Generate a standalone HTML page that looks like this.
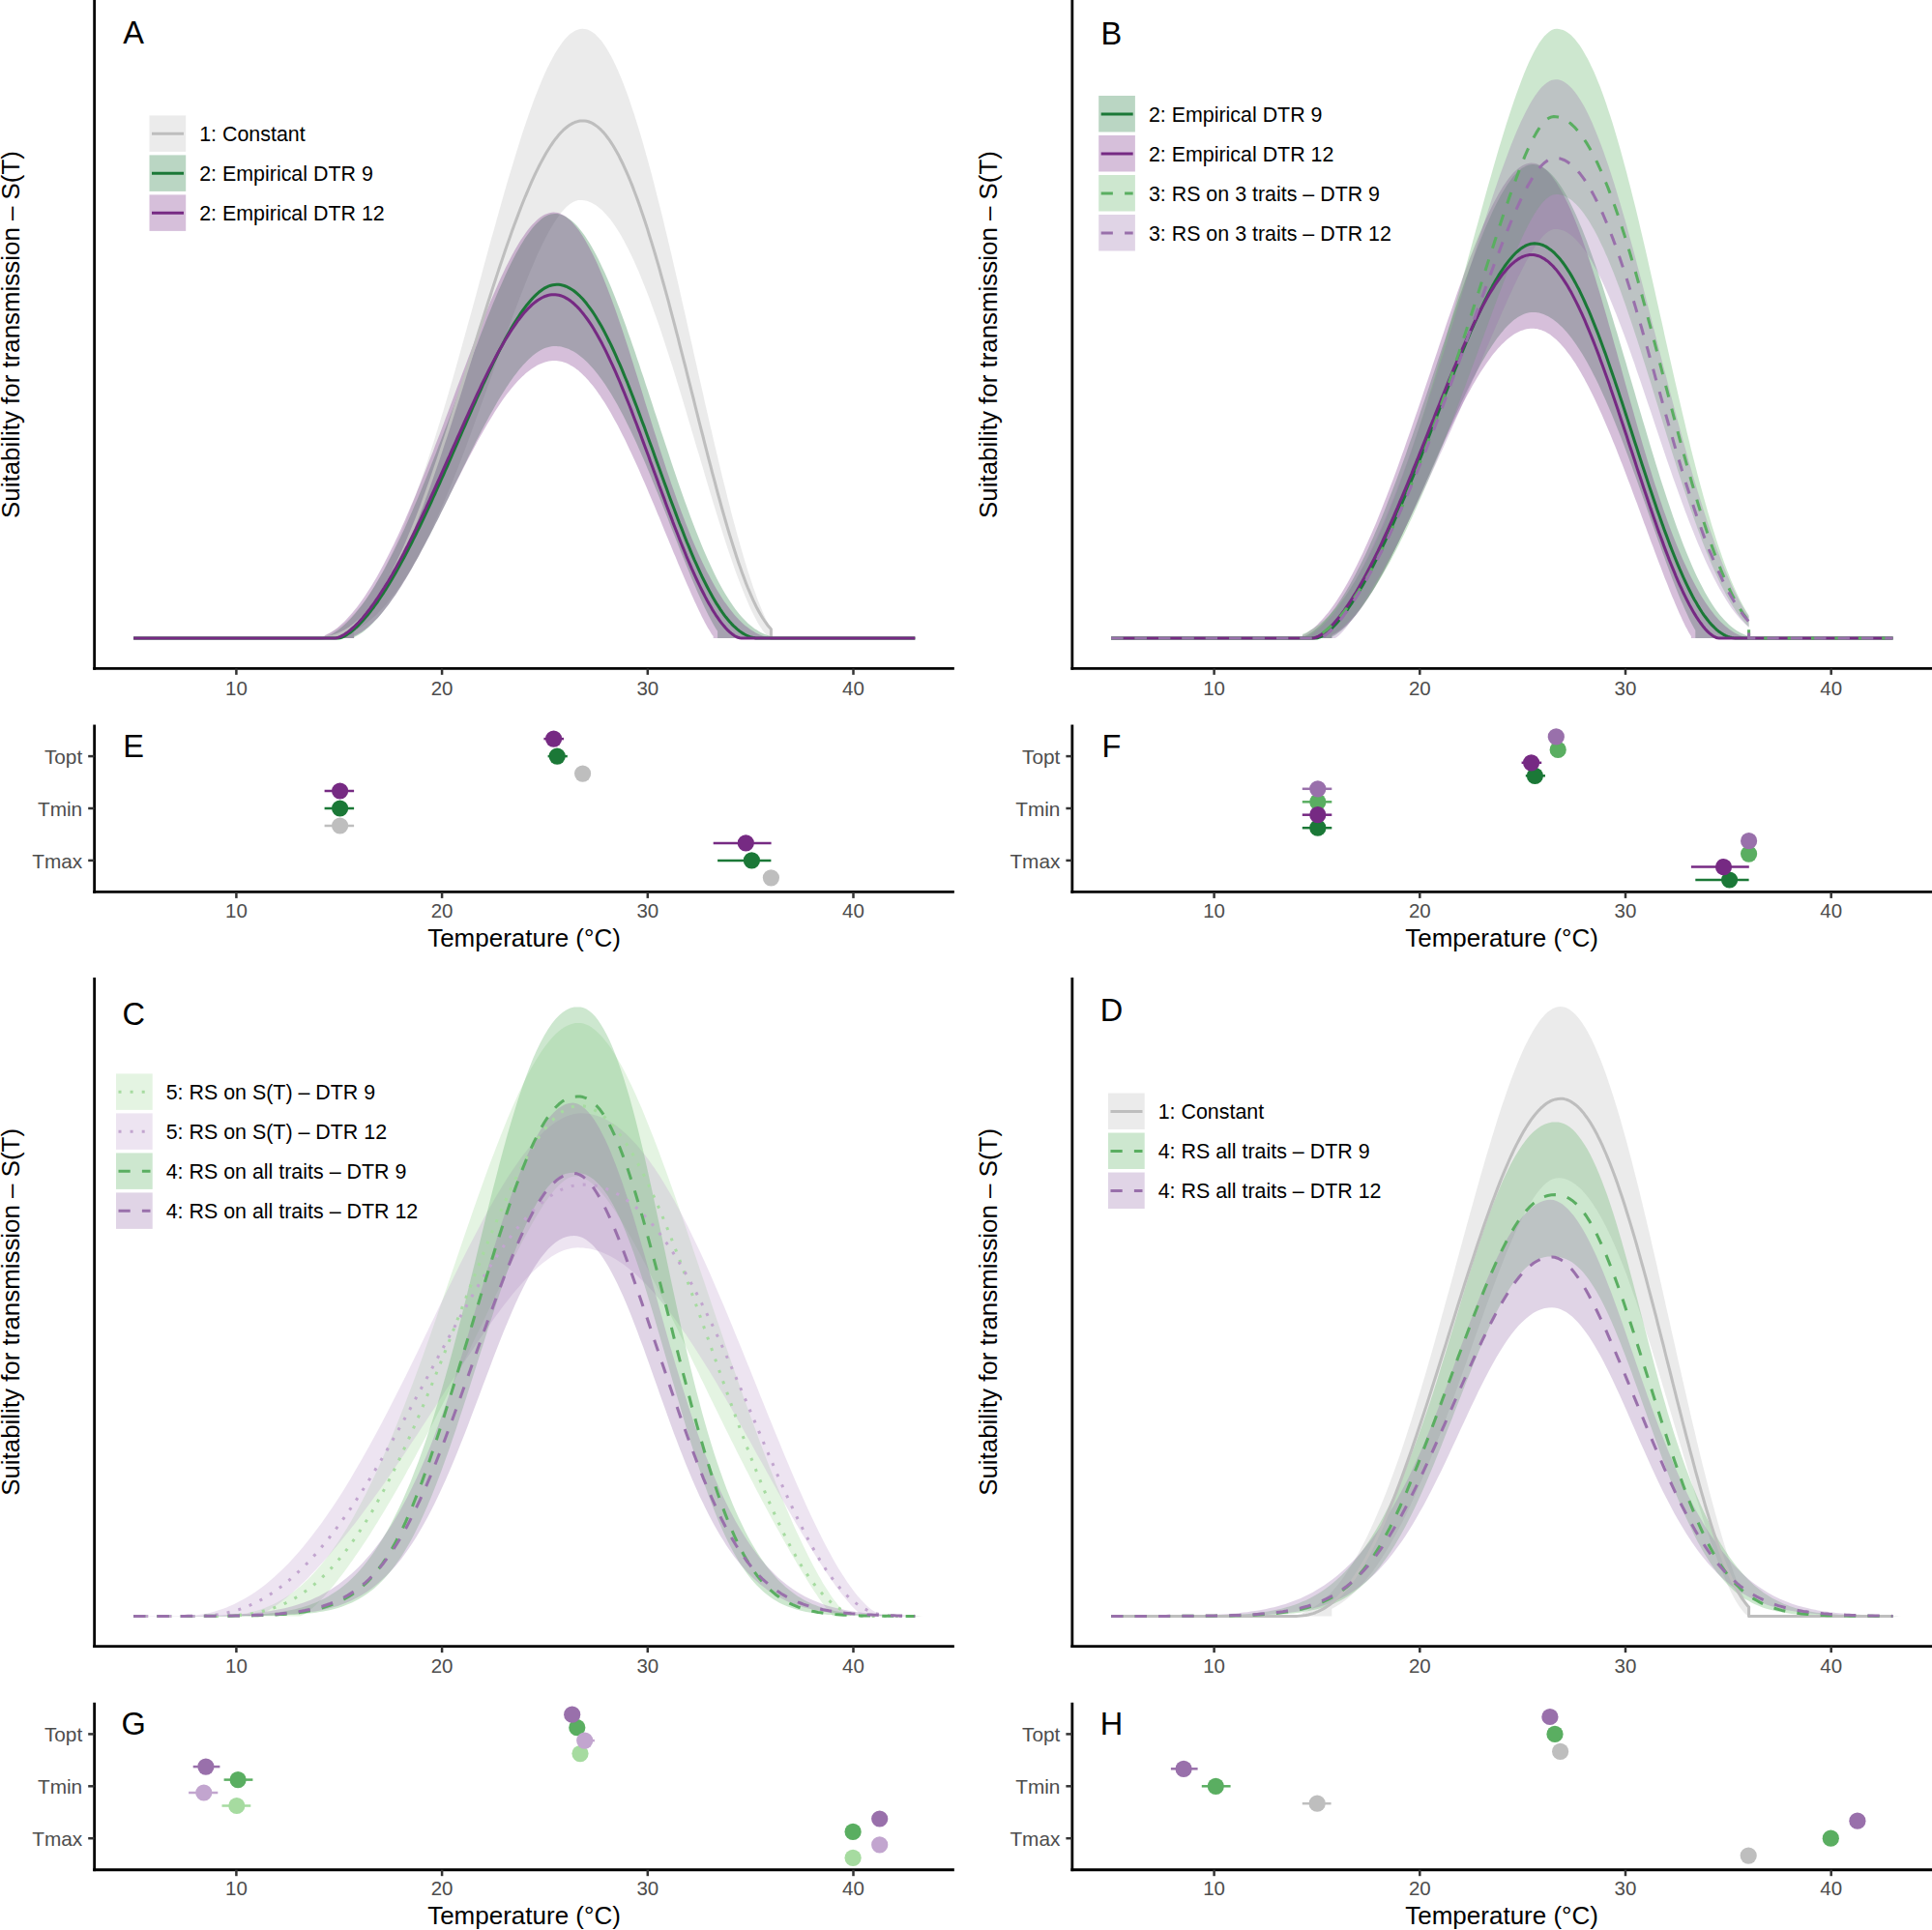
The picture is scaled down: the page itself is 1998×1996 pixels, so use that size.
<!DOCTYPE html>
<html lang="en"><head><meta charset="utf-8"><title>Suitability for transmission S(T)</title>
<style>html,body{margin:0;padding:0;background:#fff}body{width:1998px;height:1996px;overflow:hidden}svg{display:block}</style>
</head><body>
<svg width="1998" height="1996" viewBox="0 0 1998 1996" font-family='"Liberation Sans", sans-serif'>
<rect width="1998" height="1996" fill="#fff"/>
<g id="panelA">
<path d="M335.6,660.1 L335.6,656.7 L335.7,656.7 L338.3,655.6 L340.9,654.5 L343.6,653.1 L346.2,651.6 L348.8,650.0 L351.4,648.2 L354.0,646.2 L356.7,644.1 L359.3,641.8 L361.9,639.3 L364.5,636.6 L367.1,633.8 L369.7,630.8 L372.4,627.6 L375.0,624.2 L377.6,620.7 L380.2,617.0 L382.8,613.0 L385.5,609.0 L388.1,604.7 L390.7,600.2 L393.3,595.6 L395.9,590.8 L398.5,585.8 L401.2,580.6 L403.8,575.2 L406.4,569.7 L409.0,563.9 L411.6,558.0 L414.2,552.0 L416.9,545.7 L419.5,539.3 L422.1,532.7 L424.7,525.9 L427.3,519.0 L429.9,511.9 L432.5,504.6 L435.2,497.2 L437.8,489.6 L440.4,481.9 L443.0,474.0 L445.6,466.0 L448.2,457.9 L450.8,449.6 L453.4,441.2 L456.0,432.7 L458.7,424.0 L461.3,415.3 L463.9,406.4 L466.5,397.4 L469.1,388.4 L471.7,379.2 L474.3,370.0 L476.9,360.7 L479.5,351.3 L482.1,341.9 L484.7,332.5 L487.4,322.9 L490.0,313.4 L492.6,303.9 L495.2,294.3 L497.8,284.7 L500.4,275.1 L503.0,265.6 L505.6,256.1 L508.2,246.6 L510.9,237.2 L513.5,227.8 L516.1,218.5 L518.7,209.2 L521.3,200.1 L523.9,191.1 L526.5,182.2 L529.2,173.4 L531.8,164.7 L534.4,156.2 L537.0,147.9 L539.6,139.8 L542.2,131.8 L544.9,124.1 L547.5,116.5 L550.1,109.2 L552.7,102.1 L555.4,95.3 L558.0,88.8 L560.6,82.5 L563.2,76.5 L565.8,70.8 L568.5,65.5 L571.1,60.4 L573.7,55.7 L576.3,51.4 L579.0,47.4 L581.6,43.8 L584.2,40.6 L586.8,37.8 L589.4,35.3 L592.1,33.4 L594.7,31.8 L597.3,30.7 L599.9,30.0 L602.5,29.7 L604.4,29.9 L606.3,30.2 L608.2,30.8 L610.1,31.7 L611.9,32.8 L613.8,34.1 L615.7,35.6 L617.6,37.4 L619.5,39.4 L621.4,41.6 L623.3,44.1 L625.1,46.8 L627.0,49.6 L628.9,52.7 L630.8,56.0 L632.7,59.6 L634.6,63.3 L636.5,67.2 L638.3,71.3 L640.2,75.6 L642.1,80.1 L644.0,84.8 L645.9,89.7 L647.8,94.7 L649.7,100.0 L651.5,105.3 L653.4,110.9 L655.3,116.6 L657.2,122.5 L659.1,128.5 L661.0,134.7 L662.9,141.0 L664.8,147.4 L666.6,154.0 L668.5,160.7 L670.4,167.5 L672.3,174.5 L674.2,181.6 L676.1,188.7 L677.9,196.0 L679.8,203.4 L681.7,210.9 L683.6,218.4 L685.5,226.1 L687.3,233.8 L689.2,241.6 L691.1,249.5 L693.0,257.5 L694.9,265.5 L696.7,273.5 L698.6,281.6 L700.5,289.8 L702.4,298.0 L704.2,306.2 L706.1,314.5 L708.0,322.7 L709.9,331.1 L711.7,339.4 L713.6,347.7 L715.5,356.0 L717.3,364.4 L719.2,372.7 L721.1,381.0 L722.9,389.3 L724.8,397.6 L726.7,405.8 L728.5,414.0 L730.4,422.2 L732.3,430.4 L734.1,438.5 L736.0,446.5 L737.8,454.5 L739.7,462.5 L741.6,470.3 L743.4,478.1 L745.3,485.9 L747.1,493.5 L749.0,501.1 L750.9,508.6 L752.7,515.9 L754.6,523.2 L756.4,530.4 L758.3,537.5 L760.2,544.4 L762.0,551.3 L763.9,558.0 L765.7,564.5 L767.6,571.0 L769.4,577.3 L771.3,583.4 L773.1,589.4 L775.0,595.3 L776.9,601.0 L778.7,606.5 L780.6,611.8 L782.4,616.9 L784.3,621.9 L786.2,626.6 L788.0,631.1 L789.9,635.4 L791.7,639.5 L793.6,643.3 L795.5,646.8 L797.3,650.0 L797.4,650.2 L797.4,660.1 L797.4,660.1 L797.4,659.9 L796.0,659.4 L794.2,658.1 L792.4,656.4 L790.6,654.3 L788.8,652.0 L786.9,649.3 L785.1,646.5 L783.3,643.4 L781.5,640.1 L779.7,636.6 L777.9,633.0 L776.1,629.2 L774.3,625.2 L772.5,621.0 L770.7,616.7 L768.9,612.3 L767.1,607.8 L765.2,603.1 L763.4,598.3 L761.6,593.4 L759.8,588.4 L758.0,583.3 L756.2,578.0 L754.4,572.8 L752.6,567.4 L750.8,561.9 L749.0,556.4 L747.2,550.8 L745.4,545.1 L743.6,539.4 L741.8,533.6 L740.0,527.7 L738.2,521.9 L736.4,515.9 L734.6,510.0 L732.8,504.0 L731.0,498.0 L729.2,491.9 L727.4,485.8 L725.6,479.7 L723.8,473.6 L722.0,467.5 L720.1,461.4 L718.3,455.3 L716.5,449.2 L714.7,443.1 L712.9,437.0 L711.1,430.9 L709.3,424.8 L707.5,418.8 L705.7,412.8 L703.9,406.8 L702.1,400.9 L700.3,395.0 L698.5,389.1 L696.7,383.2 L694.9,377.5 L693.0,371.7 L691.2,366.1 L689.4,360.4 L687.6,354.9 L685.8,349.4 L684.0,343.9 L682.2,338.6 L680.4,333.3 L678.5,328.1 L676.7,322.9 L674.9,317.9 L673.1,312.9 L671.3,308.0 L669.5,303.2 L667.6,298.5 L665.8,293.9 L664.0,289.4 L662.2,285.0 L660.4,280.6 L658.6,276.4 L656.7,272.3 L654.9,268.3 L653.1,264.4 L651.3,260.7 L649.5,257.0 L647.6,253.5 L645.8,250.0 L644.0,246.7 L642.2,243.6 L640.4,240.5 L638.5,237.6 L636.7,234.8 L634.9,232.1 L633.1,229.5 L631.3,227.1 L629.4,224.8 L627.6,222.7 L625.8,220.7 L624.0,218.8 L622.2,217.0 L620.3,215.4 L618.5,213.9 L616.7,212.6 L614.9,211.4 L613.1,210.4 L611.3,209.4 L609.4,208.7 L607.6,208.0 L605.8,207.5 L604.0,207.2 L602.2,207.0 L600.4,206.9 L597.9,207.1 L595.5,207.7 L593.0,208.8 L590.6,210.2 L588.1,212.0 L585.6,214.2 L583.2,216.7 L580.7,219.6 L578.2,222.8 L575.8,226.2 L573.3,230.0 L570.8,234.0 L568.3,238.3 L565.9,242.8 L563.4,247.6 L560.9,252.6 L558.4,257.8 L555.9,263.1 L553.5,268.7 L551.0,274.4 L548.5,280.3 L546.0,286.3 L543.6,292.4 L541.1,298.7 L538.6,305.0 L536.2,311.5 L533.7,318.0 L531.2,324.6 L528.8,331.3 L526.3,338.0 L523.9,344.8 L521.5,351.6 L519.0,358.4 L516.6,365.3 L514.1,372.2 L511.7,379.0 L509.3,385.9 L506.9,392.8 L504.5,399.6 L502.0,406.4 L499.6,413.2 L497.2,420.0 L494.8,426.7 L492.4,433.3 L490.0,440.0 L487.6,446.5 L485.2,453.0 L482.9,459.4 L480.5,465.8 L478.1,472.1 L475.7,478.3 L473.3,484.5 L470.9,490.5 L468.6,496.5 L466.2,502.4 L463.8,508.1 L461.5,513.8 L459.1,519.4 L456.7,524.9 L454.4,530.3 L452.0,535.6 L449.6,540.8 L447.3,545.9 L444.9,550.9 L442.5,555.8 L440.2,560.6 L437.8,565.2 L435.4,569.8 L433.1,574.2 L430.7,578.5 L428.3,582.8 L426.0,586.9 L423.6,590.8 L421.2,594.7 L418.8,598.5 L416.5,602.1 L414.1,605.7 L411.7,609.1 L409.4,612.4 L407.0,615.6 L404.6,618.6 L402.2,621.6 L399.8,624.4 L397.5,627.2 L395.1,629.8 L392.7,632.3 L390.3,634.7 L387.9,637.0 L385.5,639.1 L383.1,641.2 L380.7,643.1 L378.3,645.0 L375.9,646.7 L373.5,648.3 L371.1,649.8 L368.7,651.2 L366.3,652.5 L366.1,652.6 L366.1,660.1Z" fill="#BEBEBE" fill-opacity="0.3" stroke="none"/>
<path d="M335.6,660.1 L335.6,659.0 L336.2,658.9 L338.4,658.1 L340.6,657.1 L342.8,656.0 L345.0,654.7 L347.2,653.3 L349.4,651.8 L351.6,650.1 L353.9,648.3 L356.1,646.3 L358.3,644.3 L360.5,642.1 L362.7,639.7 L364.9,637.3 L367.1,634.8 L369.3,632.1 L371.5,629.3 L373.7,626.5 L375.9,623.5 L378.1,620.4 L380.3,617.2 L382.5,613.9 L384.7,610.4 L386.9,606.9 L389.1,603.3 L391.3,599.6 L393.5,595.8 L395.7,591.9 L397.9,587.9 L400.1,583.8 L402.3,579.6 L404.5,575.3 L406.7,571.0 L408.9,566.5 L411.1,562.0 L413.3,557.4 L415.5,552.7 L417.8,547.9 L420.0,543.0 L422.2,538.1 L424.4,533.1 L426.6,528.0 L428.8,522.8 L431.1,517.6 L433.3,512.3 L435.5,507.0 L437.7,501.5 L440.0,496.1 L442.2,490.5 L444.4,485.0 L446.6,479.3 L448.9,473.6 L451.1,467.9 L453.3,462.1 L455.6,456.3 L457.8,450.5 L460.0,444.6 L462.3,438.7 L464.5,432.7 L466.8,426.8 L469.0,420.8 L471.2,414.8 L473.5,408.8 L475.7,402.8 L478.0,396.8 L480.2,390.8 L482.5,384.8 L484.7,378.8 L486.9,372.9 L489.2,366.9 L491.4,361.0 L493.7,355.2 L495.9,349.3 L498.1,343.5 L500.4,337.8 L502.6,332.1 L504.8,326.5 L507.1,320.9 L509.3,315.4 L511.6,310.0 L513.8,304.7 L516.0,299.5 L518.3,294.4 L520.5,289.4 L522.7,284.5 L524.9,279.7 L527.2,275.1 L529.4,270.6 L531.6,266.2 L533.8,262.0 L536.1,258.0 L538.3,254.1 L540.5,250.4 L542.7,246.8 L545.0,243.5 L547.2,240.4 L549.4,237.4 L551.6,234.7 L553.8,232.2 L556.1,229.9 L558.3,227.9 L560.5,226.1 L562.7,224.6 L565.0,223.3 L567.2,222.3 L569.4,221.6 L571.6,221.2 L573.9,221.0 L576.1,221.1 L578.3,221.5 L580.6,222.1 L582.8,223.0 L585.0,224.0 L587.3,225.4 L589.5,226.9 L591.7,228.7 L593.9,230.8 L596.2,233.0 L598.4,235.5 L600.6,238.2 L602.9,241.2 L605.1,244.3 L607.3,247.7 L609.6,251.2 L611.8,255.0 L614.0,259.0 L616.2,263.1 L618.5,267.4 L620.7,272.0 L622.9,276.7 L625.2,281.5 L627.4,286.6 L629.7,291.7 L631.9,297.1 L634.1,302.6 L636.4,308.2 L638.6,313.9 L640.9,319.8 L643.1,325.8 L645.4,331.9 L647.6,338.1 L649.8,344.4 L652.1,350.8 L654.3,357.3 L656.6,363.8 L658.8,370.5 L661.1,377.1 L663.3,383.9 L665.6,390.6 L667.8,397.4 L670.1,404.3 L672.3,411.1 L674.6,418.0 L676.8,424.9 L679.1,431.7 L681.3,438.6 L683.5,445.4 L685.8,452.3 L688.0,459.1 L690.3,465.8 L692.5,472.5 L694.7,479.2 L696.9,485.8 L699.2,492.4 L701.4,498.9 L703.6,505.3 L705.8,511.6 L708.0,517.8 L710.3,524.0 L712.5,530.0 L714.7,536.0 L716.9,541.8 L719.1,547.5 L721.3,553.1 L723.5,558.6 L725.7,564.0 L727.9,569.2 L730.1,574.3 L732.3,579.3 L734.5,584.1 L736.7,588.8 L738.8,593.3 L741.0,597.7 L743.2,601.9 L745.4,606.0 L747.6,609.9 L749.8,613.7 L752.0,617.3 L754.2,620.8 L756.4,624.1 L758.6,627.2 L760.7,630.2 L762.9,633.1 L765.1,635.7 L767.3,638.2 L769.5,640.6 L771.7,642.8 L773.9,644.9 L776.1,646.8 L778.3,648.5 L780.5,650.2 L782.8,651.6 L785.0,653.0 L787.2,654.2 L789.4,655.3 L791.6,656.2 L793.8,657.0 L796.1,657.7 L798.3,658.4 L800.5,658.9 L802.7,659.3 L805.0,659.6 L807.2,659.8 L809.4,660.0 L811.7,660.0 L813.9,660.1 L816.1,660.1 L742.1,660.1 L742.1,652.8 L740.5,650.4 L738.9,647.7 L737.3,645.0 L735.7,642.0 L734.1,639.0 L732.5,635.9 L730.9,632.7 L729.3,629.4 L727.6,626.0 L726.0,622.6 L724.4,619.1 L722.8,615.5 L721.2,611.9 L719.6,608.2 L718.0,604.4 L716.4,600.7 L714.8,596.9 L713.2,593.0 L711.6,589.1 L710.0,585.2 L708.4,581.3 L706.8,577.3 L705.2,573.4 L703.6,569.4 L702.0,565.4 L700.4,561.3 L698.8,557.3 L697.2,553.3 L695.6,549.2 L694.0,545.2 L692.4,541.2 L690.9,537.1 L689.3,533.1 L687.7,529.1 L686.1,525.1 L684.5,521.0 L682.9,517.1 L681.3,513.1 L679.7,509.1 L678.1,505.2 L676.5,501.3 L674.9,497.4 L673.4,493.5 L671.8,489.7 L670.2,485.9 L668.6,482.1 L667.0,478.3 L665.4,474.6 L663.8,470.9 L662.2,467.3 L660.6,463.7 L659.0,460.1 L657.4,456.6 L655.8,453.1 L654.2,449.7 L652.6,446.3 L651.0,443.0 L649.4,439.7 L647.8,436.5 L646.2,433.3 L644.6,430.1 L643.0,427.0 L641.4,424.0 L639.8,421.1 L638.2,418.1 L636.6,415.3 L635.0,412.5 L633.4,409.8 L631.8,407.1 L630.2,404.5 L628.6,401.9 L627.0,399.5 L625.4,397.0 L623.8,394.7 L622.2,392.4 L620.5,390.2 L618.9,388.1 L617.3,386.0 L615.7,384.0 L614.1,382.0 L612.5,380.2 L610.9,378.4 L609.3,376.7 L607.7,375.0 L606.1,373.4 L604.5,371.9 L602.8,370.5 L601.2,369.2 L599.6,367.9 L598.0,366.7 L596.4,365.6 L594.8,364.5 L593.2,363.6 L591.6,362.7 L590.0,361.9 L588.4,361.1 L586.8,360.5 L585.2,359.9 L583.6,359.4 L582.0,359.0 L580.4,358.6 L578.7,358.3 L577.1,358.2 L575.5,358.0 L573.9,358.0 L572.0,358.1 L570.1,358.3 L568.1,358.7 L566.2,359.2 L564.3,359.8 L562.3,360.6 L560.4,361.5 L558.5,362.6 L556.5,363.7 L554.6,365.1 L552.6,366.5 L550.7,368.0 L548.8,369.7 L546.8,371.5 L544.9,373.4 L543.0,375.4 L541.0,377.5 L539.1,379.7 L537.1,382.1 L535.2,384.5 L533.3,387.0 L531.3,389.6 L529.4,392.3 L527.4,395.1 L525.5,397.9 L523.6,400.8 L521.6,403.9 L519.7,406.9 L517.8,410.1 L515.8,413.3 L513.9,416.6 L511.9,420.0 L510.0,423.4 L508.1,426.8 L506.1,430.3 L504.2,433.9 L502.3,437.5 L500.3,441.2 L498.4,444.8 L496.5,448.6 L494.6,452.3 L492.6,456.1 L490.7,459.9 L488.8,463.8 L486.8,467.7 L484.9,471.5 L483.0,475.4 L481.1,479.4 L479.1,483.3 L477.2,487.2 L475.3,491.2 L473.3,495.1 L471.4,499.1 L469.5,503.1 L467.6,507.0 L465.6,511.0 L463.7,514.9 L461.8,518.8 L459.9,522.7 L457.9,526.7 L456.0,530.5 L454.1,534.4 L452.2,538.3 L450.2,542.1 L448.3,545.9 L446.4,549.7 L444.5,553.4 L442.5,557.1 L440.6,560.8 L438.7,564.5 L436.7,568.1 L434.8,571.6 L432.9,575.2 L431.0,578.7 L429.0,582.1 L427.1,585.5 L425.2,588.9 L423.2,592.2 L421.3,595.5 L419.4,598.7 L417.4,601.8 L415.5,604.9 L413.6,608.0 L411.6,610.9 L409.7,613.9 L407.8,616.7 L405.8,619.5 L403.9,622.3 L402.0,624.9 L400.0,627.5 L398.1,630.0 L396.2,632.5 L394.2,634.9 L392.3,637.2 L390.4,639.4 L388.4,641.5 L386.5,643.6 L384.5,645.5 L382.6,647.4 L380.7,649.2 L378.7,650.8 L376.8,652.4 L374.9,653.9 L372.9,655.2 L371.0,656.4 L369.1,657.5 L367.1,658.5 L366.1,658.9 L366.1,660.1Z" fill="#1B7837" fill-opacity="0.3" stroke="none"/>
<path d="M335.6,660.1 L335.6,657.4 L337.7,656.5 L340.0,655.3 L342.2,654.0 L344.5,652.5 L346.7,650.9 L349.0,649.2 L351.2,647.3 L353.4,645.3 L355.7,643.2 L357.9,641.0 L360.1,638.6 L362.4,636.1 L364.6,633.5 L366.8,630.8 L369.1,628.0 L371.3,625.0 L373.5,622.0 L375.8,618.8 L378.0,615.5 L380.2,612.1 L382.5,608.6 L384.7,604.9 L386.9,601.2 L389.2,597.4 L391.4,593.5 L393.6,589.4 L395.9,585.3 L398.1,581.1 L400.3,576.7 L402.6,572.3 L404.8,567.8 L407.1,563.2 L409.3,558.5 L411.6,553.7 L413.8,548.9 L416.0,543.9 L418.3,538.9 L420.5,533.8 L422.8,528.6 L425.0,523.3 L427.3,518.0 L429.6,512.6 L431.8,507.1 L434.1,501.6 L436.3,496.0 L438.6,490.3 L440.9,484.6 L443.1,478.8 L445.4,473.0 L447.7,467.2 L449.9,461.3 L452.2,455.3 L454.5,449.4 L456.8,443.4 L459.1,437.3 L461.3,431.3 L463.6,425.2 L465.9,419.1 L468.2,413.0 L470.4,406.9 L472.7,400.8 L475.0,394.7 L477.3,388.6 L479.6,382.5 L481.9,376.5 L484.1,370.4 L486.4,364.4 L488.7,358.5 L491.0,352.5 L493.3,346.6 L495.5,340.8 L497.8,335.0 L500.1,329.3 L502.4,323.7 L504.7,318.1 L506.9,312.6 L509.2,307.2 L511.5,301.9 L513.8,296.7 L516.0,291.6 L518.3,286.6 L520.6,281.8 L522.8,277.0 L525.1,272.4 L527.4,268.0 L529.6,263.7 L531.9,259.5 L534.2,255.6 L536.4,251.7 L538.7,248.1 L541.0,244.7 L543.2,241.4 L545.5,238.3 L547.7,235.5 L550.0,232.8 L552.3,230.4 L554.5,228.2 L556.8,226.3 L559.0,224.5 L561.3,223.1 L563.6,221.8 L565.8,220.9 L568.1,220.2 L570.4,219.8 L572.6,219.6 L574.7,219.8 L576.9,220.1 L579.0,220.8 L581.1,221.7 L583.2,222.8 L585.3,224.2 L587.4,225.9 L589.6,227.7 L591.7,229.8 L593.8,232.2 L595.9,234.8 L598.1,237.6 L600.2,240.6 L602.3,243.8 L604.5,247.2 L606.6,250.9 L608.7,254.7 L610.8,258.7 L613.0,262.9 L615.1,267.3 L617.2,271.8 L619.3,276.6 L621.4,281.4 L623.5,286.5 L625.6,291.7 L627.7,297.0 L629.8,302.4 L631.9,308.0 L634.0,313.7 L636.1,319.5 L638.2,325.4 L640.2,331.4 L642.3,337.6 L644.4,343.7 L646.4,350.0 L648.5,356.3 L650.6,362.7 L652.6,369.2 L654.7,375.7 L656.7,382.3 L658.8,388.8 L660.9,395.4 L662.9,402.1 L665.0,408.7 L667.0,415.4 L669.1,422.0 L671.2,428.7 L673.2,435.3 L675.3,442.0 L677.4,448.6 L679.5,455.1 L681.5,461.7 L683.6,468.2 L685.7,474.6 L687.8,481.0 L689.9,487.4 L692.0,493.6 L694.1,499.9 L696.3,506.0 L698.4,512.0 L700.5,518.0 L702.7,523.9 L704.8,529.7 L707.0,535.4 L709.1,541.0 L711.3,546.5 L713.5,551.9 L715.6,557.2 L717.8,562.4 L720.0,567.4 L722.2,572.4 L724.4,577.2 L726.6,581.9 L728.8,586.4 L731.0,590.9 L733.2,595.1 L735.4,599.3 L737.6,603.3 L739.8,607.2 L742.0,611.0 L744.2,614.6 L746.4,618.1 L748.6,621.4 L750.9,624.6 L753.1,627.6 L755.3,630.5 L757.5,633.3 L759.7,635.9 L761.9,638.4 L764.1,640.7 L766.3,642.9 L768.4,645.0 L770.6,646.9 L772.8,648.6 L775.0,650.3 L777.1,651.8 L779.3,653.1 L781.5,654.4 L783.6,655.5 L785.8,656.4 L787.9,657.3 L790.0,658.0 L792.2,658.6 L794.3,659.1 L796.4,659.5 L798.5,659.8 L800.6,660.0 L802.8,660.1 L804.9,660.1 L737.7,660.1 L737.7,658.1 L736.4,656.4 L734.9,654.1 L733.4,651.6 L731.8,649.0 L730.3,646.2 L728.8,643.4 L727.3,640.4 L725.7,637.4 L724.2,634.3 L722.7,631.2 L721.2,628.0 L719.7,624.7 L718.1,621.4 L716.6,618.1 L715.1,614.7 L713.6,611.3 L712.1,607.8 L710.5,604.3 L709.0,600.8 L707.5,597.3 L706.0,593.7 L704.4,590.1 L702.9,586.5 L701.4,582.9 L699.9,579.3 L698.4,575.6 L696.8,572.0 L695.3,568.3 L693.8,564.6 L692.3,560.9 L690.8,557.3 L689.2,553.6 L687.7,549.9 L686.2,546.2 L684.7,542.5 L683.2,538.8 L681.7,535.1 L680.1,531.5 L678.6,527.8 L677.1,524.1 L675.6,520.5 L674.1,516.9 L672.5,513.3 L671.0,509.7 L669.5,506.1 L668.0,502.6 L666.5,499.0 L664.9,495.5 L663.4,492.0 L661.9,488.6 L660.4,485.1 L658.9,481.7 L657.3,478.3 L655.8,475.0 L654.3,471.7 L652.8,468.4 L651.2,465.2 L649.7,461.9 L648.2,458.8 L646.7,455.6 L645.2,452.6 L643.6,449.5 L642.1,446.5 L640.6,443.5 L639.1,440.6 L637.6,437.8 L636.0,434.9 L634.5,432.2 L633.0,429.4 L631.5,426.8 L629.9,424.1 L628.4,421.6 L626.9,419.1 L625.4,416.6 L623.9,414.2 L622.3,411.9 L620.8,409.6 L619.3,407.4 L617.8,405.2 L616.2,403.1 L614.7,401.1 L613.2,399.1 L611.7,397.2 L610.1,395.4 L608.6,393.6 L607.1,391.9 L605.6,390.3 L604.0,388.7 L602.5,387.2 L601.0,385.8 L599.5,384.4 L598.0,383.1 L596.4,381.9 L594.9,380.8 L593.4,379.7 L591.9,378.8 L590.3,377.9 L588.8,377.0 L587.3,376.3 L585.8,375.6 L584.2,375.0 L582.7,374.5 L581.2,374.0 L579.7,373.7 L578.2,373.4 L576.6,373.2 L575.1,373.1 L573.6,373.0 L571.6,373.1 L569.6,373.3 L567.6,373.6 L565.6,374.0 L563.7,374.5 L561.7,375.2 L559.7,375.9 L557.7,376.8 L555.7,377.8 L553.7,378.9 L551.7,380.2 L549.7,381.5 L547.8,382.9 L545.8,384.5 L543.8,386.1 L541.8,387.9 L539.8,389.8 L537.8,391.7 L535.8,393.8 L533.8,396.0 L531.8,398.2 L529.9,400.6 L527.9,403.0 L525.9,405.5 L523.9,408.1 L521.9,410.8 L519.9,413.6 L517.9,416.5 L515.9,419.4 L513.9,422.4 L511.9,425.5 L510.0,428.7 L508.0,431.9 L506.0,435.2 L504.0,438.5 L502.0,441.9 L500.0,445.4 L498.0,448.9 L496.0,452.5 L494.0,456.1 L492.1,459.8 L490.1,463.5 L488.1,467.2 L486.1,471.0 L484.1,474.8 L482.1,478.6 L480.1,482.5 L478.1,486.4 L476.2,490.3 L474.2,494.2 L472.2,498.2 L470.2,502.1 L468.2,506.1 L466.2,510.1 L464.3,514.1 L462.3,518.0 L460.3,522.0 L458.3,526.0 L456.3,530.0 L454.4,533.9 L452.4,537.9 L450.4,541.8 L448.4,545.7 L446.4,549.6 L444.5,553.4 L442.5,557.2 L440.5,561.0 L438.5,564.8 L436.5,568.5 L434.6,572.2 L432.6,575.9 L430.6,579.5 L428.6,583.0 L426.7,586.5 L424.7,590.0 L422.7,593.4 L420.7,596.7 L418.8,600.0 L416.8,603.2 L414.8,606.4 L412.8,609.5 L410.9,612.5 L408.9,615.4 L406.9,618.3 L404.9,621.1 L403.0,623.8 L401.0,626.5 L399.0,629.0 L397.0,631.5 L395.0,633.9 L393.1,636.2 L391.1,638.4 L389.1,640.6 L387.1,642.6 L385.2,644.5 L383.2,646.3 L381.2,648.1 L379.2,649.7 L377.3,651.2 L375.3,652.6 L373.3,653.9 L371.3,655.1 L369.3,656.2 L367.4,657.2 L366.1,657.7 L366.1,660.1Z" fill="#762A83" fill-opacity="0.3" stroke="none"/>
<path d="M138.1,660.1 L326.7,660.1 L329.2,660.1 L331.7,660.0 L334.2,659.8 L336.8,659.5 L339.3,659.1 L341.8,658.6 L344.3,658.0 L346.8,657.3 L349.3,656.4 L351.8,655.3 L354.3,654.1 L356.8,652.8 L359.3,651.3 L361.8,649.7 L364.3,647.9 L366.8,646.0 L369.3,643.8 L371.8,641.5 L374.3,639.1 L376.7,636.5 L379.2,633.7 L381.7,630.7 L384.2,627.6 L386.6,624.3 L389.1,620.8 L391.6,617.1 L394.1,613.3 L396.5,609.3 L399.0,605.1 L401.5,600.8 L404.0,596.2 L406.4,591.5 L408.9,586.7 L411.4,581.6 L413.8,576.5 L416.3,571.1 L418.8,565.6 L421.3,559.9 L423.7,554.1 L426.2,548.1 L428.7,542.0 L431.2,535.7 L433.7,529.3 L436.2,522.7 L438.6,516.1 L441.1,509.3 L443.6,502.3 L446.1,495.3 L448.6,488.1 L451.1,480.8 L453.6,473.5 L456.1,466.0 L458.6,458.4 L461.2,450.8 L463.7,443.1 L466.2,435.3 L468.7,427.4 L471.2,419.5 L473.8,411.5 L476.3,403.5 L478.8,395.5 L481.3,387.4 L483.9,379.3 L486.4,371.2 L488.9,363.1 L491.5,354.9 L494.0,346.8 L496.5,338.7 L499.1,330.7 L501.6,322.7 L504.1,314.7 L506.7,306.7 L509.2,298.9 L511.8,291.1 L514.3,283.4 L516.8,275.7 L519.4,268.2 L521.9,260.7 L524.4,253.4 L527.0,246.2 L529.5,239.1 L532.0,232.2 L534.6,225.4 L537.1,218.8 L539.6,212.3 L542.1,206.0 L544.7,199.9 L547.2,194.0 L549.7,188.2 L552.2,182.7 L554.7,177.4 L557.2,172.3 L559.8,167.4 L562.3,162.7 L564.8,158.3 L567.3,154.2 L569.8,150.3 L572.3,146.6 L574.9,143.2 L577.4,140.1 L579.9,137.3 L582.4,134.7 L584.9,132.5 L587.4,130.5 L589.9,128.8 L592.5,127.4 L595.0,126.3 L597.5,125.6 L600.0,125.1 L602.5,124.9 L604.5,125.0 L606.5,125.3 L608.5,125.8 L610.4,126.5 L612.4,127.4 L614.4,128.6 L616.3,129.9 L618.3,131.4 L620.3,133.1 L622.2,135.0 L624.2,137.1 L626.2,139.4 L628.1,142.0 L630.1,144.7 L632.1,147.6 L634.1,150.7 L636.0,154.0 L638.0,157.5 L640.0,161.1 L641.9,165.0 L643.9,169.0 L645.9,173.3 L647.8,177.7 L649.8,182.2 L651.8,187.0 L653.8,191.9 L655.7,197.0 L657.7,202.2 L659.7,207.6 L661.7,213.2 L663.6,218.9 L665.6,224.8 L667.6,230.8 L669.6,236.9 L671.5,243.2 L673.5,249.6 L675.5,256.1 L677.5,262.8 L679.5,269.6 L681.5,276.4 L683.4,283.4 L685.4,290.5 L687.4,297.7 L689.4,304.9 L691.4,312.2 L693.3,319.7 L695.3,327.1 L697.3,334.7 L699.3,342.3 L701.3,349.9 L703.2,357.6 L705.2,365.4 L707.2,373.1 L709.2,380.9 L711.1,388.7 L713.1,396.5 L715.1,404.4 L717.1,412.2 L719.0,420.0 L721.0,427.8 L722.9,435.6 L724.9,443.3 L726.9,451.0 L728.8,458.7 L730.8,466.3 L732.7,473.9 L734.7,481.3 L736.6,488.8 L738.6,496.1 L740.5,503.4 L742.4,510.5 L744.4,517.6 L746.3,524.6 L748.2,531.4 L750.2,538.2 L752.1,544.8 L754.0,551.2 L756.0,557.6 L757.9,563.8 L759.8,569.8 L761.7,575.7 L763.6,581.4 L765.6,587.0 L767.5,592.4 L769.4,597.6 L771.3,602.7 L773.2,607.5 L775.2,612.2 L777.1,616.6 L779.0,620.9 L780.9,624.9 L782.8,628.8 L784.8,632.4 L786.7,635.8 L788.6,639.0 L790.6,642.0 L792.5,644.7 L794.4,647.3 L796.4,649.6 L797.4,650.7 L797.4,660.1 L946.3,660.1" fill="none" stroke="#BEBEBE" stroke-width="3.04" stroke-linejoin="round"/>
<path d="M138.1,660.1 L349.6,660.1 L351.7,659.7 L353.8,659.0 L355.8,658.1 L357.9,656.9 L359.9,655.6 L362.0,654.2 L364.0,652.6 L366.1,650.9 L368.1,649.0 L370.2,647.1 L372.2,645.0 L374.3,642.8 L376.3,640.5 L378.4,638.1 L380.4,635.7 L382.5,633.1 L384.5,630.4 L386.6,627.7 L388.6,624.9 L390.7,622.0 L392.7,619.0 L394.7,615.9 L396.8,612.8 L398.8,609.6 L400.9,606.3 L402.9,602.9 L405.0,599.5 L407.0,596.0 L409.1,592.4 L411.1,588.8 L413.2,585.1 L415.2,581.4 L417.3,577.6 L419.3,573.7 L421.4,569.8 L423.4,565.8 L425.5,561.8 L427.5,557.7 L429.6,553.6 L431.6,549.4 L433.7,545.2 L435.7,541.0 L437.8,536.6 L439.8,532.3 L441.9,527.9 L443.9,523.5 L446.0,519.0 L448.0,514.5 L450.1,510.0 L452.1,505.4 L454.2,500.9 L456.2,496.2 L458.3,491.6 L460.3,486.9 L462.4,482.3 L464.4,477.6 L466.5,472.9 L468.5,468.2 L470.6,463.4 L472.7,458.7 L474.7,454.0 L476.8,449.2 L478.8,444.5 L480.9,439.8 L482.9,435.1 L485.0,430.4 L487.1,425.7 L489.1,421.0 L491.2,416.3 L493.2,411.7 L495.3,407.1 L497.4,402.5 L499.4,398.0 L501.5,393.5 L503.6,389.1 L505.6,384.7 L507.7,380.3 L509.7,376.0 L511.8,371.8 L513.9,367.6 L515.9,363.5 L518.0,359.4 L520.1,355.5 L522.1,351.6 L524.2,347.8 L526.3,344.1 L528.3,340.4 L530.4,336.9 L532.4,333.5 L534.5,330.2 L536.6,327.0 L538.6,323.9 L540.7,321.0 L542.8,318.1 L544.8,315.4 L546.9,312.9 L549.0,310.5 L551.0,308.2 L553.1,306.1 L555.2,304.1 L557.2,302.3 L559.3,300.7 L561.3,299.2 L563.4,297.9 L565.5,296.8 L567.5,295.9 L569.6,295.2 L571.6,294.7 L573.7,294.4 L575.8,294.3 L577.7,294.3 L579.6,294.6 L581.5,295.0 L583.5,295.5 L585.4,296.2 L587.3,297.1 L589.2,298.1 L591.1,299.2 L593.1,300.5 L595.0,302.0 L596.9,303.6 L598.8,305.3 L600.7,307.2 L602.7,309.3 L604.6,311.5 L606.5,313.8 L608.4,316.3 L610.3,318.9 L612.3,321.6 L614.2,324.5 L616.1,327.5 L618.0,330.7 L619.9,333.9 L621.9,337.3 L623.8,340.8 L625.7,344.4 L627.6,348.1 L629.5,352.0 L631.5,355.9 L633.4,360.0 L635.3,364.2 L637.2,368.4 L639.1,372.8 L641.1,377.2 L643.0,381.7 L644.9,386.3 L646.8,391.0 L648.8,395.7 L650.7,400.6 L652.6,405.5 L654.5,410.4 L656.4,415.4 L658.4,420.5 L660.3,425.6 L662.2,430.7 L664.1,435.9 L666.1,441.1 L668.0,446.4 L669.9,451.7 L671.8,457.0 L673.8,462.3 L675.7,467.6 L677.6,473.0 L679.5,478.3 L681.5,483.7 L683.4,489.0 L685.3,494.3 L687.2,499.6 L689.2,504.9 L691.1,510.2 L693.0,515.4 L694.9,520.6 L696.9,525.8 L698.8,530.9 L700.7,536.0 L702.6,541.0 L704.6,545.9 L706.5,550.8 L708.4,555.7 L710.3,560.5 L712.3,565.2 L714.2,569.8 L716.1,574.3 L718.0,578.8 L720.0,583.1 L721.9,587.4 L723.8,591.6 L725.7,595.7 L727.7,599.7 L729.6,603.5 L731.5,607.3 L733.4,610.9 L735.4,614.5 L737.3,617.9 L739.2,621.2 L741.1,624.4 L743.1,627.4 L745.0,630.4 L746.9,633.2 L748.8,635.8 L750.7,638.3 L752.7,640.7 L754.6,643.0 L756.5,645.1 L758.4,647.1 L760.4,648.9 L762.3,650.6 L764.2,652.2 L766.1,653.6 L768.1,654.9 L770.0,656.0 L771.9,657.0 L773.8,657.9 L775.7,658.6 L777.7,659.1 L779.6,659.6 L781.5,659.9 L783.4,660.0 L785.4,660.1 L946.3,660.1" fill="none" stroke="#1B7837" stroke-width="3.04" stroke-linejoin="round"/>
<path d="M138.1,660.1 L346.0,660.1 L348.1,659.8 L350.1,659.1 L352.2,658.3 L354.3,657.2 L356.3,656.0 L358.4,654.6 L360.4,653.1 L362.5,651.5 L364.5,649.7 L366.6,647.8 L368.6,645.8 L370.7,643.7 L372.7,641.5 L374.8,639.2 L376.8,636.8 L378.9,634.3 L380.9,631.7 L383.0,629.0 L385.0,626.2 L387.1,623.4 L389.1,620.4 L391.2,617.4 L393.2,614.3 L395.2,611.1 L397.3,607.9 L399.3,604.6 L401.4,601.2 L403.4,597.7 L405.5,594.2 L407.5,590.6 L409.6,586.9 L411.6,583.2 L413.7,579.4 L415.7,575.6 L417.8,571.7 L419.8,567.7 L421.9,563.7 L423.9,559.6 L426.0,555.5 L428.0,551.4 L430.1,547.2 L432.1,542.9 L434.2,538.6 L436.2,534.3 L438.3,530.0 L440.4,525.6 L442.4,521.1 L444.5,516.7 L446.5,512.2 L448.6,507.6 L450.6,503.1 L452.7,498.5 L454.8,493.9 L456.8,489.3 L458.9,484.7 L460.9,480.1 L463.0,475.4 L465.1,470.8 L467.1,466.1 L469.2,461.5 L471.3,456.8 L473.3,452.2 L475.4,447.6 L477.5,442.9 L479.5,438.3 L481.6,433.7 L483.7,429.1 L485.7,424.6 L487.8,420.1 L489.9,415.6 L491.9,411.1 L494.0,406.7 L496.1,402.3 L498.1,398.0 L500.2,393.7 L502.3,389.5 L504.4,385.3 L506.4,381.2 L508.5,377.1 L510.6,373.1 L512.6,369.2 L514.7,365.3 L516.8,361.6 L518.9,357.9 L520.9,354.3 L523.0,350.8 L525.1,347.4 L527.1,344.1 L529.2,340.9 L531.3,337.8 L533.4,334.8 L535.4,331.9 L537.5,329.2 L539.6,326.5 L541.6,324.0 L543.7,321.7 L545.8,319.4 L547.9,317.4 L549.9,315.4 L552.0,313.6 L554.1,312.0 L556.1,310.5 L558.2,309.2 L560.3,308.0 L562.3,307.0 L564.4,306.2 L566.5,305.5 L568.5,305.1 L570.6,304.8 L572.7,304.7 L574.4,304.8 L576.2,305.0 L578.0,305.3 L579.8,305.8 L581.6,306.4 L583.4,307.2 L585.2,308.1 L586.9,309.1 L588.7,310.3 L590.5,311.6 L592.3,313.0 L594.1,314.6 L595.9,316.3 L597.7,318.1 L599.5,320.0 L601.2,322.1 L603.0,324.3 L604.8,326.6 L606.6,329.0 L608.4,331.5 L610.2,334.1 L612.0,336.9 L613.8,339.8 L615.5,342.7 L617.3,345.8 L619.1,349.0 L620.9,352.3 L622.7,355.6 L624.5,359.1 L626.3,362.6 L628.1,366.3 L629.8,370.0 L631.6,373.8 L633.4,377.7 L635.2,381.7 L637.0,385.7 L638.8,389.8 L640.6,394.0 L642.4,398.3 L644.1,402.6 L645.9,406.9 L647.7,411.3 L649.5,415.8 L651.3,420.3 L653.1,424.9 L654.8,429.5 L656.6,434.2 L658.4,438.8 L660.2,443.6 L662.0,448.3 L663.7,453.1 L665.5,457.9 L667.3,462.7 L669.1,467.5 L670.9,472.3 L672.6,477.2 L674.4,482.0 L676.2,486.9 L678.0,491.8 L679.8,496.6 L681.5,501.5 L683.3,506.3 L685.1,511.1 L686.9,515.9 L688.6,520.7 L690.4,525.5 L692.2,530.2 L694.0,534.9 L695.7,539.6 L697.5,544.2 L699.3,548.8 L701.1,553.3 L702.8,557.8 L704.6,562.3 L706.4,566.6 L708.2,571.0 L709.9,575.3 L711.7,579.5 L713.5,583.6 L715.2,587.7 L717.0,591.7 L718.8,595.6 L720.6,599.5 L722.3,603.2 L724.1,606.9 L725.9,610.5 L727.7,614.0 L729.4,617.4 L731.2,620.8 L733.0,624.0 L734.8,627.1 L736.5,630.1 L738.3,633.0 L740.1,635.8 L741.9,638.4 L743.6,640.9 L745.4,643.4 L747.2,645.6 L749.0,647.8 L750.7,649.8 L752.5,651.6 L754.3,653.3 L756.1,654.9 L757.9,656.3 L759.6,657.5 L761.4,658.5 L763.2,659.3 L765.0,659.8 L766.8,660.1 L946.3,660.1" fill="none" stroke="#762A83" stroke-width="3.04" stroke-linejoin="round"/>
<line x1="97.65" y1="0.0" x2="97.65" y2="692.8" stroke="#000" stroke-width="2.8"/>
<line x1="96.25" y1="691.4" x2="986.85" y2="691.4" stroke="#000" stroke-width="2.8"/>
<line x1="244.4" y1="691.4" x2="244.4" y2="697.85" stroke="#333" stroke-width="2.5"/>
<text x="244.4" y="718.8" font-size="20.5" fill="#4D4D4D" text-anchor="middle">10</text>
<line x1="457.1" y1="691.4" x2="457.1" y2="697.85" stroke="#333" stroke-width="2.5"/>
<text x="457.1" y="718.8" font-size="20.5" fill="#4D4D4D" text-anchor="middle">20</text>
<line x1="669.8" y1="691.4" x2="669.8" y2="697.85" stroke="#333" stroke-width="2.5"/>
<text x="669.8" y="718.8" font-size="20.5" fill="#4D4D4D" text-anchor="middle">30</text>
<line x1="882.5" y1="691.4" x2="882.5" y2="697.85" stroke="#333" stroke-width="2.5"/>
<text x="882.5" y="718.8" font-size="20.5" fill="#4D4D4D" text-anchor="middle">40</text>
<text transform="translate(19.9,346.0) rotate(-90)" font-size="25.9" fill="#000" text-anchor="middle">Suitability for transmission – S(T)</text>
<text x="138.2" y="45.3" font-size="32.5" fill="#000" text-anchor="middle">A</text>
<rect x="154.5" y="119.4" width="37.7" height="37.5" fill="#BEBEBE" fill-opacity="0.3"/>
<line x1="157.0" y1="138.3" x2="190.0" y2="138.3" stroke="#BEBEBE" stroke-width="3.04"/>
<text x="206.2" y="146.0" font-size="21.42" fill="#000">1: Constant</text>
<rect x="154.5" y="160.4" width="37.7" height="37.5" fill="#1B7837" fill-opacity="0.3"/>
<line x1="157.0" y1="179.3" x2="190.0" y2="179.3" stroke="#1B7837" stroke-width="3.04"/>
<text x="206.2" y="187.0" font-size="21.42" fill="#000">2: Empirical DTR 9</text>
<rect x="154.5" y="201.4" width="37.7" height="37.5" fill="#762A83" fill-opacity="0.3"/>
<line x1="157.0" y1="220.3" x2="190.0" y2="220.3" stroke="#762A83" stroke-width="3.04"/>
<text x="206.2" y="228.0" font-size="21.42" fill="#000">2: Empirical DTR 12</text>
</g>
<g id="panelB">
<path d="M1346.8,660.1 L1346.8,658.9 L1347.4,658.7 L1349.6,657.8 L1351.8,656.8 L1354.0,655.5 L1356.2,654.1 L1358.4,652.5 L1360.6,650.8 L1362.8,648.9 L1365.1,646.9 L1367.3,644.7 L1369.5,642.4 L1371.7,640.0 L1373.9,637.4 L1376.1,634.7 L1378.3,631.8 L1380.5,628.9 L1382.7,625.8 L1384.9,622.6 L1387.1,619.2 L1389.3,615.8 L1391.5,612.2 L1393.7,608.5 L1395.9,604.7 L1398.1,600.8 L1400.3,596.7 L1402.5,592.6 L1404.7,588.3 L1406.9,584.0 L1409.1,579.5 L1411.3,574.9 L1413.5,570.3 L1415.7,565.5 L1417.9,560.6 L1420.1,555.7 L1422.3,550.6 L1424.5,545.4 L1426.7,540.2 L1429.0,534.9 L1431.2,529.4 L1433.4,523.9 L1435.6,518.3 L1437.8,512.7 L1440.0,506.9 L1442.3,501.1 L1444.5,495.2 L1446.7,489.2 L1448.9,483.2 L1451.2,477.0 L1453.4,470.9 L1455.6,464.6 L1457.8,458.3 L1460.1,452.0 L1462.3,445.6 L1464.5,439.2 L1466.8,432.7 L1469.0,426.1 L1471.2,419.6 L1473.5,413.0 L1475.7,406.4 L1478.0,399.7 L1480.2,393.0 L1482.4,386.4 L1484.7,379.7 L1486.9,373.0 L1489.2,366.3 L1491.4,359.6 L1493.7,352.9 L1495.9,346.2 L1498.1,339.6 L1500.4,332.9 L1502.6,326.3 L1504.9,319.8 L1507.1,313.3 L1509.3,306.8 L1511.6,300.4 L1513.8,294.1 L1516.0,287.8 L1518.3,281.6 L1520.5,275.5 L1522.8,269.4 L1525.0,263.5 L1527.2,257.7 L1529.5,252.0 L1531.7,246.4 L1533.9,240.9 L1536.1,235.6 L1538.4,230.4 L1540.6,225.4 L1542.8,220.5 L1545.0,215.8 L1547.3,211.3 L1549.5,207.0 L1551.7,202.8 L1553.9,198.9 L1556.2,195.2 L1558.4,191.7 L1560.6,188.4 L1562.8,185.4 L1565.0,182.6 L1567.3,180.0 L1569.5,177.8 L1571.7,175.8 L1573.9,174.1 L1576.2,172.7 L1578.4,171.5 L1580.6,170.7 L1582.8,170.2 L1585.1,170.1 L1587.3,170.2 L1589.5,170.6 L1591.8,171.3 L1594.0,172.2 L1596.2,173.5 L1598.5,174.9 L1600.7,176.7 L1602.9,178.7 L1605.1,181.0 L1607.4,183.5 L1609.6,186.3 L1611.8,189.3 L1614.1,192.6 L1616.3,196.1 L1618.5,199.8 L1620.8,203.8 L1623.0,208.0 L1625.2,212.4 L1627.4,217.1 L1629.7,221.9 L1631.9,226.9 L1634.1,232.2 L1636.4,237.6 L1638.6,243.2 L1640.9,249.0 L1643.1,255.0 L1645.3,261.1 L1647.6,267.4 L1649.8,273.8 L1652.1,280.3 L1654.3,287.0 L1656.6,293.8 L1658.8,300.8 L1661.0,307.8 L1663.3,314.9 L1665.5,322.2 L1667.8,329.5 L1670.0,336.9 L1672.3,344.3 L1674.5,351.8 L1676.8,359.4 L1679.0,367.0 L1681.3,374.6 L1683.5,382.2 L1685.8,389.9 L1688.0,397.6 L1690.3,405.2 L1692.5,412.9 L1694.7,420.5 L1697.0,428.2 L1699.2,435.7 L1701.5,443.3 L1703.7,450.8 L1705.9,458.2 L1708.1,465.6 L1710.4,472.9 L1712.6,480.2 L1714.8,487.3 L1717.0,494.4 L1719.2,501.3 L1721.5,508.2 L1723.7,514.9 L1725.9,521.6 L1728.1,528.1 L1730.3,534.5 L1732.5,540.7 L1734.7,546.9 L1736.9,552.8 L1739.1,558.7 L1741.3,564.4 L1743.5,569.9 L1745.7,575.3 L1747.9,580.5 L1750.0,585.6 L1752.2,590.5 L1754.4,595.2 L1756.6,599.7 L1758.8,604.1 L1761.0,608.3 L1763.2,612.4 L1765.4,616.2 L1767.6,619.9 L1769.8,623.4 L1771.9,626.8 L1774.1,629.9 L1776.3,632.9 L1778.5,635.7 L1780.7,638.3 L1782.9,640.8 L1785.1,643.1 L1787.3,645.2 L1789.5,647.2 L1791.7,649.0 L1794.0,650.7 L1796.2,652.2 L1798.4,653.5 L1800.6,654.7 L1802.8,655.8 L1805.0,656.7 L1807.3,657.5 L1809.5,658.1 L1811.7,658.7 L1813.9,659.2 L1816.2,659.5 L1818.4,659.8 L1820.6,659.9 L1822.9,660.0 L1825.1,660.1 L1827.3,660.1 L1753.3,660.1 L1753.3,651.9 L1751.7,649.2 L1750.1,646.3 L1748.5,643.2 L1746.9,640.0 L1745.3,636.6 L1743.7,633.1 L1742.1,629.5 L1740.5,625.8 L1738.8,622.1 L1737.2,618.2 L1735.6,614.3 L1734.0,610.3 L1732.4,606.3 L1730.8,602.1 L1729.2,598.0 L1727.6,593.8 L1726.0,589.5 L1724.4,585.2 L1722.8,580.9 L1721.2,576.5 L1719.6,572.2 L1718.0,567.7 L1716.4,563.3 L1714.8,558.9 L1713.2,554.4 L1711.6,549.9 L1710.0,545.4 L1708.4,540.9 L1706.8,536.4 L1705.2,531.9 L1703.6,527.4 L1702.1,522.9 L1700.5,518.4 L1698.9,513.9 L1697.3,509.4 L1695.7,504.9 L1694.1,500.5 L1692.5,496.0 L1690.9,491.6 L1689.3,487.2 L1687.7,482.8 L1686.1,478.5 L1684.6,474.2 L1683.0,469.9 L1681.4,465.7 L1679.8,461.4 L1678.2,457.3 L1676.6,453.1 L1675.0,449.0 L1673.4,444.9 L1671.8,440.9 L1670.2,436.9 L1668.6,433.0 L1667.0,429.1 L1665.4,425.3 L1663.8,421.5 L1662.2,417.8 L1660.6,414.1 L1659.0,410.5 L1657.4,407.0 L1655.8,403.5 L1654.2,400.0 L1652.6,396.6 L1651.0,393.3 L1649.4,390.1 L1647.8,386.9 L1646.2,383.8 L1644.6,380.7 L1643.0,377.7 L1641.4,374.8 L1639.8,372.0 L1638.2,369.2 L1636.6,366.5 L1635.0,363.9 L1633.4,361.4 L1631.7,358.9 L1630.1,356.5 L1628.5,354.2 L1626.9,351.9 L1625.3,349.8 L1623.7,347.7 L1622.1,345.7 L1620.5,343.8 L1618.9,341.9 L1617.3,340.2 L1615.7,338.5 L1614.0,336.9 L1612.4,335.4 L1610.8,334.0 L1609.2,332.7 L1607.6,331.4 L1606.0,330.3 L1604.4,329.2 L1602.8,328.2 L1601.2,327.3 L1599.6,326.5 L1598.0,325.7 L1596.4,325.1 L1594.8,324.5 L1593.2,324.0 L1591.6,323.6 L1589.9,323.3 L1588.3,323.1 L1586.7,323.0 L1585.1,323.0 L1583.2,323.0 L1581.3,323.3 L1579.3,323.7 L1577.4,324.3 L1575.5,325.0 L1573.5,325.9 L1571.6,326.9 L1569.7,328.1 L1567.7,329.4 L1565.8,330.8 L1563.8,332.4 L1561.9,334.2 L1560.0,336.0 L1558.0,338.0 L1556.1,340.1 L1554.2,342.4 L1552.2,344.7 L1550.3,347.2 L1548.3,349.8 L1546.4,352.5 L1544.5,355.3 L1542.5,358.2 L1540.6,361.2 L1538.6,364.3 L1536.7,367.5 L1534.8,370.8 L1532.8,374.1 L1530.9,377.6 L1529.0,381.1 L1527.0,384.7 L1525.1,388.4 L1523.1,392.1 L1521.2,395.9 L1519.3,399.8 L1517.3,403.7 L1515.4,407.7 L1513.5,411.7 L1511.5,415.8 L1509.6,419.9 L1507.7,424.0 L1505.8,428.2 L1503.8,432.5 L1501.9,436.7 L1500.0,441.0 L1498.0,445.3 L1496.1,449.7 L1494.2,454.0 L1492.3,458.4 L1490.3,462.8 L1488.4,467.2 L1486.5,471.6 L1484.5,476.0 L1482.6,480.4 L1480.7,484.8 L1478.8,489.3 L1476.8,493.7 L1474.9,498.1 L1473.0,502.4 L1471.1,506.8 L1469.1,511.2 L1467.2,515.5 L1465.3,519.8 L1463.4,524.1 L1461.4,528.4 L1459.5,532.6 L1457.6,536.9 L1455.7,541.0 L1453.7,545.2 L1451.8,549.3 L1449.9,553.4 L1447.9,557.4 L1446.0,561.4 L1444.1,565.3 L1442.2,569.2 L1440.2,573.1 L1438.3,576.9 L1436.4,580.6 L1434.4,584.3 L1432.5,588.0 L1430.6,591.5 L1428.6,595.1 L1426.7,598.5 L1424.8,601.9 L1422.8,605.2 L1420.9,608.5 L1419.0,611.7 L1417.0,614.8 L1415.1,617.9 L1413.2,620.8 L1411.2,623.7 L1409.3,626.5 L1407.4,629.3 L1405.4,631.9 L1403.5,634.5 L1401.6,637.0 L1399.6,639.3 L1397.7,641.6 L1395.7,643.8 L1393.8,645.9 L1391.9,647.9 L1389.9,649.8 L1388.0,651.5 L1386.1,653.1 L1384.1,654.6 L1382.2,656.0 L1380.3,657.2 L1378.3,658.3 L1377.3,658.7 L1377.3,660.1Z" fill="#1B7837" fill-opacity="0.3" stroke="none"/>
<path d="M1346.8,660.1 L1346.8,657.1 L1348.9,656.0 L1351.2,654.7 L1353.4,653.3 L1355.7,651.6 L1357.9,649.9 L1360.2,647.9 L1362.4,645.9 L1364.6,643.6 L1366.9,641.3 L1369.1,638.8 L1371.3,636.1 L1373.6,633.4 L1375.8,630.5 L1378.0,627.4 L1380.3,624.3 L1382.5,621.0 L1384.7,617.5 L1387.0,614.0 L1389.2,610.3 L1391.4,606.5 L1393.7,602.6 L1395.9,598.5 L1398.1,594.4 L1400.4,590.1 L1402.6,585.7 L1404.8,581.2 L1407.1,576.6 L1409.3,571.9 L1411.5,567.1 L1413.8,562.1 L1416.0,557.1 L1418.3,552.0 L1420.5,546.7 L1422.8,541.4 L1425.0,535.9 L1427.2,530.4 L1429.5,524.8 L1431.7,519.1 L1434.0,513.3 L1436.2,507.4 L1438.5,501.5 L1440.8,495.5 L1443.0,489.4 L1445.3,483.2 L1447.5,476.9 L1449.8,470.6 L1452.1,464.2 L1454.3,457.8 L1456.6,451.3 L1458.9,444.8 L1461.1,438.2 L1463.4,431.6 L1465.7,424.9 L1468.0,418.2 L1470.3,411.5 L1472.5,404.7 L1474.8,398.0 L1477.1,391.2 L1479.4,384.4 L1481.6,377.6 L1483.9,370.7 L1486.2,363.9 L1488.5,357.1 L1490.8,350.3 L1493.1,343.6 L1495.3,336.8 L1497.6,330.1 L1499.9,323.5 L1502.2,316.9 L1504.5,310.3 L1506.7,303.8 L1509.0,297.3 L1511.3,290.9 L1513.6,284.6 L1515.9,278.4 L1518.1,272.3 L1520.4,266.3 L1522.7,260.4 L1525.0,254.6 L1527.2,248.9 L1529.5,243.3 L1531.8,237.9 L1534.0,232.6 L1536.3,227.5 L1538.6,222.5 L1540.8,217.7 L1543.1,213.1 L1545.4,208.6 L1547.6,204.4 L1549.9,200.3 L1552.2,196.5 L1554.4,192.8 L1556.7,189.4 L1558.9,186.2 L1561.2,183.3 L1563.5,180.6 L1565.7,178.1 L1568.0,175.9 L1570.2,174.0 L1572.5,172.4 L1574.8,171.0 L1577.0,169.9 L1579.3,169.2 L1581.6,168.7 L1583.8,168.5 L1585.9,168.7 L1588.1,169.1 L1590.2,169.8 L1592.3,170.8 L1594.4,172.1 L1596.5,173.7 L1598.6,175.5 L1600.8,177.6 L1602.9,179.9 L1605.0,182.6 L1607.1,185.4 L1609.3,188.5 L1611.4,191.9 L1613.5,195.5 L1615.7,199.3 L1617.8,203.4 L1619.9,207.7 L1622.0,212.1 L1624.2,216.8 L1626.3,221.7 L1628.4,226.8 L1630.5,232.1 L1632.6,237.5 L1634.7,243.1 L1636.8,248.9 L1638.9,254.9 L1641.0,260.9 L1643.1,267.2 L1645.2,273.5 L1647.3,280.0 L1649.4,286.6 L1651.4,293.3 L1653.5,300.1 L1655.6,307.0 L1657.6,314.0 L1659.7,321.1 L1661.8,328.3 L1663.8,335.5 L1665.9,342.7 L1667.9,350.0 L1670.0,357.4 L1672.1,364.7 L1674.1,372.2 L1676.2,379.6 L1678.2,387.0 L1680.3,394.4 L1682.4,401.9 L1684.4,409.3 L1686.5,416.7 L1688.6,424.0 L1690.7,431.4 L1692.7,438.7 L1694.8,445.9 L1696.9,453.1 L1699.0,460.3 L1701.1,467.3 L1703.2,474.3 L1705.3,481.3 L1707.5,488.1 L1709.6,494.9 L1711.7,501.5 L1713.9,508.1 L1716.0,514.6 L1718.2,521.0 L1720.3,527.2 L1722.5,533.3 L1724.7,539.4 L1726.8,545.3 L1729.0,551.0 L1731.2,556.7 L1733.4,562.2 L1735.6,567.6 L1737.8,572.8 L1740.0,577.9 L1742.2,582.8 L1744.4,587.6 L1746.6,592.3 L1748.8,596.8 L1751.0,601.1 L1753.2,605.3 L1755.4,609.3 L1757.6,613.2 L1759.8,616.9 L1762.1,620.5 L1764.3,623.9 L1766.5,627.1 L1768.7,630.2 L1770.9,633.1 L1773.1,635.9 L1775.3,638.5 L1777.5,640.9 L1779.6,643.2 L1781.8,645.3 L1784.0,647.3 L1786.2,649.1 L1788.3,650.8 L1790.5,652.3 L1792.7,653.7 L1794.8,654.9 L1797.0,656.0 L1799.1,657.0 L1801.2,657.8 L1803.4,658.4 L1805.5,659.0 L1807.6,659.4 L1809.7,659.8 L1811.8,660.0 L1814.0,660.1 L1816.1,660.1 L1748.9,660.1 L1748.9,657.9 L1747.6,656.0 L1746.1,653.4 L1744.6,650.6 L1743.0,647.7 L1741.5,644.6 L1740.0,641.4 L1738.5,638.1 L1736.9,634.8 L1735.4,631.3 L1733.9,627.8 L1732.4,624.3 L1730.9,620.6 L1729.3,616.9 L1727.8,613.2 L1726.3,609.4 L1724.8,605.6 L1723.3,601.8 L1721.7,597.9 L1720.2,594.0 L1718.7,590.0 L1717.2,586.0 L1715.6,582.0 L1714.1,578.0 L1712.6,574.0 L1711.1,569.9 L1709.6,565.8 L1708.0,561.7 L1706.5,557.7 L1705.0,553.5 L1703.5,549.4 L1702.0,545.3 L1700.4,541.2 L1698.9,537.1 L1697.4,533.0 L1695.9,528.8 L1694.4,524.7 L1692.9,520.6 L1691.3,516.5 L1689.8,512.5 L1688.3,508.4 L1686.8,504.3 L1685.3,500.3 L1683.7,496.2 L1682.2,492.2 L1680.7,488.2 L1679.2,484.3 L1677.7,480.3 L1676.1,476.4 L1674.6,472.5 L1673.1,468.7 L1671.6,464.8 L1670.1,461.0 L1668.5,457.3 L1667.0,453.5 L1665.5,449.8 L1664.0,446.2 L1662.4,442.5 L1660.9,439.0 L1659.4,435.4 L1657.9,431.9 L1656.4,428.5 L1654.8,425.1 L1653.3,421.7 L1651.8,418.4 L1650.3,415.2 L1648.8,412.0 L1647.2,408.8 L1645.7,405.7 L1644.2,402.7 L1642.7,399.7 L1641.1,396.8 L1639.6,393.9 L1638.1,391.1 L1636.6,388.4 L1635.1,385.7 L1633.5,383.1 L1632.0,380.5 L1630.5,378.1 L1629.0,375.6 L1627.4,373.3 L1625.9,371.0 L1624.4,368.8 L1622.9,366.7 L1621.3,364.7 L1619.8,362.7 L1618.3,360.8 L1616.8,359.0 L1615.2,357.2 L1613.7,355.5 L1612.2,354.0 L1610.7,352.4 L1609.2,351.0 L1607.6,349.7 L1606.1,348.4 L1604.6,347.2 L1603.1,346.1 L1601.5,345.1 L1600.0,344.2 L1598.5,343.3 L1597.0,342.6 L1595.4,341.9 L1593.9,341.3 L1592.4,340.9 L1590.9,340.4 L1589.4,340.1 L1587.8,339.9 L1586.3,339.8 L1584.8,339.7 L1582.8,339.8 L1580.8,340.0 L1578.8,340.3 L1576.8,340.8 L1574.9,341.4 L1572.9,342.1 L1570.9,343.0 L1568.9,344.0 L1566.9,345.1 L1564.9,346.3 L1562.9,347.7 L1560.9,349.2 L1559.0,350.8 L1557.0,352.5 L1555.0,354.4 L1553.0,356.3 L1551.0,358.4 L1549.0,360.6 L1547.0,362.9 L1545.0,365.3 L1543.0,367.8 L1541.1,370.5 L1539.1,373.2 L1537.1,376.0 L1535.1,378.9 L1533.1,381.9 L1531.1,385.0 L1529.1,388.2 L1527.1,391.5 L1525.1,394.9 L1523.1,398.3 L1521.2,401.8 L1519.2,405.4 L1517.2,409.1 L1515.2,412.8 L1513.2,416.6 L1511.2,420.5 L1509.2,424.4 L1507.2,428.4 L1505.2,432.4 L1503.3,436.5 L1501.3,440.6 L1499.3,444.8 L1497.3,449.0 L1495.3,453.3 L1493.3,457.6 L1491.3,461.9 L1489.3,466.2 L1487.4,470.6 L1485.4,475.0 L1483.4,479.4 L1481.4,483.8 L1479.4,488.2 L1477.4,492.7 L1475.5,497.1 L1473.5,501.6 L1471.5,506.0 L1469.5,510.4 L1467.5,514.9 L1465.6,519.3 L1463.6,523.7 L1461.6,528.1 L1459.6,532.4 L1457.6,536.7 L1455.7,541.0 L1453.7,545.3 L1451.7,549.5 L1449.7,553.7 L1447.7,557.9 L1445.8,562.0 L1443.8,566.1 L1441.8,570.1 L1439.8,574.1 L1437.9,578.0 L1435.9,581.8 L1433.9,585.6 L1431.9,589.4 L1430.0,593.0 L1428.0,596.6 L1426.0,600.1 L1424.0,603.6 L1422.1,607.0 L1420.1,610.3 L1418.1,613.5 L1416.1,616.6 L1414.2,619.6 L1412.2,622.6 L1410.2,625.4 L1408.2,628.2 L1406.2,630.9 L1404.3,633.5 L1402.3,635.9 L1400.3,638.3 L1398.3,640.5 L1396.4,642.7 L1394.4,644.7 L1392.4,646.7 L1390.4,648.5 L1388.5,650.2 L1386.5,651.8 L1384.5,653.2 L1382.5,654.5 L1380.5,655.7 L1378.6,656.8 L1377.3,657.4 L1377.3,660.1Z" fill="#762A83" fill-opacity="0.3" stroke="none"/>
<path d="M1346.8,660.1 L1346.8,655.9 L1348.7,655.1 L1351.3,653.9 L1353.8,652.5 L1356.4,651.0 L1359.0,649.4 L1361.6,647.6 L1364.2,645.7 L1366.8,643.6 L1369.3,641.4 L1371.9,639.0 L1374.5,636.5 L1377.0,633.8 L1379.6,631.0 L1382.2,628.0 L1384.7,624.9 L1387.3,621.7 L1389.9,618.3 L1392.4,614.7 L1395.0,611.0 L1397.5,607.1 L1400.1,603.1 L1402.6,598.9 L1405.2,594.6 L1407.7,590.1 L1410.3,585.5 L1412.8,580.7 L1415.4,575.8 L1417.9,570.7 L1420.5,565.4 L1423.0,560.0 L1425.6,554.5 L1428.1,548.8 L1430.7,543.0 L1433.2,537.0 L1435.8,530.8 L1438.3,524.5 L1440.9,518.1 L1443.4,511.5 L1446.0,504.7 L1448.5,497.8 L1451.1,490.8 L1453.6,483.6 L1456.2,476.3 L1458.8,468.9 L1461.3,461.3 L1463.9,453.6 L1466.5,445.7 L1469.0,437.8 L1471.6,429.6 L1474.2,421.4 L1476.7,413.1 L1479.3,404.6 L1481.9,396.0 L1484.5,387.3 L1487.1,378.6 L1489.7,369.7 L1492.3,360.7 L1494.8,351.6 L1497.4,342.5 L1500.0,333.2 L1502.6,323.9 L1505.2,314.6 L1507.8,305.2 L1510.5,295.7 L1513.1,286.2 L1515.7,276.7 L1518.3,267.1 L1520.9,257.6 L1523.5,248.0 L1526.1,238.4 L1528.8,228.9 L1531.4,219.4 L1534.0,209.9 L1536.6,200.5 L1539.2,191.2 L1541.9,181.9 L1544.5,172.8 L1547.1,163.7 L1549.7,154.8 L1552.4,146.0 L1555.0,137.4 L1557.6,129.0 L1560.3,120.7 L1562.9,112.7 L1565.5,104.9 L1568.1,97.4 L1570.8,90.2 L1573.4,83.2 L1576.0,76.6 L1578.6,70.2 L1581.2,64.3 L1583.9,58.7 L1586.5,53.6 L1589.1,48.9 L1591.7,44.6 L1594.3,40.9 L1597.0,37.6 L1599.6,34.9 L1602.2,32.7 L1604.8,31.1 L1607.4,30.1 L1610.0,29.8 L1612.1,29.9 L1614.3,30.4 L1616.4,31.1 L1618.5,32.0 L1620.6,33.3 L1622.7,34.8 L1624.9,36.6 L1627.0,38.7 L1629.1,41.1 L1631.2,43.7 L1633.4,46.6 L1635.5,49.8 L1637.6,53.2 L1639.7,56.9 L1641.9,60.8 L1644.0,65.0 L1646.1,69.4 L1648.3,74.1 L1650.4,79.1 L1652.5,84.2 L1654.7,89.6 L1656.8,95.2 L1658.9,101.1 L1661.0,107.1 L1663.1,113.4 L1665.3,119.9 L1667.4,126.6 L1669.5,133.4 L1671.6,140.5 L1673.7,147.7 L1675.8,155.1 L1677.9,162.7 L1680.0,170.4 L1682.1,178.3 L1684.2,186.4 L1686.3,194.6 L1688.4,202.9 L1690.5,211.3 L1692.6,219.8 L1694.7,228.5 L1696.7,237.2 L1698.8,246.1 L1700.9,255.0 L1703.0,264.0 L1705.0,273.1 L1707.1,282.2 L1709.2,291.4 L1711.3,300.7 L1713.3,309.9 L1715.4,319.2 L1717.5,328.5 L1719.6,337.8 L1721.6,347.2 L1723.7,356.5 L1725.8,365.8 L1727.9,375.0 L1730.0,384.3 L1732.1,393.5 L1734.2,402.6 L1736.3,411.7 L1738.4,420.8 L1740.5,429.7 L1742.6,438.6 L1744.7,447.4 L1746.8,456.1 L1748.9,464.7 L1751.0,473.1 L1753.2,481.5 L1755.3,489.7 L1757.4,497.8 L1759.6,505.8 L1761.7,513.6 L1763.9,521.3 L1766.0,528.8 L1768.2,536.1 L1770.3,543.3 L1772.5,550.3 L1774.6,557.1 L1776.8,563.7 L1779.0,570.1 L1781.1,576.3 L1783.3,582.3 L1785.5,588.2 L1787.7,593.8 L1789.8,599.2 L1792.0,604.3 L1794.2,609.3 L1796.4,614.0 L1798.5,618.5 L1800.7,622.8 L1802.9,626.8 L1805.0,630.6 L1807.2,634.2 L1808.6,636.3 L1808.6,660.1 L1808.6,660.1 L1808.6,648.5 L1807.7,647.6 L1805.6,645.5 L1803.6,643.1 L1801.5,640.6 L1799.4,638.0 L1797.4,635.2 L1795.3,632.2 L1793.3,629.1 L1791.2,625.8 L1789.1,622.3 L1787.1,618.7 L1785.0,615.0 L1783.0,611.1 L1780.9,607.1 L1778.8,602.9 L1776.8,598.6 L1774.7,594.1 L1772.7,589.5 L1770.6,584.8 L1768.5,579.9 L1766.5,575.0 L1764.4,569.9 L1762.4,564.7 L1760.3,559.4 L1758.3,553.9 L1756.2,548.4 L1754.2,542.8 L1752.1,537.1 L1750.1,531.3 L1748.0,525.4 L1746.0,519.4 L1743.9,513.3 L1741.9,507.2 L1739.8,501.0 L1737.8,494.7 L1735.7,488.4 L1733.7,482.0 L1731.7,475.6 L1729.6,469.1 L1727.6,462.6 L1725.5,456.1 L1723.5,449.5 L1721.5,442.9 L1719.4,436.3 L1717.4,429.7 L1715.4,423.1 L1713.4,416.4 L1711.3,409.8 L1709.3,403.2 L1707.3,396.6 L1705.2,390.1 L1703.2,383.5 L1701.2,377.0 L1699.1,370.6 L1697.1,364.1 L1695.1,357.8 L1693.1,351.4 L1691.0,345.2 L1689.0,339.0 L1687.0,332.9 L1684.9,326.9 L1682.9,320.9 L1680.9,315.0 L1678.8,309.3 L1676.8,303.6 L1674.8,298.0 L1672.7,292.6 L1670.7,287.2 L1668.7,282.0 L1666.6,276.9 L1664.6,271.9 L1662.6,267.1 L1660.5,262.4 L1658.5,257.8 L1656.4,253.4 L1654.4,249.2 L1652.4,245.1 L1650.3,241.1 L1648.3,237.3 L1646.2,233.7 L1644.2,230.3 L1642.2,227.0 L1640.1,224.0 L1638.1,221.0 L1636.0,218.3 L1634.0,215.8 L1632.0,213.5 L1629.9,211.3 L1627.9,209.4 L1625.8,207.6 L1623.8,206.1 L1621.7,204.7 L1619.7,203.6 L1617.7,202.6 L1615.6,201.9 L1613.6,201.4 L1611.6,201.1 L1609.5,200.9 L1607.3,201.2 L1605.1,201.8 L1602.8,202.9 L1600.6,204.4 L1598.4,206.3 L1596.2,208.5 L1594.0,211.0 L1591.8,213.9 L1589.6,217.0 L1587.4,220.4 L1585.2,224.1 L1583.0,228.0 L1580.8,232.1 L1578.6,236.5 L1576.3,241.0 L1574.1,245.7 L1571.9,250.6 L1569.7,255.6 L1567.5,260.8 L1565.3,266.1 L1563.0,271.6 L1560.8,277.1 L1558.6,282.7 L1556.3,288.5 L1554.1,294.3 L1551.9,300.1 L1549.6,306.1 L1547.4,312.0 L1545.1,318.1 L1542.9,324.1 L1540.6,330.3 L1538.4,336.4 L1536.1,342.5 L1533.9,348.7 L1531.6,354.9 L1529.3,361.0 L1527.1,367.2 L1524.8,373.4 L1522.5,379.5 L1520.3,385.7 L1518.0,391.8 L1515.8,397.9 L1513.5,404.0 L1511.2,410.0 L1509.0,416.1 L1506.7,422.0 L1504.5,428.0 L1502.2,433.9 L1500.0,439.7 L1497.7,445.6 L1495.5,451.3 L1493.2,457.0 L1491.0,462.7 L1488.7,468.3 L1486.5,473.9 L1484.3,479.4 L1482.0,484.8 L1479.8,490.2 L1477.6,495.6 L1475.4,500.8 L1473.1,506.0 L1470.9,511.2 L1468.7,516.2 L1466.5,521.3 L1464.3,526.2 L1462.1,531.1 L1459.9,535.9 L1457.7,540.6 L1455.5,545.3 L1453.3,549.9 L1451.1,554.4 L1448.9,558.8 L1446.8,563.2 L1444.6,567.5 L1442.4,571.7 L1440.2,575.8 L1438.1,579.9 L1435.9,583.9 L1433.7,587.8 L1431.5,591.6 L1429.4,595.3 L1427.2,599.0 L1425.0,602.6 L1422.9,606.0 L1420.7,609.4 L1418.6,612.8 L1416.4,616.0 L1414.2,619.1 L1412.1,622.1 L1409.9,625.1 L1407.8,627.9 L1405.6,630.7 L1403.4,633.3 L1401.3,635.9 L1399.1,638.4 L1396.9,640.7 L1394.8,642.9 L1392.6,645.1 L1390.4,647.1 L1388.3,649.0 L1386.1,650.8 L1383.9,652.4 L1381.7,653.9 L1379.5,655.3 L1377.3,656.6 L1377.3,656.6 L1377.3,660.1Z" fill="#5AAE61" fill-opacity="0.3" stroke="none"/>
<path d="M1346.8,660.1 L1346.8,659.8 L1347.2,659.8 L1349.6,659.2 L1352.0,658.2 L1354.4,657.1 L1356.8,655.7 L1359.2,654.1 L1361.6,652.3 L1364.0,650.4 L1366.4,648.3 L1368.8,646.0 L1371.2,643.5 L1373.6,640.9 L1376.0,638.2 L1378.4,635.3 L1380.8,632.2 L1383.2,629.0 L1385.6,625.7 L1388.0,622.2 L1390.4,618.6 L1392.8,614.9 L1395.2,611.0 L1397.6,607.0 L1400.0,602.9 L1402.4,598.7 L1404.8,594.3 L1407.2,589.9 L1409.6,585.3 L1412.0,580.6 L1414.4,575.7 L1416.8,570.8 L1419.2,565.8 L1421.6,560.6 L1424.0,555.3 L1426.4,550.0 L1428.8,544.5 L1431.2,538.9 L1433.6,533.2 L1436.0,527.4 L1438.4,521.5 L1440.8,515.6 L1443.2,509.5 L1445.6,503.3 L1448.0,497.0 L1450.4,490.7 L1452.8,484.2 L1455.2,477.7 L1457.5,471.1 L1459.9,464.4 L1462.3,457.6 L1464.7,450.7 L1467.1,443.8 L1469.5,436.8 L1471.9,429.7 L1474.3,422.5 L1476.7,415.3 L1479.1,408.0 L1481.5,400.7 L1483.9,393.3 L1486.3,385.8 L1488.7,378.3 L1491.1,370.8 L1493.5,363.2 L1495.9,355.5 L1498.3,347.8 L1500.7,340.1 L1503.1,332.4 L1505.5,324.6 L1507.9,316.9 L1510.3,309.1 L1512.7,301.3 L1515.1,293.5 L1517.5,285.7 L1519.9,278.0 L1522.3,270.2 L1524.7,262.5 L1527.1,254.8 L1529.5,247.1 L1531.9,239.5 L1534.3,232.0 L1536.7,224.5 L1539.1,217.1 L1541.5,209.7 L1543.9,202.5 L1546.3,195.3 L1548.7,188.3 L1551.1,181.3 L1553.6,174.5 L1556.0,167.9 L1558.4,161.4 L1560.8,155.0 L1563.2,148.8 L1565.6,142.8 L1568.0,137.0 L1570.4,131.4 L1572.8,126.1 L1575.3,120.9 L1577.7,116.1 L1580.1,111.4 L1582.5,107.1 L1584.9,103.1 L1587.3,99.3 L1589.7,95.9 L1592.1,92.8 L1594.5,90.1 L1597.0,87.8 L1599.4,85.8 L1601.8,84.2 L1604.2,83.1 L1606.6,82.4 L1609.0,82.2 L1611.1,82.3 L1613.2,82.8 L1615.3,83.5 L1617.3,84.6 L1619.4,85.9 L1621.5,87.5 L1623.6,89.4 L1625.7,91.6 L1627.8,94.0 L1629.9,96.7 L1632.0,99.7 L1634.1,102.9 L1636.2,106.4 L1638.3,110.1 L1640.4,114.1 L1642.5,118.3 L1644.6,122.7 L1646.7,127.3 L1648.7,132.2 L1650.8,137.2 L1652.9,142.5 L1655.0,148.0 L1657.1,153.6 L1659.2,159.4 L1661.3,165.4 L1663.4,171.6 L1665.5,177.9 L1667.6,184.4 L1669.7,191.0 L1671.7,197.8 L1673.8,204.7 L1675.9,211.7 L1678.0,218.9 L1680.1,226.1 L1682.2,233.5 L1684.2,240.9 L1686.3,248.5 L1688.4,256.1 L1690.5,263.8 L1692.5,271.6 L1694.6,279.4 L1696.7,287.3 L1698.8,295.3 L1700.8,303.3 L1702.9,311.3 L1705.0,319.3 L1707.1,327.4 L1709.1,335.5 L1711.2,343.6 L1713.3,351.7 L1715.4,359.8 L1717.4,367.9 L1719.5,376.0 L1721.6,384.0 L1723.7,392.0 L1725.7,400.0 L1727.8,408.0 L1729.9,415.9 L1732.0,423.8 L1734.0,431.6 L1736.1,439.3 L1738.2,447.0 L1740.3,454.6 L1742.4,462.1 L1744.5,469.6 L1746.5,477.0 L1748.6,484.2 L1750.7,491.4 L1752.8,498.5 L1754.9,505.5 L1757.0,512.4 L1759.1,519.1 L1761.2,525.8 L1763.3,532.3 L1765.4,538.7 L1767.5,545.0 L1769.6,551.1 L1771.7,557.1 L1773.8,563.0 L1775.9,568.7 L1778.0,574.3 L1780.1,579.8 L1782.2,585.1 L1784.3,590.2 L1786.4,595.2 L1788.5,600.0 L1790.6,604.7 L1792.7,609.2 L1794.8,613.5 L1796.9,617.7 L1799.0,621.7 L1801.1,625.5 L1803.2,629.1 L1805.3,632.6 L1807.4,635.8 L1808.6,637.6 L1808.6,660.1 L1808.6,660.1 L1808.6,648.8 L1808.4,648.6 L1806.3,646.8 L1804.2,644.8 L1802.1,642.7 L1800.0,640.4 L1797.9,638.0 L1795.8,635.4 L1793.6,632.7 L1791.5,629.9 L1789.4,626.9 L1787.3,623.7 L1785.2,620.5 L1783.1,617.1 L1781.0,613.5 L1778.8,609.8 L1776.7,606.0 L1774.6,602.1 L1772.5,598.0 L1770.4,593.8 L1768.3,589.4 L1766.1,585.0 L1764.0,580.4 L1761.9,575.7 L1759.8,570.9 L1757.7,566.0 L1755.5,561.0 L1753.4,555.8 L1751.3,550.6 L1749.2,545.3 L1747.1,539.9 L1745.0,534.4 L1742.8,528.8 L1740.7,523.1 L1738.6,517.3 L1736.5,511.5 L1734.4,505.6 L1732.3,499.7 L1730.1,493.7 L1728.0,487.6 L1725.9,481.5 L1723.8,475.4 L1721.7,469.2 L1719.6,463.0 L1717.5,456.7 L1715.4,450.5 L1713.3,444.2 L1711.2,437.9 L1709.1,431.6 L1707.0,425.3 L1704.8,419.1 L1702.7,412.8 L1700.6,406.5 L1698.5,400.3 L1696.4,394.1 L1694.3,388.0 L1692.2,381.9 L1690.2,375.8 L1688.1,369.9 L1686.0,363.9 L1683.9,358.1 L1681.8,352.3 L1679.7,346.5 L1677.6,340.9 L1675.5,335.4 L1673.4,329.9 L1671.3,324.6 L1669.2,319.4 L1667.1,314.3 L1665.0,309.3 L1663.0,304.4 L1660.9,299.7 L1658.8,295.1 L1656.7,290.6 L1654.6,286.3 L1652.5,282.1 L1650.4,278.1 L1648.3,274.3 L1646.3,270.6 L1644.2,267.1 L1642.1,263.8 L1640.0,260.6 L1637.9,257.6 L1635.8,254.8 L1633.7,252.2 L1631.6,249.8 L1629.5,247.6 L1627.4,245.6 L1625.4,243.8 L1623.3,242.2 L1621.2,240.8 L1619.1,239.6 L1617.0,238.6 L1614.9,237.9 L1612.8,237.3 L1610.7,237.0 L1608.6,236.9 L1606.5,237.1 L1604.4,237.7 L1602.4,238.8 L1600.3,240.1 L1598.3,241.8 L1596.2,243.8 L1594.1,246.1 L1592.1,248.7 L1590.0,251.4 L1587.9,254.4 L1585.9,257.5 L1583.8,260.9 L1581.7,264.4 L1579.7,268.0 L1577.6,271.8 L1575.6,275.7 L1573.5,279.8 L1571.4,283.9 L1569.4,288.1 L1567.3,292.4 L1565.2,296.8 L1563.2,301.2 L1561.1,305.7 L1559.0,310.3 L1557.0,314.9 L1554.9,319.5 L1552.8,324.2 L1550.8,328.9 L1548.7,333.7 L1546.6,338.4 L1544.6,343.2 L1542.5,348.0 L1540.4,352.9 L1538.4,357.7 L1536.3,362.5 L1534.2,367.3 L1532.2,372.2 L1530.1,377.0 L1528.0,381.9 L1525.9,386.7 L1523.9,391.5 L1521.8,396.3 L1519.7,401.2 L1517.7,406.0 L1515.6,410.8 L1513.5,415.5 L1511.4,420.3 L1509.4,425.1 L1507.3,429.8 L1505.2,434.5 L1503.1,439.2 L1501.1,443.9 L1499.0,448.6 L1496.9,453.2 L1494.8,457.9 L1492.8,462.5 L1490.7,467.1 L1488.6,471.6 L1486.5,476.2 L1484.5,480.7 L1482.4,485.2 L1480.3,489.7 L1478.2,494.2 L1476.2,498.6 L1474.1,503.0 L1472.0,507.4 L1469.9,511.8 L1467.9,516.1 L1465.8,520.4 L1463.7,524.7 L1461.6,528.9 L1459.6,533.2 L1457.5,537.4 L1455.4,541.5 L1453.3,545.7 L1451.3,549.8 L1449.2,553.8 L1447.1,557.9 L1445.0,561.9 L1443.0,565.9 L1440.9,569.8 L1438.8,573.7 L1436.7,577.6 L1434.6,581.4 L1432.6,585.2 L1430.5,589.0 L1428.4,592.7 L1426.3,596.4 L1424.3,600.0 L1422.2,603.6 L1420.1,607.1 L1418.0,610.6 L1416.0,614.0 L1413.9,617.4 L1411.8,620.8 L1409.8,624.0 L1407.7,627.3 L1405.6,630.4 L1403.5,633.5 L1401.5,636.5 L1399.4,639.4 L1397.3,642.3 L1395.2,645.0 L1393.2,647.7 L1391.1,650.2 L1389.0,652.7 L1386.9,654.9 L1384.9,657.0 L1382.8,658.8 L1380.7,660.1 L1377.3,660.1 L1377.3,660.1Z" fill="#9970AB" fill-opacity="0.3" stroke="none"/>
<path d="M1149.2,660.1 L1360.8,660.1 L1362.9,659.7 L1365.0,658.9 L1367.0,657.8 L1369.1,656.6 L1371.1,655.1 L1373.2,653.5 L1375.2,651.7 L1377.3,649.8 L1379.3,647.7 L1381.4,645.5 L1383.4,643.2 L1385.5,640.8 L1387.5,638.2 L1389.6,635.6 L1391.6,632.8 L1393.7,630.0 L1395.7,627.0 L1397.8,623.9 L1399.8,620.8 L1401.9,617.5 L1403.9,614.2 L1405.9,610.8 L1408.0,607.3 L1410.0,603.7 L1412.1,600.0 L1414.1,596.3 L1416.2,592.5 L1418.2,588.6 L1420.3,584.6 L1422.3,580.6 L1424.4,576.5 L1426.4,572.3 L1428.5,568.0 L1430.5,563.7 L1432.6,559.3 L1434.6,554.9 L1436.7,550.4 L1438.7,545.9 L1440.8,541.3 L1442.8,536.6 L1444.9,531.9 L1446.9,527.1 L1449.0,522.3 L1451.0,517.5 L1453.1,512.6 L1455.1,507.6 L1457.2,502.7 L1459.2,497.6 L1461.3,492.6 L1463.3,487.5 L1465.4,482.4 L1467.4,477.2 L1469.5,472.1 L1471.5,466.9 L1473.6,461.6 L1475.6,456.4 L1477.7,451.2 L1479.7,445.9 L1481.8,440.6 L1483.9,435.3 L1485.9,430.1 L1488.0,424.8 L1490.0,419.5 L1492.1,414.2 L1494.1,409.0 L1496.2,403.7 L1498.3,398.5 L1500.3,393.3 L1502.4,388.1 L1504.4,382.9 L1506.5,377.8 L1508.6,372.7 L1510.6,367.6 L1512.7,362.6 L1514.8,357.6 L1516.8,352.7 L1518.9,347.8 L1520.9,343.0 L1523.0,338.3 L1525.1,333.7 L1527.1,329.1 L1529.2,324.6 L1531.3,320.1 L1533.3,315.8 L1535.4,311.5 L1537.5,307.4 L1539.5,303.4 L1541.6,299.4 L1543.6,295.6 L1545.7,291.9 L1547.8,288.4 L1549.8,284.9 L1551.9,281.6 L1554.0,278.5 L1556.0,275.5 L1558.1,272.6 L1560.2,269.9 L1562.2,267.4 L1564.3,265.0 L1566.4,262.8 L1568.4,260.8 L1570.5,259.0 L1572.5,257.3 L1574.6,255.9 L1576.7,254.7 L1578.7,253.7 L1580.8,252.9 L1582.8,252.3 L1584.9,252.0 L1587.0,251.8 L1588.9,251.9 L1590.8,252.2 L1592.7,252.6 L1594.7,253.2 L1596.6,254.0 L1598.5,254.9 L1600.4,256.1 L1602.3,257.4 L1604.3,258.8 L1606.2,260.4 L1608.1,262.2 L1610.0,264.2 L1611.9,266.3 L1613.9,268.6 L1615.8,271.0 L1617.7,273.6 L1619.6,276.4 L1621.5,279.3 L1623.5,282.4 L1625.4,285.6 L1627.3,288.9 L1629.2,292.4 L1631.1,296.1 L1633.1,299.8 L1635.0,303.8 L1636.9,307.8 L1638.8,312.0 L1640.7,316.3 L1642.7,320.7 L1644.6,325.2 L1646.5,329.8 L1648.4,334.6 L1650.3,339.4 L1652.3,344.4 L1654.2,349.4 L1656.1,354.5 L1658.0,359.8 L1660.0,365.1 L1661.9,370.5 L1663.8,375.9 L1665.7,381.4 L1667.6,387.0 L1669.6,392.7 L1671.5,398.4 L1673.4,404.1 L1675.3,409.9 L1677.3,415.7 L1679.2,421.6 L1681.1,427.5 L1683.0,433.4 L1685.0,439.4 L1686.9,445.3 L1688.8,451.3 L1690.7,457.2 L1692.7,463.2 L1694.6,469.2 L1696.5,475.1 L1698.4,481.0 L1700.4,486.9 L1702.3,492.8 L1704.2,498.6 L1706.1,504.4 L1708.1,510.2 L1710.0,515.9 L1711.9,521.6 L1713.8,527.2 L1715.8,532.7 L1717.7,538.2 L1719.6,543.6 L1721.5,548.9 L1723.5,554.1 L1725.4,559.3 L1727.3,564.4 L1729.2,569.3 L1731.2,574.2 L1733.1,579.0 L1735.0,583.6 L1736.9,588.2 L1738.9,592.6 L1740.8,597.0 L1742.7,601.2 L1744.6,605.2 L1746.6,609.2 L1748.5,613.0 L1750.4,616.7 L1752.3,620.2 L1754.3,623.6 L1756.2,626.9 L1758.1,630.0 L1760.0,633.0 L1761.9,635.8 L1763.9,638.5 L1765.8,641.0 L1767.7,643.4 L1769.6,645.6 L1771.6,647.6 L1773.5,649.5 L1775.4,651.3 L1777.3,652.9 L1779.3,654.3 L1781.2,655.5 L1783.1,656.7 L1785.0,657.6 L1786.9,658.4 L1788.9,659.0 L1790.8,659.5 L1792.7,659.8 L1794.6,660.0 L1796.6,660.1 L1957.5,660.1" fill="none" stroke="#1B7837" stroke-width="3.04" stroke-linejoin="round"/>
<path d="M1149.2,660.1 L1357.2,660.1 L1359.3,659.7 L1361.3,659.0 L1363.4,658.1 L1365.5,656.9 L1367.5,655.5 L1369.6,654.0 L1371.6,652.3 L1373.7,650.5 L1375.7,648.5 L1377.8,646.4 L1379.8,644.2 L1381.9,641.8 L1383.9,639.4 L1386.0,636.8 L1388.0,634.1 L1390.1,631.3 L1392.1,628.4 L1394.2,625.4 L1396.2,622.3 L1398.3,619.1 L1400.3,615.8 L1402.4,612.5 L1404.4,609.0 L1406.4,605.5 L1408.5,601.8 L1410.5,598.1 L1412.6,594.3 L1414.6,590.5 L1416.7,586.5 L1418.7,582.5 L1420.8,578.4 L1422.8,574.3 L1424.9,570.1 L1426.9,565.8 L1429.0,561.4 L1431.0,557.0 L1433.1,552.5 L1435.1,548.0 L1437.2,543.4 L1439.2,538.8 L1441.3,534.1 L1443.3,529.3 L1445.4,524.6 L1447.4,519.7 L1449.5,514.9 L1451.6,509.9 L1453.6,505.0 L1455.7,500.0 L1457.7,495.0 L1459.8,490.0 L1461.8,484.9 L1463.9,479.8 L1466.0,474.7 L1468.0,469.5 L1470.1,464.4 L1472.1,459.2 L1474.2,454.0 L1476.3,448.8 L1478.3,443.6 L1480.4,438.4 L1482.5,433.3 L1484.5,428.1 L1486.6,422.9 L1488.7,417.7 L1490.7,412.6 L1492.8,407.5 L1494.9,402.4 L1496.9,397.3 L1499.0,392.2 L1501.1,387.2 L1503.1,382.2 L1505.2,377.3 L1507.3,372.4 L1509.3,367.6 L1511.4,362.8 L1513.5,358.1 L1515.6,353.4 L1517.6,348.8 L1519.7,344.3 L1521.8,339.8 L1523.8,335.4 L1525.9,331.2 L1528.0,327.0 L1530.1,322.8 L1532.1,318.8 L1534.2,314.9 L1536.3,311.1 L1538.3,307.4 L1540.4,303.8 L1542.5,300.4 L1544.6,297.1 L1546.6,293.8 L1548.7,290.8 L1550.8,287.8 L1552.8,285.1 L1554.9,282.4 L1557.0,279.9 L1559.1,277.6 L1561.1,275.4 L1563.2,273.4 L1565.3,271.6 L1567.3,269.9 L1569.4,268.4 L1571.5,267.1 L1573.5,266.0 L1575.6,265.1 L1577.7,264.4 L1579.7,263.9 L1581.8,263.6 L1583.9,263.5 L1585.6,263.5 L1587.4,263.8 L1589.2,264.2 L1591.0,264.7 L1592.8,265.4 L1594.6,266.3 L1596.4,267.3 L1598.1,268.4 L1599.9,269.7 L1601.7,271.2 L1603.5,272.8 L1605.3,274.5 L1607.1,276.4 L1608.9,278.4 L1610.7,280.6 L1612.4,282.9 L1614.2,285.3 L1616.0,287.9 L1617.8,290.6 L1619.6,293.4 L1621.4,296.3 L1623.2,299.4 L1625.0,302.6 L1626.7,305.9 L1628.5,309.4 L1630.3,312.9 L1632.1,316.5 L1633.9,320.3 L1635.7,324.2 L1637.5,328.1 L1639.3,332.2 L1641.0,336.4 L1642.8,340.6 L1644.6,345.0 L1646.4,349.4 L1648.2,353.9 L1650.0,358.5 L1651.8,363.1 L1653.6,367.9 L1655.3,372.7 L1657.1,377.6 L1658.9,382.5 L1660.7,387.5 L1662.5,392.5 L1664.3,397.6 L1666.0,402.8 L1667.8,407.9 L1669.6,413.2 L1671.4,418.4 L1673.2,423.7 L1674.9,429.1 L1676.7,434.4 L1678.5,439.8 L1680.3,445.2 L1682.1,450.6 L1683.8,456.0 L1685.6,461.4 L1687.4,466.8 L1689.2,472.2 L1691.0,477.7 L1692.7,483.1 L1694.5,488.5 L1696.3,493.8 L1698.1,499.2 L1699.8,504.5 L1701.6,509.8 L1703.4,515.1 L1705.2,520.4 L1706.9,525.6 L1708.7,530.7 L1710.5,535.9 L1712.3,540.9 L1714.0,545.9 L1715.8,550.9 L1717.6,555.8 L1719.4,560.6 L1721.1,565.4 L1722.9,570.1 L1724.7,574.7 L1726.4,579.3 L1728.2,583.8 L1730.0,588.1 L1731.8,592.4 L1733.5,596.7 L1735.3,600.8 L1737.1,604.8 L1738.9,608.7 L1740.6,612.5 L1742.4,616.2 L1744.2,619.8 L1746.0,623.3 L1747.7,626.6 L1749.5,629.8 L1751.3,632.9 L1753.1,635.9 L1754.8,638.7 L1756.6,641.4 L1758.4,644.0 L1760.2,646.3 L1761.9,648.6 L1763.7,650.7 L1765.5,652.6 L1767.3,654.3 L1769.1,655.8 L1770.8,657.2 L1772.6,658.3 L1774.4,659.2 L1776.2,659.8 L1778.0,660.1 L1957.5,660.1" fill="none" stroke="#762A83" stroke-width="3.04" stroke-linejoin="round"/>
<path d="M1149.2,660.1 L1354.6,660.1 L1356.9,659.8 L1359.2,659.1 L1361.5,658.1 L1363.8,657.0 L1366.1,655.6 L1368.4,654.1 L1370.7,652.4 L1373.0,650.5 L1375.3,648.5 L1377.6,646.4 L1379.9,644.1 L1382.2,641.7 L1384.5,639.1 L1386.8,636.5 L1389.1,633.7 L1391.4,630.8 L1393.7,627.8 L1396.0,624.6 L1398.3,621.4 L1400.6,618.1 L1402.9,614.6 L1405.2,611.1 L1407.5,607.4 L1409.8,603.7 L1412.1,599.8 L1414.4,595.9 L1416.7,591.9 L1419.0,587.8 L1421.3,583.5 L1423.6,579.2 L1425.9,574.8 L1428.2,570.4 L1430.5,565.8 L1432.8,561.1 L1435.1,556.4 L1437.4,551.6 L1439.7,546.7 L1442.0,541.7 L1444.3,536.6 L1446.6,531.5 L1448.9,526.3 L1451.2,521.0 L1453.5,515.6 L1455.8,510.1 L1458.1,504.6 L1460.4,499.0 L1462.7,493.3 L1465.0,487.6 L1467.3,481.7 L1469.5,475.8 L1471.8,469.9 L1474.1,463.8 L1476.4,457.7 L1478.7,451.6 L1481.0,445.3 L1483.3,439.0 L1485.6,432.7 L1487.9,426.2 L1490.1,419.8 L1492.4,413.2 L1494.7,406.6 L1497.0,399.9 L1499.3,393.2 L1501.6,386.5 L1503.9,379.6 L1506.1,372.8 L1508.4,365.9 L1510.7,358.9 L1513.0,351.9 L1515.3,344.9 L1517.6,337.8 L1519.8,330.7 L1522.1,323.6 L1524.4,316.5 L1526.7,309.3 L1529.0,302.1 L1531.3,294.9 L1533.5,287.8 L1535.8,280.6 L1538.1,273.4 L1540.4,266.2 L1542.7,259.1 L1545.0,252.0 L1547.3,244.9 L1549.6,237.9 L1551.8,230.9 L1554.1,224.0 L1556.4,217.2 L1558.7,210.5 L1561.0,203.8 L1563.3,197.3 L1565.6,190.9 L1567.9,184.7 L1570.2,178.6 L1572.5,172.7 L1574.8,166.9 L1577.0,161.4 L1579.3,156.2 L1581.6,151.1 L1583.9,146.4 L1586.2,142.0 L1588.5,137.9 L1590.8,134.1 L1593.1,130.7 L1595.4,127.8 L1597.7,125.3 L1600.0,123.3 L1602.3,121.8 L1604.6,120.9 L1606.9,120.6 L1609.1,120.7 L1611.2,121.0 L1613.3,121.5 L1615.5,122.3 L1617.6,123.3 L1619.8,124.5 L1621.9,126.0 L1624.1,127.6 L1626.2,129.5 L1628.4,131.6 L1630.5,133.9 L1632.7,136.4 L1634.8,139.2 L1637.0,142.2 L1639.1,145.3 L1641.3,148.7 L1643.4,152.3 L1645.6,156.2 L1647.8,160.2 L1649.9,164.4 L1652.1,168.8 L1654.2,173.5 L1656.4,178.3 L1658.5,183.3 L1660.6,188.5 L1662.8,193.9 L1664.9,199.4 L1667.1,205.2 L1669.2,211.1 L1671.3,217.1 L1673.5,223.3 L1675.6,229.7 L1677.7,236.3 L1679.9,242.9 L1682.0,249.8 L1684.1,256.7 L1686.2,263.8 L1688.3,271.0 L1690.5,278.3 L1692.6,285.7 L1694.7,293.2 L1696.8,300.9 L1698.9,308.6 L1701.0,316.3 L1703.1,324.2 L1705.2,332.1 L1707.4,340.1 L1709.5,348.1 L1711.6,356.2 L1713.7,364.3 L1715.8,372.5 L1717.9,380.6 L1720.0,388.8 L1722.1,397.0 L1724.3,405.2 L1726.4,413.4 L1728.5,421.5 L1730.6,429.6 L1732.8,437.7 L1734.9,445.8 L1737.0,453.8 L1739.2,461.7 L1741.3,469.6 L1743.5,477.4 L1745.6,485.1 L1747.8,492.7 L1749.9,500.2 L1752.1,507.6 L1754.3,515.0 L1756.4,522.1 L1758.6,529.2 L1760.8,536.1 L1763.0,542.9 L1765.2,549.6 L1767.3,556.0 L1769.5,562.4 L1771.7,568.5 L1773.9,574.5 L1776.1,580.3 L1778.3,585.9 L1780.5,591.4 L1782.7,596.6 L1785.0,601.7 L1787.2,606.5 L1789.4,611.2 L1791.6,615.6 L1793.8,619.8 L1796.0,623.8 L1798.2,627.6 L1800.4,631.2 L1802.6,634.6 L1804.8,637.7 L1807.0,640.6 L1808.6,642.7 L1808.6,660.1 L1957.5,660.1" fill="none" stroke="#5AAE61" stroke-width="3.04" stroke-linejoin="round" stroke-dasharray="12.2,12.2"/>
<path d="M1149.2,660.1 L1364.3,660.1 L1366.5,659.4 L1368.8,658.2 L1371.0,656.6 L1373.2,654.9 L1375.4,652.9 L1377.7,650.7 L1379.9,648.4 L1382.1,645.9 L1384.3,643.3 L1386.6,640.5 L1388.8,637.7 L1391.0,634.7 L1393.2,631.6 L1395.5,628.4 L1397.7,625.1 L1399.9,621.7 L1402.1,618.2 L1404.4,614.6 L1406.6,610.9 L1408.8,607.1 L1411.1,603.3 L1413.3,599.3 L1415.5,595.3 L1417.7,591.2 L1420.0,587.1 L1422.2,582.9 L1424.4,578.5 L1426.6,574.2 L1428.9,569.7 L1431.1,565.2 L1433.3,560.6 L1435.6,556.0 L1437.8,551.3 L1440.0,546.5 L1442.2,541.7 L1444.5,536.8 L1446.7,531.9 L1448.9,526.8 L1451.1,521.8 L1453.4,516.7 L1455.6,511.5 L1457.8,506.3 L1460.0,501.0 L1462.3,495.7 L1464.5,490.3 L1466.7,484.8 L1468.9,479.4 L1471.2,473.8 L1473.4,468.3 L1475.6,462.7 L1477.8,457.0 L1480.0,451.3 L1482.3,445.6 L1484.5,439.8 L1486.7,433.9 L1488.9,428.1 L1491.1,422.2 L1493.4,416.3 L1495.6,410.3 L1497.8,404.3 L1500.0,398.3 L1502.2,392.3 L1504.4,386.2 L1506.7,380.1 L1508.9,374.0 L1511.1,367.9 L1513.3,361.7 L1515.5,355.6 L1517.7,349.4 L1519.9,343.3 L1522.2,337.1 L1524.4,330.9 L1526.6,324.8 L1528.8,318.6 L1531.0,312.5 L1533.2,306.4 L1535.4,300.3 L1537.6,294.2 L1539.8,288.2 L1542.0,282.2 L1544.2,276.2 L1546.4,270.3 L1548.7,264.5 L1550.9,258.7 L1553.1,253.0 L1555.3,247.3 L1557.5,241.8 L1559.7,236.4 L1561.9,231.0 L1564.1,225.8 L1566.3,220.6 L1568.5,215.7 L1570.7,210.8 L1572.9,206.1 L1575.1,201.6 L1577.3,197.3 L1579.5,193.1 L1581.7,189.2 L1583.9,185.4 L1586.1,181.9 L1588.3,178.7 L1590.5,175.7 L1592.7,172.9 L1594.9,170.5 L1597.2,168.4 L1599.4,166.7 L1601.6,165.2 L1603.8,164.2 L1606.0,163.6 L1608.2,163.3 L1610.3,163.5 L1612.5,163.8 L1614.6,164.4 L1616.8,165.2 L1618.9,166.2 L1621.0,167.4 L1623.2,168.9 L1625.3,170.6 L1627.5,172.6 L1629.7,174.7 L1631.8,177.1 L1634.0,179.6 L1636.1,182.4 L1638.3,185.4 L1640.4,188.7 L1642.6,192.1 L1644.8,195.7 L1646.9,199.5 L1649.1,203.6 L1651.2,207.8 L1653.4,212.2 L1655.5,216.8 L1657.7,221.5 L1659.8,226.5 L1662.0,231.6 L1664.1,236.9 L1666.2,242.3 L1668.4,247.9 L1670.5,253.7 L1672.6,259.5 L1674.7,265.6 L1676.8,271.7 L1678.9,278.0 L1681.0,284.4 L1683.1,291.0 L1685.2,297.6 L1687.3,304.3 L1689.4,311.2 L1691.5,318.1 L1693.5,325.1 L1695.6,332.2 L1697.7,339.3 L1699.7,346.6 L1701.8,353.8 L1703.9,361.2 L1705.9,368.5 L1708.0,375.9 L1710.1,383.3 L1712.1,390.8 L1714.2,398.2 L1716.3,405.7 L1718.4,413.2 L1720.4,420.6 L1722.5,428.1 L1724.6,435.5 L1726.7,442.9 L1728.8,450.2 L1730.9,457.6 L1733.0,464.8 L1735.2,472.0 L1737.3,479.2 L1739.4,486.3 L1741.6,493.3 L1743.7,500.2 L1745.9,507.0 L1748.0,513.8 L1750.2,520.4 L1752.4,526.9 L1754.6,533.4 L1756.8,539.7 L1759.0,545.8 L1761.2,551.9 L1763.4,557.8 L1765.6,563.6 L1767.8,569.3 L1770.1,574.7 L1772.3,580.1 L1774.6,585.3 L1776.8,590.3 L1779.1,595.2 L1781.3,599.9 L1783.6,604.4 L1785.8,608.8 L1788.1,613.0 L1790.3,617.0 L1792.6,620.8 L1794.8,624.5 L1797.1,627.9 L1799.3,631.2 L1801.6,634.3 L1803.8,637.3 L1806.1,640.0 L1808.3,642.5 L1808.6,642.9 L1808.6,660.1 L1957.5,660.1" fill="none" stroke="#9970AB" stroke-width="3.04" stroke-linejoin="round" stroke-dasharray="12.2,12.2"/>
<line x1="1108.85" y1="0.0" x2="1108.85" y2="692.8" stroke="#000" stroke-width="2.8"/>
<line x1="1107.4499999999998" y1="691.4" x2="1998" y2="691.4" stroke="#000" stroke-width="2.8"/>
<line x1="1255.6" y1="691.4" x2="1255.6" y2="697.85" stroke="#333" stroke-width="2.5"/>
<text x="1255.6" y="718.8" font-size="20.5" fill="#4D4D4D" text-anchor="middle">10</text>
<line x1="1468.3" y1="691.4" x2="1468.3" y2="697.85" stroke="#333" stroke-width="2.5"/>
<text x="1468.3" y="718.8" font-size="20.5" fill="#4D4D4D" text-anchor="middle">20</text>
<line x1="1681.0" y1="691.4" x2="1681.0" y2="697.85" stroke="#333" stroke-width="2.5"/>
<text x="1681.0" y="718.8" font-size="20.5" fill="#4D4D4D" text-anchor="middle">30</text>
<line x1="1893.7" y1="691.4" x2="1893.7" y2="697.85" stroke="#333" stroke-width="2.5"/>
<text x="1893.7" y="718.8" font-size="20.5" fill="#4D4D4D" text-anchor="middle">40</text>
<text transform="translate(1031.1,346.0) rotate(-90)" font-size="25.9" fill="#000" text-anchor="middle">Suitability for transmission – S(T)</text>
<text x="1149.4" y="45.5" font-size="32.5" fill="#000" text-anchor="middle">B</text>
<rect x="1136.2" y="99.0" width="37.7" height="37.5" fill="#1B7837" fill-opacity="0.3"/>
<line x1="1138.7" y1="117.9" x2="1171.7" y2="117.9" stroke="#1B7837" stroke-width="3.04"/>
<text x="1187.9" y="125.6" font-size="21.42" fill="#000">2: Empirical DTR 9</text>
<rect x="1136.2" y="140.0" width="37.7" height="37.5" fill="#762A83" fill-opacity="0.3"/>
<line x1="1138.7" y1="158.9" x2="1171.7" y2="158.9" stroke="#762A83" stroke-width="3.04"/>
<text x="1187.9" y="166.6" font-size="21.42" fill="#000">2: Empirical DTR 12</text>
<rect x="1136.2" y="181.0" width="37.7" height="37.5" fill="#5AAE61" fill-opacity="0.3"/>
<line x1="1138.7" y1="199.9" x2="1171.7" y2="199.9" stroke="#5AAE61" stroke-width="3.04" stroke-dasharray="12.2,12.2"/>
<text x="1187.9" y="207.6" font-size="21.42" fill="#000">3: RS on 3 traits – DTR 9</text>
<rect x="1136.2" y="222.0" width="37.7" height="37.5" fill="#9970AB" fill-opacity="0.3"/>
<line x1="1138.7" y1="240.9" x2="1171.7" y2="240.9" stroke="#9970AB" stroke-width="3.04" stroke-dasharray="12.2,12.2"/>
<text x="1187.9" y="248.6" font-size="21.42" fill="#000">3: RS on 3 traits – DTR 12</text>
</g>
<g id="panelC">
<path d="M212.8,1671.4 L216.3,1671.4 L219.8,1671.4 L223.3,1671.3 L226.8,1671.3 L230.3,1671.1 L233.8,1671.0 L237.3,1670.7 L240.8,1670.4 L244.3,1670.0 L247.8,1669.6 L251.3,1669.0 L254.8,1668.4 L258.3,1667.6 L261.9,1666.8 L265.4,1665.8 L268.9,1664.7 L272.4,1663.5 L275.9,1662.1 L279.4,1660.6 L282.9,1659.0 L286.4,1657.2 L289.9,1655.3 L293.4,1653.2 L296.9,1650.9 L300.4,1648.5 L303.9,1645.9 L307.4,1643.1 L310.9,1640.2 L314.4,1637.1 L317.9,1633.7 L321.4,1630.2 L324.9,1626.5 L328.4,1622.6 L331.9,1618.5 L335.4,1614.2 L338.9,1609.7 L342.5,1605.0 L346.0,1600.1 L349.5,1595.0 L353.0,1589.6 L356.5,1584.1 L360.0,1578.4 L363.5,1572.4 L367.0,1566.2 L370.5,1559.8 L374.0,1553.3 L377.5,1546.5 L381.0,1539.5 L384.5,1532.3 L388.0,1524.9 L391.5,1517.3 L395.0,1509.5 L398.5,1501.5 L402.0,1493.4 L405.5,1485.0 L409.0,1476.5 L412.5,1467.8 L416.0,1459.0 L419.5,1450.0 L423.0,1440.8 L426.6,1431.5 L430.1,1422.1 L433.6,1412.6 L437.1,1402.9 L440.6,1393.1 L444.1,1383.2 L447.6,1373.3 L451.1,1363.2 L454.6,1353.1 L458.1,1343.0 L461.6,1332.7 L465.1,1322.5 L468.6,1312.3 L472.1,1302.0 L475.6,1291.7 L479.1,1281.5 L482.6,1271.3 L486.1,1261.2 L489.6,1251.1 L493.1,1241.1 L496.6,1231.2 L500.1,1221.4 L503.6,1211.7 L507.1,1202.2 L510.7,1192.9 L514.2,1183.7 L517.7,1174.7 L521.2,1165.9 L524.7,1157.3 L528.2,1149.0 L531.7,1141.0 L535.2,1133.2 L538.7,1125.7 L542.2,1118.5 L545.7,1111.6 L549.2,1105.1 L552.7,1099.0 L556.2,1093.2 L559.7,1087.8 L563.2,1082.8 L566.7,1078.2 L570.2,1074.0 L573.7,1070.3 L577.2,1067.1 L580.7,1064.3 L584.2,1062.0 L587.7,1060.2 L591.2,1058.9 L594.8,1058.1 L598.3,1057.9 L600.8,1058.0 L603.4,1058.6 L606.0,1059.4 L608.6,1060.6 L611.2,1062.1 L613.8,1063.9 L616.3,1066.0 L618.9,1068.4 L621.5,1071.0 L624.1,1074.0 L626.7,1077.2 L629.3,1080.6 L631.9,1084.3 L634.4,1088.2 L637.0,1092.4 L639.6,1096.8 L642.2,1101.3 L644.8,1106.1 L647.4,1111.1 L649.9,1116.3 L652.5,1121.6 L655.1,1127.1 L657.7,1132.8 L660.3,1138.7 L662.9,1144.6 L665.5,1150.8 L668.0,1157.0 L670.6,1163.4 L673.2,1169.9 L675.8,1176.5 L678.4,1183.3 L681.0,1190.1 L683.5,1197.0 L686.1,1204.0 L688.7,1211.1 L691.3,1218.3 L693.9,1225.5 L696.5,1232.8 L699.1,1240.2 L701.6,1247.6 L704.2,1255.0 L706.8,1262.6 L709.4,1270.1 L712.0,1277.7 L714.6,1285.3 L717.1,1292.9 L719.7,1300.6 L722.3,1308.2 L724.9,1315.9 L727.5,1323.6 L730.1,1331.3 L732.7,1338.9 L735.2,1346.6 L737.8,1354.3 L740.4,1361.9 L743.0,1369.6 L745.6,1377.2 L748.2,1384.8 L750.7,1392.4 L753.3,1399.9 L755.9,1407.4 L758.5,1414.9 L761.1,1422.3 L763.7,1429.7 L766.3,1437.1 L768.8,1444.4 L771.4,1451.6 L774.0,1458.8 L776.6,1466.0 L779.2,1473.0 L781.8,1480.1 L784.3,1487.0 L786.9,1493.9 L789.5,1500.8 L792.1,1507.5 L794.7,1514.2 L797.3,1520.9 L799.9,1527.4 L802.4,1533.9 L805.0,1540.2 L807.6,1546.5 L810.2,1552.8 L812.8,1558.9 L815.4,1564.9 L817.9,1570.8 L820.5,1576.7 L823.1,1582.4 L825.7,1588.1 L828.3,1593.6 L830.9,1599.0 L833.5,1604.3 L836.0,1609.5 L838.6,1614.6 L841.2,1619.5 L843.8,1624.3 L846.4,1629.0 L849.0,1633.5 L851.5,1637.9 L854.1,1642.1 L856.7,1646.1 L859.3,1650.0 L861.9,1653.7 L864.5,1657.1 L867.1,1660.4 L869.6,1663.3 L872.2,1666.0 L874.8,1668.4 L877.4,1670.3 L880.0,1671.4 L861.8,1671.4 L859.4,1669.2 L856.9,1666.4 L854.5,1663.3 L852.0,1660.1 L849.6,1656.7 L847.1,1653.2 L844.7,1649.6 L842.2,1646.0 L839.8,1642.2 L837.4,1638.4 L834.9,1634.5 L832.5,1630.6 L830.0,1626.6 L827.6,1622.5 L825.1,1618.4 L822.7,1614.3 L820.2,1610.1 L817.8,1605.9 L815.3,1601.6 L812.9,1597.3 L810.5,1592.9 L808.0,1588.5 L805.6,1584.1 L803.1,1579.7 L800.7,1575.2 L798.2,1570.7 L795.8,1566.2 L793.3,1561.6 L790.9,1557.0 L788.4,1552.4 L786.0,1547.7 L783.5,1543.1 L781.1,1538.4 L778.7,1533.6 L776.2,1528.9 L773.8,1524.1 L771.3,1519.4 L768.9,1514.6 L766.4,1509.7 L764.0,1504.9 L761.5,1500.0 L759.1,1495.1 L756.6,1490.2 L754.2,1485.3 L751.8,1480.4 L749.3,1475.4 L746.9,1470.5 L744.4,1465.5 L742.0,1460.5 L739.5,1455.5 L737.1,1450.5 L734.6,1445.4 L732.2,1440.4 L729.7,1435.3 L727.3,1430.3 L724.8,1425.2 L722.4,1420.1 L720.0,1415.0 L717.5,1410.0 L715.1,1404.9 L712.6,1399.8 L710.2,1394.7 L707.7,1389.6 L705.3,1384.5 L702.8,1379.4 L700.4,1374.3 L697.9,1369.3 L695.5,1364.2 L693.1,1359.2 L690.6,1354.1 L688.2,1349.1 L685.7,1344.1 L683.3,1339.1 L680.8,1334.2 L678.4,1329.2 L675.9,1324.3 L673.5,1319.5 L671.0,1314.6 L668.6,1309.9 L666.1,1305.1 L663.7,1300.4 L661.3,1295.8 L658.8,1291.2 L656.4,1286.7 L653.9,1282.3 L651.5,1277.9 L649.0,1273.6 L646.6,1269.4 L644.1,1265.3 L641.7,1261.3 L639.2,1257.4 L636.8,1253.6 L634.4,1249.9 L631.9,1246.4 L629.5,1243.0 L627.0,1239.8 L624.6,1236.7 L622.1,1233.8 L619.7,1231.1 L617.2,1228.5 L614.8,1226.2 L612.3,1224.1 L609.9,1222.2 L607.5,1220.5 L605.0,1219.2 L602.6,1218.1 L600.1,1217.2 L597.7,1216.7 L595.2,1216.6 L592.6,1216.8 L590.0,1217.5 L587.4,1218.6 L584.9,1220.1 L582.3,1222.0 L579.7,1224.2 L577.1,1226.7 L574.5,1229.5 L571.9,1232.6 L569.3,1235.9 L566.7,1239.4 L564.1,1243.1 L561.5,1247.0 L559.0,1251.0 L556.4,1255.2 L553.8,1259.6 L551.2,1264.1 L548.6,1268.7 L546.0,1273.4 L543.4,1278.2 L540.8,1283.1 L538.2,1288.0 L535.6,1293.1 L533.0,1298.2 L530.5,1303.3 L527.9,1308.5 L525.3,1313.7 L522.7,1319.0 L520.1,1324.3 L517.5,1329.6 L514.9,1335.0 L512.3,1340.3 L509.7,1345.7 L507.1,1351.1 L504.5,1356.5 L502.0,1361.9 L499.4,1367.3 L496.8,1372.7 L494.2,1378.0 L491.6,1383.4 L489.0,1388.8 L486.4,1394.1 L483.8,1399.5 L481.2,1404.8 L478.6,1410.1 L476.1,1415.4 L473.5,1420.7 L470.9,1425.9 L468.3,1431.2 L465.7,1436.4 L463.1,1441.6 L460.5,1446.7 L457.9,1451.9 L455.3,1457.0 L452.7,1462.0 L450.1,1467.1 L447.6,1472.1 L445.0,1477.1 L442.4,1482.1 L439.8,1487.0 L437.2,1491.9 L434.6,1496.8 L432.0,1501.6 L429.4,1506.4 L426.8,1511.2 L424.2,1515.9 L421.6,1520.6 L419.1,1525.3 L416.5,1529.9 L413.9,1534.5 L411.3,1539.0 L408.7,1543.5 L406.1,1548.0 L403.5,1552.4 L400.9,1556.8 L398.3,1561.2 L395.7,1565.5 L393.1,1569.8 L390.6,1574.0 L388.0,1578.1 L385.4,1582.3 L382.8,1586.4 L380.2,1590.4 L377.6,1594.4 L375.0,1598.3 L372.4,1602.2 L369.8,1606.0 L367.2,1609.8 L364.7,1613.5 L362.1,1617.1 L359.5,1620.7 L356.9,1624.2 L354.3,1627.7 L351.7,1631.1 L349.1,1634.4 L346.5,1637.7 L343.9,1640.9 L341.3,1644.0 L338.7,1647.0 L336.2,1649.9 L333.6,1652.7 L331.0,1655.4 L328.4,1658.0 L325.8,1660.5 L323.2,1662.9 L320.6,1665.1 L318.0,1667.1 L315.4,1668.9 L312.8,1670.4 L310.2,1671.4Z" fill="#A6DBA0" fill-opacity="0.3" stroke="none"/>
<path d="M184.3,1671.4 L188.1,1671.4 L191.9,1671.3 L195.7,1671.1 L199.5,1670.7 L203.3,1670.3 L207.1,1669.8 L210.9,1669.2 L214.7,1668.4 L218.5,1667.5 L222.3,1666.5 L226.1,1665.3 L229.9,1664.1 L233.7,1662.7 L237.4,1661.1 L241.2,1659.4 L245.0,1657.6 L248.8,1655.6 L252.6,1653.5 L256.4,1651.3 L260.2,1648.9 L264.0,1646.4 L267.8,1643.7 L271.6,1640.9 L275.4,1637.9 L279.2,1634.7 L283.0,1631.5 L286.8,1628.0 L290.6,1624.5 L294.4,1620.8 L298.2,1616.9 L301.9,1612.9 L305.7,1608.7 L309.5,1604.4 L313.3,1599.9 L317.1,1595.3 L320.9,1590.5 L324.7,1585.6 L328.5,1580.6 L332.3,1575.4 L336.1,1570.1 L339.9,1564.6 L343.7,1559.0 L347.5,1553.3 L351.3,1547.4 L355.1,1541.4 L358.9,1535.3 L362.7,1529.0 L366.4,1522.6 L370.2,1516.1 L374.0,1509.5 L377.8,1502.8 L381.6,1496.0 L385.4,1489.1 L389.2,1482.0 L393.0,1474.9 L396.8,1467.7 L400.6,1460.4 L404.4,1453.0 L408.2,1445.6 L412.0,1438.1 L415.8,1430.5 L419.6,1422.9 L423.4,1415.2 L427.2,1407.4 L431.0,1399.7 L434.7,1391.9 L438.5,1384.0 L442.3,1376.2 L446.1,1368.3 L449.9,1360.5 L453.7,1352.6 L457.5,1344.8 L461.3,1337.0 L465.1,1329.2 L468.9,1321.5 L472.7,1313.8 L476.5,1306.1 L480.3,1298.6 L484.1,1291.1 L487.9,1283.7 L491.7,1276.4 L495.5,1269.2 L499.2,1262.1 L503.0,1255.1 L506.8,1248.3 L510.6,1241.6 L514.4,1235.1 L518.2,1228.7 L522.0,1222.5 L525.8,1216.6 L529.6,1210.8 L533.4,1205.2 L537.2,1199.8 L541.0,1194.6 L544.8,1189.7 L548.6,1185.1 L552.4,1180.7 L556.2,1176.5 L560.0,1172.7 L563.7,1169.1 L567.5,1165.9 L571.3,1162.9 L575.1,1160.3 L578.9,1157.9 L582.7,1156.0 L586.5,1154.3 L590.3,1153.0 L594.1,1152.1 L597.9,1151.5 L601.7,1151.3 L604.6,1151.4 L607.5,1151.7 L610.4,1152.1 L613.2,1152.7 L616.1,1153.5 L619.0,1154.4 L621.9,1155.5 L624.8,1156.8 L627.7,1158.3 L630.6,1159.9 L633.5,1161.7 L636.4,1163.6 L639.2,1165.8 L642.1,1168.1 L645.0,1170.5 L647.9,1173.1 L650.8,1175.9 L653.7,1178.9 L656.6,1182.0 L659.5,1185.2 L662.3,1188.7 L665.2,1192.2 L668.1,1196.0 L671.0,1199.8 L673.9,1203.9 L676.8,1208.0 L679.7,1212.4 L682.6,1216.8 L685.5,1221.4 L688.3,1226.2 L691.2,1231.0 L694.1,1236.0 L697.0,1241.1 L699.9,1246.4 L702.8,1251.8 L705.7,1257.3 L708.6,1262.9 L711.4,1268.6 L714.3,1274.4 L717.2,1280.4 L720.1,1286.4 L723.0,1292.6 L725.9,1298.8 L728.8,1305.1 L731.7,1311.5 L734.6,1318.0 L737.4,1324.6 L740.3,1331.2 L743.2,1337.9 L746.1,1344.7 L749.0,1351.6 L751.9,1358.4 L754.8,1365.4 L757.7,1372.4 L760.5,1379.4 L763.4,1386.5 L766.3,1393.6 L769.2,1400.7 L772.1,1407.9 L775.0,1415.1 L777.9,1422.3 L780.8,1429.5 L783.7,1436.7 L786.5,1443.9 L789.4,1451.1 L792.3,1458.3 L795.2,1465.4 L798.1,1472.6 L801.0,1479.7 L803.9,1486.8 L806.8,1493.8 L809.6,1500.8 L812.5,1507.7 L815.4,1514.6 L818.3,1521.4 L821.2,1528.2 L824.1,1534.9 L827.0,1541.5 L829.9,1548.0 L832.8,1554.4 L835.6,1560.8 L838.5,1567.0 L841.4,1573.1 L844.3,1579.1 L847.2,1585.0 L850.1,1590.8 L853.0,1596.4 L855.9,1601.9 L858.8,1607.3 L861.6,1612.5 L864.5,1617.5 L867.4,1622.4 L870.3,1627.1 L873.2,1631.6 L876.1,1635.9 L879.0,1640.1 L881.9,1644.0 L884.7,1647.7 L887.6,1651.3 L890.5,1654.5 L893.4,1657.6 L896.3,1660.4 L899.2,1662.9 L902.1,1665.2 L905.0,1667.1 L907.9,1668.8 L910.7,1670.1 L913.6,1671.0 L916.5,1671.4 L893.6,1671.4 L890.8,1670.0 L888.1,1667.9 L885.4,1665.5 L882.7,1662.8 L880.0,1659.9 L877.3,1656.8 L874.6,1653.6 L871.9,1650.2 L869.1,1646.7 L866.4,1643.1 L863.7,1639.4 L861.0,1635.6 L858.3,1631.7 L855.6,1627.7 L852.9,1623.7 L850.1,1619.6 L847.4,1615.4 L844.7,1611.1 L842.0,1606.8 L839.3,1602.4 L836.6,1598.0 L833.9,1593.5 L831.2,1589.0 L828.4,1584.4 L825.7,1579.8 L823.0,1575.2 L820.3,1570.5 L817.6,1565.8 L814.9,1561.0 L812.2,1556.3 L809.4,1551.5 L806.7,1546.7 L804.0,1541.9 L801.3,1537.0 L798.6,1532.2 L795.9,1527.3 L793.2,1522.4 L790.5,1517.5 L787.7,1512.6 L785.0,1507.8 L782.3,1502.9 L779.6,1498.0 L776.9,1493.1 L774.2,1488.3 L771.5,1483.4 L768.7,1478.6 L766.0,1473.7 L763.3,1468.9 L760.6,1464.1 L757.9,1459.4 L755.2,1454.6 L752.5,1449.9 L749.8,1445.2 L747.0,1440.6 L744.3,1435.9 L741.6,1431.3 L738.9,1426.8 L736.2,1422.3 L733.5,1417.8 L730.8,1413.4 L728.0,1409.0 L725.3,1404.7 L722.6,1400.4 L719.9,1396.2 L717.2,1392.0 L714.5,1387.9 L711.8,1383.8 L709.1,1379.8 L706.3,1375.9 L703.6,1372.0 L700.9,1368.2 L698.2,1364.5 L695.5,1360.8 L692.8,1357.3 L690.1,1353.7 L687.3,1350.3 L684.6,1346.9 L681.9,1343.7 L679.2,1340.5 L676.5,1337.3 L673.8,1334.3 L671.1,1331.4 L668.4,1328.5 L665.6,1325.8 L662.9,1323.1 L660.2,1320.5 L657.5,1318.0 L654.8,1315.7 L652.1,1313.4 L649.4,1311.2 L646.6,1309.1 L643.9,1307.1 L641.2,1305.2 L638.5,1303.5 L635.8,1301.8 L633.1,1300.2 L630.4,1298.8 L627.7,1297.5 L624.9,1296.2 L622.2,1295.1 L619.5,1294.1 L616.8,1293.2 L614.1,1292.5 L611.4,1291.8 L608.7,1291.3 L605.9,1290.9 L603.2,1290.6 L600.5,1290.4 L597.8,1290.3 L594.8,1290.4 L591.7,1290.8 L588.7,1291.4 L585.6,1292.3 L582.6,1293.3 L579.6,1294.6 L576.5,1296.1 L573.5,1297.8 L570.4,1299.6 L567.4,1301.7 L564.4,1303.9 L561.3,1306.3 L558.3,1308.8 L555.2,1311.5 L552.2,1314.3 L549.1,1317.3 L546.1,1320.4 L543.1,1323.6 L540.0,1326.9 L537.0,1330.4 L533.9,1333.9 L530.9,1337.6 L527.9,1341.3 L524.8,1345.2 L521.8,1349.1 L518.7,1353.1 L515.7,1357.2 L512.6,1361.3 L509.6,1365.5 L506.6,1369.8 L503.5,1374.1 L500.5,1378.5 L497.4,1382.9 L494.4,1387.3 L491.4,1391.8 L488.3,1396.4 L485.3,1400.9 L482.2,1405.5 L479.2,1410.1 L476.1,1414.8 L473.1,1419.4 L470.1,1424.1 L467.0,1428.8 L464.0,1433.4 L460.9,1438.1 L457.9,1442.8 L454.9,1447.5 L451.8,1452.2 L448.8,1456.9 L445.7,1461.6 L442.7,1466.3 L439.6,1471.0 L436.6,1475.6 L433.6,1480.3 L430.5,1484.9 L427.5,1489.5 L424.4,1494.1 L421.4,1498.7 L418.4,1503.2 L415.3,1507.8 L412.3,1512.3 L409.2,1516.8 L406.2,1521.2 L403.2,1525.6 L400.1,1530.0 L397.1,1534.4 L394.0,1538.7 L391.0,1543.0 L387.9,1547.2 L384.9,1551.4 L381.9,1555.6 L378.8,1559.7 L375.8,1563.8 L372.7,1567.9 L369.7,1571.9 L366.7,1575.9 L363.6,1579.8 L360.6,1583.7 L357.5,1587.5 L354.5,1591.3 L351.4,1595.0 L348.4,1598.7 L345.4,1602.3 L342.3,1605.9 L339.3,1609.4 L336.2,1612.9 L333.2,1616.3 L330.2,1619.6 L327.1,1622.9 L324.1,1626.1 L321.0,1629.3 L318.0,1632.4 L314.9,1635.4 L311.9,1638.3 L308.9,1641.2 L305.8,1644.0 L302.8,1646.7 L299.7,1649.3 L296.7,1651.9 L293.7,1654.3 L290.6,1656.7 L287.6,1658.9 L284.5,1661.1 L281.5,1663.1 L278.4,1665.0 L275.4,1666.7 L272.4,1668.3 L269.3,1669.6 L266.3,1670.7 L263.2,1671.4Z" fill="#C2A5CF" fill-opacity="0.3" stroke="none"/>
<path d="M131.3,1671.4 L135.1,1671.4 L139.0,1671.4 L142.8,1671.4 L146.6,1671.4 L150.4,1671.4 L154.3,1671.4 L158.1,1671.4 L161.9,1671.4 L165.8,1671.4 L169.6,1671.4 L173.4,1671.4 L177.3,1671.4 L181.1,1671.4 L184.9,1671.4 L188.7,1671.3 L192.6,1671.3 L196.4,1671.3 L200.2,1671.3 L204.1,1671.3 L207.9,1671.3 L211.7,1671.2 L215.6,1671.2 L219.4,1671.1 L223.2,1671.1 L227.1,1671.0 L230.9,1671.0 L234.7,1670.9 L238.6,1670.8 L242.4,1670.7 L246.2,1670.6 L250.1,1670.5 L253.9,1670.3 L257.8,1670.1 L261.6,1669.9 L265.4,1669.7 L269.3,1669.4 L273.1,1669.1 L277.0,1668.7 L280.8,1668.3 L284.7,1667.9 L288.6,1667.3 L292.4,1666.7 L296.3,1666.1 L300.2,1665.3 L304.1,1664.5 L308.0,1663.5 L311.9,1662.5 L315.8,1661.3 L319.7,1660.0 L323.6,1658.5 L327.5,1656.9 L331.5,1655.1 L335.4,1653.2 L339.4,1651.0 L343.3,1648.6 L347.3,1646.0 L351.3,1643.2 L355.3,1640.1 L359.3,1636.7 L363.3,1633.0 L367.4,1629.0 L371.4,1624.7 L375.5,1620.0 L379.5,1615.0 L383.6,1609.6 L387.7,1603.8 L391.8,1597.6 L395.9,1591.0 L400.0,1584.0 L404.1,1576.5 L408.2,1568.6 L412.3,1560.3 L416.4,1551.4 L420.5,1542.1 L424.6,1532.4 L428.6,1522.1 L432.7,1511.5 L436.7,1500.3 L440.7,1488.7 L444.7,1476.7 L448.7,1464.3 L452.6,1451.4 L456.5,1438.2 L460.4,1424.6 L464.3,1410.7 L468.2,1396.5 L472.0,1382.0 L475.8,1367.3 L479.5,1352.4 L483.3,1337.3 L487.0,1322.1 L490.8,1306.9 L494.5,1291.6 L498.2,1276.4 L501.9,1261.3 L505.6,1246.3 L509.3,1231.5 L513.1,1216.9 L516.8,1202.6 L520.6,1188.6 L524.3,1175.1 L528.1,1162.0 L531.9,1149.4 L535.7,1137.3 L539.6,1125.8 L543.4,1114.9 L547.3,1104.7 L551.1,1095.1 L555.0,1086.3 L558.9,1078.3 L562.8,1071.0 L566.7,1064.5 L570.6,1058.8 L574.4,1054.0 L578.3,1049.9 L582.2,1046.7 L586.1,1044.3 L589.9,1042.6 L593.8,1041.6 L597.6,1041.4 L600.5,1041.6 L603.5,1042.3 L606.4,1043.6 L609.4,1045.5 L612.4,1048.0 L615.4,1051.1 L618.3,1054.8 L621.3,1059.2 L624.3,1064.2 L627.3,1069.8 L630.4,1076.0 L633.4,1082.9 L636.3,1090.3 L639.3,1098.3 L642.3,1106.9 L645.3,1115.9 L648.2,1125.5 L651.2,1135.6 L654.1,1146.1 L657.0,1157.1 L659.9,1168.4 L662.7,1180.1 L665.6,1192.1 L668.4,1204.4 L671.2,1217.0 L674.0,1229.8 L676.8,1242.7 L679.6,1255.9 L682.4,1269.1 L685.2,1282.4 L688.0,1295.8 L690.8,1309.2 L693.6,1322.6 L696.5,1335.9 L699.3,1349.1 L702.2,1362.2 L705.0,1375.2 L707.9,1388.0 L710.9,1400.7 L713.8,1413.1 L716.8,1425.3 L719.8,1437.2 L722.9,1448.8 L725.9,1460.2 L729.0,1471.2 L732.1,1482.0 L735.3,1492.4 L738.4,1502.4 L741.6,1512.2 L744.8,1521.5 L748.0,1530.5 L751.2,1539.2 L754.5,1547.5 L757.7,1555.4 L760.9,1563.0 L764.2,1570.3 L767.5,1577.1 L770.7,1583.7 L774.0,1589.9 L777.2,1595.7 L780.5,1601.3 L783.7,1606.5 L787.0,1611.5 L790.2,1616.1 L793.4,1620.4 L796.6,1624.5 L799.8,1628.3 L803.0,1631.9 L806.1,1635.2 L809.3,1638.3 L812.4,1641.2 L815.6,1643.8 L818.7,1646.3 L821.8,1648.6 L824.9,1650.7 L828.0,1652.6 L831.1,1654.4 L834.1,1656.0 L837.2,1657.5 L840.2,1658.9 L843.3,1660.1 L846.3,1661.3 L849.3,1662.3 L852.3,1663.3 L855.3,1664.1 L858.3,1664.9 L861.3,1665.6 L864.3,1666.2 L867.3,1666.8 L870.3,1667.3 L873.2,1667.8 L876.2,1668.2 L879.2,1668.6 L882.1,1668.9 L885.1,1669.2 L888.0,1669.5 L891.0,1669.7 L893.9,1669.9 L896.9,1670.1 L899.8,1670.3 L902.8,1670.4 L905.7,1670.5 L908.7,1670.6 L911.6,1670.7 L914.5,1670.8 L917.5,1670.9 L920.4,1671.0 L923.3,1671.0 L926.3,1671.1 L929.2,1671.1 L932.1,1671.2 L935.1,1671.2 L938.0,1671.2 L940.9,1671.3 L943.9,1671.3 L946.8,1671.3 L949.7,1671.3 L952.7,1671.3 L955.6,1671.3 L945.1,1671.4 L942.1,1671.4 L939.1,1671.4 L936.2,1671.4 L933.2,1671.4 L930.2,1671.4 L927.3,1671.4 L924.3,1671.4 L921.3,1671.4 L918.4,1671.4 L915.4,1671.4 L912.4,1671.3 L909.5,1671.3 L906.5,1671.3 L903.5,1671.3 L900.6,1671.3 L897.6,1671.2 L894.6,1671.2 L891.7,1671.2 L888.7,1671.1 L885.7,1671.1 L882.8,1671.0 L879.8,1671.0 L876.8,1670.9 L873.9,1670.8 L870.9,1670.7 L867.9,1670.6 L865.0,1670.4 L862.0,1670.3 L859.0,1670.1 L856.1,1669.9 L853.1,1669.6 L850.2,1669.4 L847.2,1669.0 L844.2,1668.7 L841.3,1668.3 L838.3,1667.8 L835.3,1667.3 L832.4,1666.7 L829.4,1666.1 L826.5,1665.3 L823.5,1664.5 L820.6,1663.6 L817.6,1662.6 L814.7,1661.5 L811.7,1660.3 L808.8,1658.9 L805.8,1657.4 L802.9,1655.7 L799.9,1653.9 L797.0,1652.0 L794.0,1649.8 L791.1,1647.5 L788.2,1644.9 L785.2,1642.1 L782.3,1639.2 L779.4,1635.9 L776.4,1632.5 L773.5,1628.7 L770.6,1624.8 L767.7,1620.5 L764.7,1616.0 L761.8,1611.1 L758.9,1606.0 L756.0,1600.6 L753.0,1594.8 L750.1,1588.8 L747.2,1582.5 L744.2,1575.8 L741.3,1568.8 L738.4,1561.5 L735.5,1554.0 L732.5,1546.1 L729.6,1537.9 L726.6,1529.5 L723.7,1520.8 L720.7,1511.8 L717.8,1502.6 L714.8,1493.2 L711.9,1483.5 L708.9,1473.7 L705.9,1463.7 L703.0,1453.6 L700.0,1443.4 L697.0,1433.1 L694.0,1422.7 L691.1,1412.3 L688.1,1401.9 L685.1,1391.6 L682.1,1381.3 L679.1,1371.0 L676.2,1360.9 L673.2,1351.0 L670.2,1341.2 L667.2,1331.6 L664.3,1322.3 L661.3,1313.2 L658.3,1304.4 L655.4,1295.9 L652.4,1287.8 L649.4,1280.0 L646.5,1272.6 L643.5,1265.6 L640.6,1259.1 L637.6,1252.9 L634.7,1247.2 L631.7,1241.9 L628.8,1237.1 L625.8,1232.7 L622.9,1228.8 L619.9,1225.4 L617.0,1222.4 L614.0,1219.8 L611.1,1217.7 L608.1,1216.0 L605.1,1214.6 L602.2,1213.7 L599.2,1213.1 L596.3,1212.7 L593.3,1212.7 L589.5,1212.9 L585.7,1213.7 L581.9,1215.1 L578.1,1217.1 L574.3,1219.8 L570.6,1223.2 L566.8,1227.3 L563.0,1232.1 L559.2,1237.6 L555.4,1243.8 L551.6,1250.6 L547.9,1258.0 L544.1,1266.0 L540.3,1274.6 L536.4,1283.8 L532.6,1293.4 L528.8,1303.5 L525.0,1314.0 L521.2,1324.8 L517.3,1336.0 L513.5,1347.5 L509.7,1359.2 L505.8,1371.0 L502.0,1383.0 L498.2,1395.1 L494.3,1407.2 L490.5,1419.3 L486.7,1431.3 L482.9,1443.2 L479.1,1455.0 L475.3,1466.6 L471.6,1477.9 L467.8,1489.1 L464.1,1499.9 L460.3,1510.5 L456.6,1520.7 L452.9,1530.6 L449.2,1540.1 L445.5,1549.2 L441.8,1558.0 L438.1,1566.3 L434.5,1574.3 L430.8,1581.8 L427.2,1589.0 L423.5,1595.7 L419.8,1602.0 L416.2,1608.0 L412.5,1613.6 L408.8,1618.8 L405.2,1623.6 L401.5,1628.1 L397.8,1632.3 L394.1,1636.1 L390.5,1639.6 L386.8,1642.9 L383.1,1645.8 L379.4,1648.6 L375.6,1651.0 L371.9,1653.3 L368.2,1655.3 L364.5,1657.2 L360.7,1658.8 L357.0,1660.3 L353.2,1661.7 L349.5,1662.9 L345.7,1663.9 L342.0,1664.9 L338.2,1665.7 L334.4,1666.5 L330.7,1667.1 L326.9,1667.7 L323.1,1668.2 L319.4,1668.6 L315.6,1669.0 L311.8,1669.4 L308.0,1669.7 L304.2,1669.9 L300.4,1670.1 L296.7,1670.3 L292.9,1670.5 L289.1,1670.6 L285.3,1670.8 L281.5,1670.9 L277.7,1670.9 L273.9,1671.0 L270.1,1671.1 L266.3,1671.1 L262.5,1671.2 L258.8,1671.2 L255.0,1671.3 L251.2,1671.3 L247.4,1671.3 L243.6,1671.3 L239.8,1671.3 L236.0,1671.3 L232.2,1671.4 L228.4,1671.4 L224.6,1671.4 L220.8,1671.4 L217.0,1671.4 L213.2,1671.4 L209.4,1671.4 L205.7,1671.4 L201.9,1671.4 L198.1,1671.4 L194.3,1671.4 L190.5,1671.4 L186.7,1671.4 L182.9,1671.4 L179.1,1671.4 L175.3,1671.4 L171.5,1671.4 L167.7,1671.4 L163.9,1671.4 L160.1,1671.4 L156.3,1671.4 L152.5,1671.4 L148.7,1671.4 L145.0,1671.4 L141.2,1671.4Z" fill="#5AAE61" fill-opacity="0.3" stroke="none"/>
<path d="M126.7,1671.4 L130.5,1671.4 L134.3,1671.4 L138.1,1671.4 L141.8,1671.4 L145.6,1671.4 L149.4,1671.4 L153.2,1671.3 L157.0,1671.3 L160.8,1671.3 L164.6,1671.3 L168.4,1671.3 L172.1,1671.3 L175.9,1671.3 L179.7,1671.2 L183.5,1671.2 L187.3,1671.2 L191.1,1671.1 L194.9,1671.1 L198.7,1671.1 L202.5,1671.0 L206.3,1670.9 L210.1,1670.9 L213.9,1670.8 L217.6,1670.7 L221.4,1670.6 L225.2,1670.5 L229.1,1670.4 L232.9,1670.2 L236.7,1670.1 L240.5,1669.9 L244.3,1669.7 L248.1,1669.4 L251.9,1669.1 L255.8,1668.9 L259.6,1668.5 L263.4,1668.1 L267.3,1667.7 L271.1,1667.3 L275.0,1666.7 L278.8,1666.2 L282.7,1665.5 L286.5,1664.8 L290.4,1664.1 L294.3,1663.2 L298.2,1662.3 L302.1,1661.2 L306.1,1660.1 L310.0,1658.8 L313.9,1657.5 L317.9,1656.0 L321.9,1654.4 L325.9,1652.6 L329.9,1650.7 L333.9,1648.6 L337.9,1646.3 L342.0,1643.9 L346.0,1641.2 L350.1,1638.4 L354.2,1635.3 L358.3,1632.0 L362.5,1628.5 L366.6,1624.7 L370.8,1620.7 L374.9,1616.4 L379.1,1611.8 L383.3,1606.9 L387.5,1601.7 L391.7,1596.2 L395.9,1590.4 L400.1,1584.3 L404.3,1577.9 L408.5,1571.1 L412.7,1564.0 L416.8,1556.5 L421.0,1548.7 L425.1,1540.5 L429.2,1532.1 L433.3,1523.2 L437.3,1514.1 L441.4,1504.6 L445.4,1494.8 L449.3,1484.7 L453.2,1474.3 L457.1,1463.6 L461.0,1452.7 L464.8,1441.5 L468.6,1430.1 L472.3,1418.5 L476.0,1406.7 L479.7,1394.7 L483.4,1382.7 L487.0,1370.5 L490.6,1358.3 L494.2,1346.1 L497.8,1333.9 L501.4,1321.7 L505.1,1309.6 L508.7,1297.6 L512.3,1285.8 L516.0,1274.2 L519.6,1262.8 L523.3,1251.7 L527.0,1240.9 L530.8,1230.5 L534.6,1220.5 L538.4,1210.9 L542.2,1201.8 L546.0,1193.2 L549.9,1185.2 L553.8,1177.7 L557.6,1170.8 L561.5,1164.6 L565.4,1159.1 L569.3,1154.2 L573.2,1150.1 L577.1,1146.6 L581.0,1144.0 L584.8,1142.0 L588.6,1140.9 L592.4,1140.5 L595.4,1140.9 L598.4,1142.0 L601.4,1143.7 L604.4,1146.0 L607.4,1149.0 L610.4,1152.5 L613.5,1156.6 L616.5,1161.2 L619.5,1166.3 L622.5,1172.0 L625.6,1178.1 L628.6,1184.6 L631.6,1191.6 L634.6,1199.0 L637.6,1206.8 L640.6,1214.9 L643.6,1223.3 L646.5,1232.1 L649.5,1241.1 L652.4,1250.3 L655.4,1259.8 L658.3,1269.5 L661.2,1279.4 L664.1,1289.4 L667.0,1299.5 L669.9,1309.8 L672.8,1320.1 L675.7,1330.4 L678.6,1340.8 L681.5,1351.2 L684.4,1361.6 L687.3,1371.9 L690.2,1382.2 L693.1,1392.4 L696.1,1402.5 L699.0,1412.5 L702.0,1422.3 L704.9,1432.1 L707.9,1441.6 L710.9,1451.0 L713.9,1460.3 L716.9,1469.3 L719.9,1478.1 L723.0,1486.8 L726.0,1495.2 L729.1,1503.4 L732.2,1511.3 L735.3,1519.1 L738.4,1526.6 L741.5,1533.8 L744.6,1540.9 L747.8,1547.7 L750.9,1554.2 L754.0,1560.5 L757.2,1566.6 L760.3,1572.4 L763.5,1578.0 L766.7,1583.4 L769.8,1588.5 L773.0,1593.4 L776.1,1598.1 L779.3,1602.6 L782.5,1606.8 L785.6,1610.9 L788.8,1614.7 L791.9,1618.4 L795.0,1621.8 L798.2,1625.1 L801.3,1628.2 L804.4,1631.2 L807.6,1633.9 L810.7,1636.5 L813.8,1639.0 L816.9,1641.3 L820.0,1643.5 L823.1,1645.5 L826.2,1647.5 L829.3,1649.2 L832.3,1650.9 L835.4,1652.5 L838.5,1654.0 L841.5,1655.3 L844.6,1656.6 L847.6,1657.8 L850.7,1658.9 L853.7,1659.9 L856.8,1660.9 L859.8,1661.7 L862.8,1662.5 L865.8,1663.3 L868.9,1664.0 L871.9,1664.6 L874.9,1665.2 L877.9,1665.8 L880.9,1666.3 L883.9,1666.7 L886.9,1667.2 L889.9,1667.6 L892.9,1667.9 L895.9,1668.2 L898.9,1668.5 L901.9,1668.8 L904.9,1669.1 L907.9,1669.3 L910.9,1669.5 L913.9,1669.7 L916.8,1669.8 L919.8,1670.0 L922.8,1670.1 L925.8,1670.3 L928.8,1670.4 L931.8,1670.5 L934.7,1670.6 L937.7,1670.7 L940.7,1670.7 L943.7,1670.8 L946.7,1670.9 L949.6,1670.9 L952.6,1671.0 L948.9,1671.3 L946.0,1671.3 L943.0,1671.3 L940.0,1671.3 L937.1,1671.2 L934.1,1671.2 L931.1,1671.2 L928.2,1671.2 L925.2,1671.1 L922.3,1671.1 L919.3,1671.1 L916.3,1671.0 L913.4,1671.0 L910.4,1670.9 L907.4,1670.8 L904.5,1670.8 L901.5,1670.7 L898.5,1670.6 L895.6,1670.5 L892.6,1670.4 L889.6,1670.3 L886.7,1670.1 L883.7,1670.0 L880.7,1669.8 L877.7,1669.6 L874.8,1669.4 L871.8,1669.1 L868.8,1668.9 L865.8,1668.6 L862.9,1668.2 L859.9,1667.9 L856.9,1667.5 L853.9,1667.1 L850.9,1666.6 L848.0,1666.1 L845.0,1665.5 L842.0,1664.9 L839.0,1664.2 L836.0,1663.5 L833.0,1662.7 L830.0,1661.9 L827.0,1660.9 L824.0,1659.9 L821.0,1658.8 L818.0,1657.7 L815.0,1656.4 L811.9,1655.0 L808.9,1653.5 L805.9,1651.9 L802.9,1650.2 L799.8,1648.4 L796.8,1646.5 L793.8,1644.4 L790.7,1642.1 L787.7,1639.8 L784.6,1637.2 L781.6,1634.6 L778.5,1631.7 L775.5,1628.7 L772.4,1625.5 L769.4,1622.1 L766.3,1618.6 L763.3,1614.8 L760.2,1610.9 L757.1,1606.8 L754.1,1602.4 L751.0,1597.9 L748.0,1593.1 L744.9,1588.2 L741.9,1583.0 L738.9,1577.7 L735.8,1572.1 L732.8,1566.3 L729.8,1560.3 L726.8,1554.1 L723.7,1547.7 L720.7,1541.1 L717.8,1534.4 L714.8,1527.4 L711.8,1520.3 L708.8,1513.0 L705.9,1505.5 L702.9,1497.9 L700.0,1490.2 L697.0,1482.4 L694.1,1474.4 L691.2,1466.4 L688.3,1458.3 L685.3,1450.1 L682.4,1441.9 L679.5,1433.6 L676.6,1425.4 L673.7,1417.2 L670.8,1409.0 L667.9,1400.9 L665.0,1392.8 L662.0,1384.9 L659.1,1377.1 L656.2,1369.4 L653.3,1361.9 L650.3,1354.6 L647.4,1347.5 L644.4,1340.6 L641.4,1334.0 L638.5,1327.7 L635.5,1321.7 L632.5,1316.0 L629.5,1310.6 L626.5,1305.6 L623.6,1300.9 L620.6,1296.7 L617.6,1292.9 L614.6,1289.4 L611.6,1286.4 L608.6,1283.9 L605.6,1281.8 L602.6,1280.1 L599.6,1278.9 L596.7,1278.2 L593.7,1278.0 L589.9,1278.2 L586.1,1279.0 L582.3,1280.3 L578.5,1282.3 L574.7,1284.8 L570.9,1287.9 L567.1,1291.6 L563.3,1295.9 L559.4,1300.8 L555.6,1306.2 L551.8,1312.1 L548.0,1318.6 L544.2,1325.5 L540.4,1332.9 L536.6,1340.7 L532.8,1348.9 L529.1,1357.5 L525.3,1366.4 L521.5,1375.5 L517.7,1384.9 L514.0,1394.5 L510.2,1404.3 L506.5,1414.2 L502.7,1424.2 L498.9,1434.2 L495.2,1444.3 L491.4,1454.3 L487.6,1464.3 L483.9,1474.2 L480.1,1483.9 L476.3,1493.5 L472.5,1503.0 L468.7,1512.2 L464.9,1521.2 L461.1,1530.0 L457.2,1538.5 L453.4,1546.8 L449.6,1554.7 L445.7,1562.4 L441.9,1569.8 L438.0,1576.8 L434.1,1583.5 L430.3,1589.9 L426.4,1596.0 L422.5,1601.8 L418.6,1607.2 L414.8,1612.4 L410.9,1617.2 L407.0,1621.7 L403.1,1626.0 L399.2,1629.9 L395.4,1633.6 L391.5,1637.1 L387.6,1640.2 L383.8,1643.2 L379.9,1645.9 L376.0,1648.4 L372.2,1650.7 L368.3,1652.8 L364.5,1654.7 L360.7,1656.5 L356.8,1658.1 L353.0,1659.5 L349.1,1660.9 L345.3,1662.0 L341.5,1663.1 L337.7,1664.1 L333.8,1664.9 L330.0,1665.7 L326.2,1666.4 L322.4,1667.0 L318.6,1667.6 L314.8,1668.0 L311.0,1668.5 L307.1,1668.9 L303.3,1669.2 L299.5,1669.5 L295.7,1669.8 L291.9,1670.0 L288.1,1670.2 L284.3,1670.3 L280.5,1670.5 L276.7,1670.6 L272.9,1670.7 L269.1,1670.8 L265.3,1670.9 L261.5,1671.0 L257.7,1671.1 L253.9,1671.1 L250.1,1671.2 L246.3,1671.2 L242.5,1671.2 L238.7,1671.3 L234.9,1671.3 L231.1,1671.3 L227.3,1671.3 L223.5,1671.3 L219.7,1671.3 L215.9,1671.4 L212.1,1671.4 L208.3,1671.4 L204.6,1671.4 L200.8,1671.4 L197.0,1671.4 L193.2,1671.4 L189.4,1671.4 L185.6,1671.4 L181.8,1671.4 L178.0,1671.4 L174.2,1671.4 L170.4,1671.4 L166.6,1671.4 L162.8,1671.4 L159.0,1671.4 L155.2,1671.4 L151.4,1671.4 L147.6,1671.4 L143.8,1671.4 L140.0,1671.4 L136.2,1671.4Z" fill="#9970AB" fill-opacity="0.3" stroke="none"/>
<path d="M138.1,1671.4 L215.4,1671.4 L218.9,1671.4 L222.4,1671.4 L225.8,1671.4 L229.3,1671.3 L232.8,1671.2 L236.3,1671.1 L239.8,1670.9 L243.3,1670.7 L246.8,1670.4 L250.3,1670.1 L253.7,1669.7 L257.2,1669.2 L260.7,1668.7 L264.2,1668.1 L267.7,1667.3 L271.2,1666.5 L274.7,1665.6 L278.2,1664.6 L281.6,1663.5 L285.1,1662.2 L288.6,1660.9 L292.1,1659.4 L295.6,1657.8 L299.1,1656.0 L302.6,1654.2 L306.0,1652.2 L309.5,1650.0 L313.0,1647.7 L316.5,1645.2 L320.0,1642.6 L323.5,1639.9 L327.0,1636.9 L330.5,1633.9 L333.9,1630.6 L337.4,1627.2 L340.9,1623.6 L344.4,1619.8 L347.9,1615.9 L351.4,1611.7 L354.9,1607.4 L358.4,1602.9 L361.8,1598.3 L365.3,1593.4 L368.8,1588.4 L372.3,1583.2 L375.8,1577.8 L379.3,1572.2 L382.8,1566.4 L386.3,1560.5 L389.7,1554.4 L393.2,1548.1 L396.7,1541.6 L400.2,1534.9 L403.7,1528.1 L407.2,1521.1 L410.7,1514.0 L414.2,1506.6 L417.6,1499.2 L421.1,1491.6 L424.6,1483.8 L428.1,1475.9 L431.6,1467.9 L435.1,1459.7 L438.6,1451.4 L442.0,1443.0 L445.5,1434.5 L449.0,1425.9 L452.5,1417.2 L456.0,1408.5 L459.5,1399.7 L463.0,1390.8 L466.5,1381.9 L469.9,1372.9 L473.4,1363.9 L476.9,1354.9 L480.4,1345.9 L483.9,1336.9 L487.4,1327.9 L490.9,1319.0 L494.4,1310.1 L497.8,1301.3 L501.3,1292.6 L504.8,1283.9 L508.3,1275.4 L511.8,1267.0 L515.3,1258.7 L518.8,1250.6 L522.3,1242.7 L525.7,1235.0 L529.2,1227.4 L532.7,1220.1 L536.2,1213.0 L539.7,1206.2 L543.2,1199.6 L546.7,1193.3 L550.2,1187.3 L553.6,1181.7 L557.1,1176.4 L560.6,1171.4 L564.1,1166.8 L567.6,1162.5 L571.1,1158.7 L574.6,1155.2 L578.0,1152.2 L581.5,1149.6 L585.0,1147.5 L588.5,1145.8 L592.0,1144.6 L595.5,1143.8 L599.0,1143.6 L601.7,1143.7 L604.4,1144.1 L607.1,1144.7 L609.8,1145.6 L612.5,1146.7 L615.2,1148.1 L617.9,1149.7 L620.6,1151.6 L623.3,1153.7 L626.0,1156.0 L628.7,1158.5 L631.4,1161.3 L634.1,1164.4 L636.8,1167.6 L639.5,1171.1 L642.2,1174.8 L644.9,1178.6 L647.6,1182.7 L650.3,1187.0 L653.1,1191.5 L655.8,1196.2 L658.5,1201.1 L661.2,1206.2 L663.9,1211.4 L666.6,1216.8 L669.3,1222.4 L672.0,1228.1 L674.7,1234.0 L677.4,1240.1 L680.1,1246.2 L682.8,1252.6 L685.5,1259.0 L688.2,1265.6 L690.9,1272.3 L693.6,1279.1 L696.3,1286.0 L699.0,1293.0 L701.7,1300.1 L704.4,1307.3 L707.1,1314.6 L709.8,1321.9 L712.5,1329.3 L715.2,1336.8 L718.0,1344.3 L720.7,1351.9 L723.4,1359.5 L726.1,1367.1 L728.8,1374.8 L731.5,1382.4 L734.2,1390.1 L736.9,1397.8 L739.6,1405.5 L742.3,1413.2 L745.0,1420.9 L747.7,1428.5 L750.4,1436.1 L753.1,1443.7 L755.8,1451.3 L758.5,1458.7 L761.2,1466.2 L763.9,1473.6 L766.6,1480.9 L769.3,1488.1 L772.0,1495.3 L774.7,1502.4 L777.4,1509.4 L780.1,1516.3 L782.9,1523.1 L785.6,1529.8 L788.3,1536.4 L791.0,1542.9 L793.7,1549.2 L796.4,1555.5 L799.1,1561.6 L801.8,1567.6 L804.5,1573.4 L807.2,1579.1 L809.9,1584.6 L812.6,1590.1 L815.3,1595.3 L818.0,1600.4 L820.7,1605.3 L823.4,1610.1 L826.1,1614.7 L828.8,1619.2 L831.5,1623.4 L834.2,1627.5 L836.9,1631.5 L839.6,1635.2 L842.3,1638.8 L845.0,1642.2 L847.8,1645.4 L850.5,1648.4 L853.2,1651.2 L855.9,1653.9 L858.6,1656.4 L861.3,1658.6 L864.0,1660.7 L866.7,1662.6 L869.4,1664.3 L872.1,1665.8 L874.8,1667.2 L877.5,1668.3 L880.2,1669.3 L882.9,1670.1 L885.6,1670.7 L888.3,1671.1 L891.0,1671.3 L893.7,1671.4 L946.3,1671.4" fill="none" stroke="#A6DBA0" stroke-width="3.04" stroke-linejoin="round" stroke-dasharray="3.0,9.1"/>
<path d="M138.1,1671.4 L199.7,1671.4 L203.3,1671.4 L207.0,1671.3 L210.7,1671.2 L214.3,1670.9 L218.0,1670.6 L221.7,1670.2 L225.3,1669.7 L229.0,1669.1 L232.7,1668.4 L236.3,1667.6 L240.0,1666.7 L243.7,1665.6 L247.4,1664.5 L251.0,1663.2 L254.7,1661.8 L258.4,1660.2 L262.0,1658.6 L265.7,1656.8 L269.4,1654.8 L273.0,1652.8 L276.7,1650.6 L280.4,1648.2 L284.0,1645.8 L287.7,1643.1 L291.4,1640.4 L295.0,1637.5 L298.7,1634.5 L302.4,1631.3 L306.1,1628.0 L309.7,1624.6 L313.4,1621.0 L317.1,1617.3 L320.7,1613.4 L324.4,1609.4 L328.1,1605.3 L331.7,1601.0 L335.4,1596.6 L339.1,1592.1 L342.7,1587.4 L346.4,1582.6 L350.1,1577.7 L353.7,1572.7 L357.4,1567.5 L361.1,1562.3 L364.8,1556.9 L368.4,1551.4 L372.1,1545.8 L375.8,1540.0 L379.4,1534.2 L383.1,1528.3 L386.8,1522.3 L390.4,1516.2 L394.1,1510.0 L397.8,1503.8 L401.4,1497.5 L405.1,1491.0 L408.8,1484.6 L412.4,1478.1 L416.1,1471.5 L419.8,1464.8 L423.5,1458.2 L427.1,1451.5 L430.8,1444.7 L434.5,1437.9 L438.1,1431.2 L441.8,1424.4 L445.5,1417.6 L449.1,1410.8 L452.8,1404.0 L456.5,1397.2 L460.1,1390.5 L463.8,1383.7 L467.5,1377.1 L471.1,1370.4 L474.8,1363.8 L478.5,1357.3 L482.2,1350.9 L485.8,1344.5 L489.5,1338.2 L493.2,1332.0 L496.8,1325.9 L500.5,1319.9 L504.2,1314.0 L507.8,1308.2 L511.5,1302.6 L515.2,1297.1 L518.8,1291.7 L522.5,1286.5 L526.2,1281.5 L529.8,1276.6 L533.5,1272.0 L537.2,1267.4 L540.9,1263.1 L544.5,1259.0 L548.2,1255.1 L551.9,1251.4 L555.5,1247.9 L559.2,1244.6 L562.9,1241.6 L566.5,1238.8 L570.2,1236.3 L573.9,1234.0 L577.5,1231.9 L581.2,1230.1 L584.9,1228.6 L588.5,1227.4 L592.2,1226.4 L595.9,1225.7 L599.6,1225.2 L603.2,1225.1 L606.3,1225.2 L609.3,1225.4 L612.4,1225.7 L615.5,1226.2 L618.5,1226.9 L621.6,1227.7 L624.6,1228.6 L627.7,1229.7 L630.7,1230.9 L633.8,1232.3 L636.9,1233.9 L639.9,1235.6 L643.0,1237.5 L646.0,1239.5 L649.1,1241.7 L652.1,1244.0 L655.2,1246.5 L658.3,1249.2 L661.3,1252.1 L664.4,1255.0 L667.4,1258.2 L670.5,1261.5 L673.5,1265.0 L676.6,1268.7 L679.7,1272.5 L682.7,1276.4 L685.8,1280.5 L688.8,1284.8 L691.9,1289.2 L695.0,1293.8 L698.0,1298.6 L701.1,1303.5 L704.1,1308.5 L707.2,1313.7 L710.2,1319.0 L713.3,1324.4 L716.4,1330.0 L719.4,1335.8 L722.5,1341.6 L725.5,1347.6 L728.6,1353.7 L731.6,1359.9 L734.7,1366.2 L737.8,1372.7 L740.8,1379.2 L743.9,1385.8 L746.9,1392.5 L750.0,1399.3 L753.0,1406.2 L756.1,1413.1 L759.2,1420.1 L762.2,1427.2 L765.3,1434.3 L768.3,1441.5 L771.4,1448.6 L774.4,1455.9 L777.5,1463.1 L780.6,1470.3 L783.6,1477.5 L786.7,1484.8 L789.7,1492.0 L792.8,1499.2 L795.8,1506.3 L798.9,1513.4 L802.0,1520.5 L805.0,1527.5 L808.1,1534.4 L811.1,1541.2 L814.2,1547.9 L817.3,1554.6 L820.3,1561.1 L823.4,1567.5 L826.4,1573.8 L829.5,1579.9 L832.5,1585.9 L835.6,1591.7 L838.7,1597.3 L841.7,1602.8 L844.8,1608.1 L847.8,1613.2 L850.9,1618.1 L853.9,1622.8 L857.0,1627.3 L860.1,1631.6 L863.1,1635.7 L866.2,1639.5 L869.2,1643.1 L872.3,1646.5 L875.3,1649.6 L878.4,1652.5 L881.5,1655.2 L884.5,1657.6 L887.6,1659.8 L890.6,1661.8 L893.7,1663.6 L896.7,1665.1 L899.8,1666.5 L902.9,1667.6 L905.9,1668.6 L909.0,1669.4 L912.0,1670.0 L915.1,1670.5 L918.2,1670.8 L921.2,1671.1 L924.3,1671.2 L927.3,1671.3 L930.4,1671.4 L933.4,1671.4 L936.5,1671.4 L946.3,1671.4" fill="none" stroke="#C2A5CF" stroke-width="3.04" stroke-linejoin="round" stroke-dasharray="3.0,9.1"/>
<path d="M138.1,1671.4 L147.9,1671.4 L151.8,1671.4 L155.6,1671.4 L159.4,1671.4 L163.2,1671.4 L167.1,1671.4 L170.9,1671.4 L174.7,1671.4 L178.5,1671.4 L182.4,1671.4 L186.2,1671.4 L190.0,1671.4 L193.8,1671.4 L197.7,1671.4 L201.5,1671.4 L205.3,1671.4 L209.1,1671.3 L213.0,1671.3 L216.8,1671.3 L220.6,1671.3 L224.4,1671.3 L228.3,1671.3 L232.1,1671.2 L235.9,1671.2 L239.7,1671.2 L243.5,1671.1 L247.4,1671.1 L251.2,1671.0 L255.0,1671.0 L258.8,1670.9 L262.6,1670.8 L266.4,1670.7 L270.3,1670.6 L274.1,1670.4 L277.9,1670.3 L281.7,1670.1 L285.5,1669.9 L289.3,1669.6 L293.1,1669.4 L296.9,1669.1 L300.6,1668.7 L304.4,1668.3 L308.2,1667.8 L312.0,1667.3 L315.7,1666.7 L319.5,1666.1 L323.2,1665.3 L327.0,1664.5 L330.7,1663.6 L334.4,1662.6 L338.1,1661.4 L341.8,1660.1 L345.5,1658.7 L349.2,1657.2 L352.8,1655.4 L356.5,1653.5 L360.1,1651.5 L363.7,1649.2 L367.3,1646.7 L370.8,1644.0 L374.4,1641.0 L377.9,1637.8 L381.5,1634.3 L385.0,1630.5 L388.4,1626.4 L391.9,1622.0 L395.4,1617.3 L398.8,1612.2 L402.3,1606.8 L405.7,1601.1 L409.1,1594.9 L412.5,1588.4 L416.0,1581.5 L419.4,1574.2 L422.8,1566.4 L426.3,1558.3 L429.7,1549.8 L433.2,1540.9 L436.7,1531.6 L440.2,1521.8 L443.8,1511.7 L447.3,1501.3 L450.9,1490.4 L454.6,1479.2 L458.3,1467.7 L462.0,1455.9 L465.8,1443.8 L469.6,1431.5 L473.4,1418.9 L477.2,1406.2 L481.1,1393.3 L485.1,1380.3 L489.0,1367.2 L493.0,1354.0 L496.9,1340.9 L500.9,1327.8 L504.9,1314.8 L508.9,1301.9 L512.8,1289.2 L516.8,1276.8 L520.8,1264.6 L524.7,1252.7 L528.6,1241.2 L532.5,1230.1 L536.4,1219.5 L540.2,1209.4 L544.1,1199.7 L547.9,1190.7 L551.7,1182.2 L555.5,1174.4 L559.2,1167.2 L563.0,1160.8 L566.8,1154.9 L570.5,1149.9 L574.3,1145.5 L578.1,1141.8 L581.8,1138.9 L585.6,1136.7 L589.4,1135.1 L593.2,1134.3 L597.1,1134.0 L600.0,1134.1 L602.9,1134.6 L605.9,1135.6 L608.8,1137.0 L611.7,1138.9 L614.6,1141.2 L617.5,1144.2 L620.5,1147.6 L623.4,1151.6 L626.3,1156.1 L629.2,1161.1 L632.1,1166.7 L635.0,1172.8 L638.0,1179.4 L640.9,1186.5 L643.8,1194.1 L646.7,1202.1 L649.7,1210.6 L652.6,1219.5 L655.6,1228.9 L658.5,1238.5 L661.5,1248.6 L664.5,1258.9 L667.5,1269.5 L670.4,1280.4 L673.4,1291.5 L676.4,1302.8 L679.4,1314.3 L682.4,1325.9 L685.4,1337.6 L688.4,1349.3 L691.4,1361.1 L694.4,1372.8 L697.3,1384.6 L700.3,1396.3 L703.3,1407.9 L706.2,1419.3 L709.2,1430.7 L712.1,1441.8 L715.0,1452.8 L717.9,1463.6 L720.8,1474.1 L723.7,1484.4 L726.6,1494.4 L729.4,1504.1 L732.3,1513.6 L735.1,1522.7 L738.0,1531.5 L740.8,1540.1 L743.6,1548.2 L746.4,1556.1 L749.2,1563.6 L752.0,1570.8 L754.8,1577.7 L757.6,1584.2 L760.4,1590.5 L763.2,1596.3 L766.0,1601.9 L768.8,1607.2 L771.6,1612.2 L774.4,1616.8 L777.2,1621.2 L780.0,1625.3 L782.8,1629.2 L785.7,1632.7 L788.5,1636.1 L791.3,1639.2 L794.2,1642.1 L797.0,1644.7 L799.9,1647.2 L802.7,1649.5 L805.6,1651.6 L808.4,1653.5 L811.3,1655.3 L814.2,1656.9 L817.1,1658.4 L819.9,1659.7 L822.8,1660.9 L825.7,1662.1 L828.6,1663.1 L831.5,1664.0 L834.4,1664.8 L837.3,1665.5 L840.2,1666.2 L843.1,1666.8 L846.0,1667.4 L849.0,1667.8 L851.9,1668.3 L854.8,1668.6 L857.7,1669.0 L860.6,1669.3 L863.6,1669.6 L866.5,1669.8 L869.4,1670.0 L872.3,1670.2 L875.3,1670.3 L878.2,1670.5 L881.1,1670.6 L884.1,1670.7 L887.0,1670.8 L889.9,1670.9 L892.9,1671.0 L895.8,1671.0 L898.7,1671.1 L901.7,1671.1 L904.6,1671.2 L907.5,1671.2 L910.5,1671.2 L913.4,1671.3 L916.3,1671.3 L919.3,1671.3 L922.2,1671.3 L925.1,1671.3 L928.1,1671.3 L931.0,1671.4 L933.9,1671.4 L936.9,1671.4 L939.8,1671.4 L942.7,1671.4 L946.3,1671.4" fill="none" stroke="#5AAE61" stroke-width="3.04" stroke-linejoin="round" stroke-dasharray="12.2,12.2"/>
<path d="M138.1,1671.4 L145.1,1671.4 L148.9,1671.4 L152.7,1671.4 L156.5,1671.4 L160.3,1671.4 L164.1,1671.4 L167.9,1671.4 L171.7,1671.4 L175.5,1671.4 L179.3,1671.4 L183.1,1671.4 L186.9,1671.4 L190.6,1671.4 L194.4,1671.3 L198.2,1671.3 L202.0,1671.3 L205.8,1671.3 L209.6,1671.3 L213.4,1671.3 L217.2,1671.2 L221.0,1671.2 L224.8,1671.2 L228.6,1671.2 L232.4,1671.1 L236.2,1671.1 L240.0,1671.0 L243.8,1670.9 L247.6,1670.9 L251.4,1670.8 L255.1,1670.7 L258.9,1670.6 L262.7,1670.5 L266.5,1670.3 L270.3,1670.2 L274.1,1670.0 L277.8,1669.8 L281.6,1669.5 L285.4,1669.3 L289.2,1669.0 L292.9,1668.6 L296.7,1668.2 L300.4,1667.8 L304.2,1667.3 L308.0,1666.8 L311.7,1666.2 L315.4,1665.6 L319.2,1664.8 L322.9,1664.0 L326.6,1663.1 L330.3,1662.1 L334.0,1661.0 L337.7,1659.8 L341.4,1658.5 L345.1,1657.1 L348.8,1655.5 L352.4,1653.8 L356.1,1651.9 L359.7,1649.9 L363.3,1647.6 L366.9,1645.2 L370.5,1642.6 L374.1,1639.8 L377.7,1636.8 L381.3,1633.5 L384.8,1630.0 L388.4,1626.3 L391.9,1622.3 L395.5,1618.0 L399.0,1613.4 L402.5,1608.6 L406.1,1603.4 L409.6,1598.0 L413.1,1592.2 L416.6,1586.2 L420.2,1579.8 L423.7,1573.1 L427.2,1566.1 L430.8,1558.7 L434.4,1551.1 L438.0,1543.1 L441.6,1534.9 L445.2,1526.3 L448.8,1517.4 L452.5,1508.3 L456.2,1498.8 L459.9,1489.2 L463.6,1479.3 L467.4,1469.2 L471.2,1458.8 L475.0,1448.4 L478.8,1437.7 L482.7,1427.0 L486.5,1416.2 L490.4,1405.3 L494.3,1394.3 L498.2,1383.4 L502.1,1372.5 L506.0,1361.7 L509.9,1351.1 L513.8,1340.5 L517.7,1330.2 L521.6,1320.0 L525.5,1310.2 L529.3,1300.6 L533.2,1291.4 L537.0,1282.5 L540.8,1274.1 L544.7,1266.1 L548.5,1258.6 L552.2,1251.5 L556.0,1245.0 L559.8,1239.1 L563.5,1233.7 L567.3,1229.0 L571.1,1224.8 L574.8,1221.3 L578.6,1218.4 L582.4,1216.2 L586.1,1214.6 L589.9,1213.7 L593.7,1213.4 L596.7,1213.8 L599.6,1214.9 L602.6,1216.6 L605.5,1219.0 L608.4,1221.9 L611.4,1225.3 L614.3,1229.2 L617.2,1233.7 L620.1,1238.5 L623.1,1243.9 L626.0,1249.6 L629.0,1255.8 L631.9,1262.3 L634.9,1269.1 L637.9,1276.3 L640.9,1283.8 L643.9,1291.5 L646.9,1299.5 L649.9,1307.7 L652.9,1316.1 L655.9,1324.7 L659.0,1333.4 L662.0,1342.3 L665.1,1351.2 L668.2,1360.2 L671.2,1369.3 L674.3,1378.4 L677.3,1387.6 L680.4,1396.7 L683.4,1405.8 L686.5,1414.8 L689.5,1423.8 L692.5,1432.8 L695.5,1441.6 L698.5,1450.3 L701.5,1458.9 L704.4,1467.4 L707.4,1475.7 L710.3,1483.8 L713.2,1491.8 L716.1,1499.7 L719.0,1507.3 L721.8,1514.8 L724.7,1522.0 L727.5,1529.1 L730.4,1535.9 L733.2,1542.6 L736.0,1549.0 L738.8,1555.2 L741.5,1561.3 L744.3,1567.1 L747.1,1572.7 L749.8,1578.0 L752.6,1583.2 L755.3,1588.2 L758.1,1592.9 L760.8,1597.5 L763.6,1601.8 L766.3,1606.0 L769.1,1609.9 L771.8,1613.7 L774.6,1617.3 L777.3,1620.7 L780.1,1624.0 L782.9,1627.1 L785.6,1630.0 L788.4,1632.8 L791.2,1635.4 L794.0,1637.8 L796.8,1640.1 L799.6,1642.3 L802.4,1644.4 L805.2,1646.3 L808.0,1648.2 L810.9,1649.9 L813.7,1651.5 L816.6,1653.0 L819.4,1654.4 L822.3,1655.7 L825.1,1656.9 L828.0,1658.0 L830.9,1659.1 L833.8,1660.1 L836.6,1661.0 L839.5,1661.8 L842.4,1662.6 L845.3,1663.4 L848.2,1664.0 L851.1,1664.7 L854.0,1665.2 L857.0,1665.8 L859.9,1666.3 L862.8,1666.7 L865.7,1667.1 L868.7,1667.5 L871.6,1667.9 L874.5,1668.2 L877.5,1668.5 L880.4,1668.8 L883.3,1669.0 L886.3,1669.2 L889.2,1669.4 L892.2,1669.6 L895.1,1669.8 L898.1,1670.0 L901.0,1670.1 L904.0,1670.2 L906.9,1670.3 L909.9,1670.5 L912.8,1670.5 L915.8,1670.6 L918.7,1670.7 L921.7,1670.8 L924.7,1670.8 L927.6,1670.9 L930.6,1671.0 L933.5,1671.0 L936.5,1671.0 L939.5,1671.1 L946.3,1671.4" fill="none" stroke="#9970AB" stroke-width="3.04" stroke-linejoin="round" stroke-dasharray="12.2,12.2"/>
<line x1="97.65" y1="1011.0" x2="97.65" y2="1704.1" stroke="#000" stroke-width="2.8"/>
<line x1="96.25" y1="1702.6999999999998" x2="986.85" y2="1702.6999999999998" stroke="#000" stroke-width="2.8"/>
<line x1="244.4" y1="1702.6999999999998" x2="244.4" y2="1709.1499999999999" stroke="#333" stroke-width="2.5"/>
<text x="244.4" y="1730.0" font-size="20.5" fill="#4D4D4D" text-anchor="middle">10</text>
<line x1="457.1" y1="1702.6999999999998" x2="457.1" y2="1709.1499999999999" stroke="#333" stroke-width="2.5"/>
<text x="457.1" y="1730.0" font-size="20.5" fill="#4D4D4D" text-anchor="middle">20</text>
<line x1="669.8" y1="1702.6999999999998" x2="669.8" y2="1709.1499999999999" stroke="#333" stroke-width="2.5"/>
<text x="669.8" y="1730.0" font-size="20.5" fill="#4D4D4D" text-anchor="middle">30</text>
<line x1="882.5" y1="1702.6999999999998" x2="882.5" y2="1709.1499999999999" stroke="#333" stroke-width="2.5"/>
<text x="882.5" y="1730.0" font-size="20.5" fill="#4D4D4D" text-anchor="middle">40</text>
<text transform="translate(19.9,1356.9) rotate(-90)" font-size="25.9" fill="#000" text-anchor="middle">Suitability for transmission – S(T)</text>
<text x="138.2" y="1060.3" font-size="32.5" fill="#000" text-anchor="middle">C</text>
<rect x="120.0" y="1110.4" width="37.7" height="37.5" fill="#A6DBA0" fill-opacity="0.3"/>
<line x1="122.5" y1="1129.3" x2="155.5" y2="1129.3" stroke="#A6DBA0" stroke-width="3.04" stroke-dasharray="3.0,9.1"/>
<text x="171.7" y="1137.0" font-size="21.42" fill="#000">5: RS on S(T) – DTR 9</text>
<rect x="120.0" y="1151.4" width="37.7" height="37.5" fill="#C2A5CF" fill-opacity="0.3"/>
<line x1="122.5" y1="1170.3" x2="155.5" y2="1170.3" stroke="#C2A5CF" stroke-width="3.04" stroke-dasharray="3.0,9.1"/>
<text x="171.7" y="1178.0" font-size="21.42" fill="#000">5: RS on S(T) – DTR 12</text>
<rect x="120.0" y="1192.4" width="37.7" height="37.5" fill="#5AAE61" fill-opacity="0.3"/>
<line x1="122.5" y1="1211.3" x2="155.5" y2="1211.3" stroke="#5AAE61" stroke-width="3.04" stroke-dasharray="12.2,12.2"/>
<text x="171.7" y="1219.0" font-size="21.42" fill="#000">4: RS on all traits – DTR 9</text>
<rect x="120.0" y="1233.4" width="37.7" height="37.5" fill="#9970AB" fill-opacity="0.3"/>
<line x1="122.5" y1="1252.3" x2="155.5" y2="1252.3" stroke="#9970AB" stroke-width="3.04" stroke-dasharray="12.2,12.2"/>
<text x="171.7" y="1260.0" font-size="21.42" fill="#000">4: RS on all traits – DTR 12</text>
</g>
<g id="panelD">
<path d="M1346.8,1671.4 L1346.8,1668.0 L1346.9,1668.0 L1349.5,1666.9 L1352.1,1665.8 L1354.8,1664.4 L1357.4,1662.9 L1360.0,1661.3 L1362.6,1659.5 L1365.2,1657.5 L1367.9,1655.4 L1370.5,1653.1 L1373.1,1650.6 L1375.7,1647.9 L1378.3,1645.1 L1380.9,1642.1 L1383.6,1638.9 L1386.2,1635.5 L1388.8,1632.0 L1391.4,1628.3 L1394.0,1624.3 L1396.7,1620.3 L1399.3,1616.0 L1401.9,1611.5 L1404.5,1606.9 L1407.1,1602.1 L1409.7,1597.1 L1412.4,1591.9 L1415.0,1586.5 L1417.6,1581.0 L1420.2,1575.2 L1422.8,1569.3 L1425.4,1563.3 L1428.1,1557.0 L1430.7,1550.6 L1433.3,1544.0 L1435.9,1537.2 L1438.5,1530.3 L1441.1,1523.2 L1443.7,1515.9 L1446.4,1508.5 L1449.0,1500.9 L1451.6,1493.2 L1454.2,1485.3 L1456.8,1477.3 L1459.4,1469.2 L1462.0,1460.9 L1464.6,1452.5 L1467.2,1444.0 L1469.9,1435.3 L1472.5,1426.6 L1475.1,1417.7 L1477.7,1408.7 L1480.3,1399.7 L1482.9,1390.5 L1485.5,1381.3 L1488.1,1372.0 L1490.7,1362.6 L1493.3,1353.2 L1495.9,1343.8 L1498.6,1334.2 L1501.2,1324.7 L1503.8,1315.2 L1506.4,1305.6 L1509.0,1296.0 L1511.6,1286.4 L1514.2,1276.9 L1516.8,1267.4 L1519.4,1257.9 L1522.1,1248.5 L1524.7,1239.1 L1527.3,1229.8 L1529.9,1220.5 L1532.5,1211.4 L1535.1,1202.4 L1537.7,1193.5 L1540.4,1184.7 L1543.0,1176.0 L1545.6,1167.5 L1548.2,1159.2 L1550.8,1151.1 L1553.4,1143.1 L1556.1,1135.4 L1558.7,1127.8 L1561.3,1120.5 L1563.9,1113.4 L1566.6,1106.6 L1569.2,1100.1 L1571.8,1093.8 L1574.4,1087.8 L1577.0,1082.1 L1579.7,1076.8 L1582.3,1071.7 L1584.9,1067.0 L1587.5,1062.7 L1590.2,1058.7 L1592.8,1055.1 L1595.4,1051.9 L1598.0,1049.1 L1600.6,1046.6 L1603.3,1044.7 L1605.9,1043.1 L1608.5,1042.0 L1611.1,1041.3 L1613.7,1041.0 L1615.6,1041.2 L1617.5,1041.5 L1619.4,1042.1 L1621.3,1043.0 L1623.1,1044.1 L1625.0,1045.4 L1626.9,1046.9 L1628.8,1048.7 L1630.7,1050.7 L1632.6,1052.9 L1634.5,1055.4 L1636.3,1058.1 L1638.2,1060.9 L1640.1,1064.0 L1642.0,1067.3 L1643.9,1070.9 L1645.8,1074.6 L1647.7,1078.5 L1649.5,1082.6 L1651.4,1086.9 L1653.3,1091.4 L1655.2,1096.1 L1657.1,1101.0 L1659.0,1106.0 L1660.9,1111.3 L1662.7,1116.6 L1664.6,1122.2 L1666.5,1127.9 L1668.4,1133.8 L1670.3,1139.8 L1672.2,1146.0 L1674.1,1152.3 L1676.0,1158.7 L1677.8,1165.3 L1679.7,1172.0 L1681.6,1178.8 L1683.5,1185.8 L1685.4,1192.9 L1687.3,1200.0 L1689.1,1207.3 L1691.0,1214.7 L1692.9,1222.2 L1694.8,1229.7 L1696.7,1237.4 L1698.5,1245.1 L1700.4,1252.9 L1702.3,1260.8 L1704.2,1268.8 L1706.1,1276.8 L1707.9,1284.8 L1709.8,1292.9 L1711.7,1301.1 L1713.6,1309.3 L1715.4,1317.5 L1717.3,1325.8 L1719.2,1334.0 L1721.1,1342.4 L1722.9,1350.7 L1724.8,1359.0 L1726.7,1367.3 L1728.5,1375.7 L1730.4,1384.0 L1732.3,1392.3 L1734.1,1400.6 L1736.0,1408.9 L1737.9,1417.1 L1739.7,1425.3 L1741.6,1433.5 L1743.5,1441.7 L1745.3,1449.8 L1747.2,1457.8 L1749.0,1465.8 L1750.9,1473.8 L1752.8,1481.6 L1754.6,1489.4 L1756.5,1497.2 L1758.3,1504.8 L1760.2,1512.4 L1762.1,1519.9 L1763.9,1527.2 L1765.8,1534.5 L1767.6,1541.7 L1769.5,1548.8 L1771.4,1555.7 L1773.2,1562.6 L1775.1,1569.3 L1776.9,1575.8 L1778.8,1582.3 L1780.6,1588.6 L1782.5,1594.7 L1784.3,1600.7 L1786.2,1606.6 L1788.1,1612.3 L1789.9,1617.8 L1791.8,1623.1 L1793.6,1628.2 L1795.5,1633.2 L1797.4,1637.9 L1799.2,1642.4 L1801.1,1646.7 L1802.9,1650.8 L1804.8,1654.6 L1806.7,1658.1 L1808.5,1661.3 L1808.6,1661.5 L1808.6,1671.4 L1808.6,1671.4 L1808.6,1671.2 L1807.2,1670.7 L1805.4,1669.4 L1803.6,1667.7 L1801.8,1665.6 L1800.0,1663.3 L1798.1,1660.6 L1796.3,1657.8 L1794.5,1654.7 L1792.7,1651.4 L1790.9,1647.9 L1789.1,1644.3 L1787.3,1640.5 L1785.5,1636.5 L1783.7,1632.3 L1781.9,1628.0 L1780.1,1623.6 L1778.3,1619.1 L1776.4,1614.4 L1774.6,1609.6 L1772.8,1604.7 L1771.0,1599.7 L1769.2,1594.6 L1767.4,1589.3 L1765.6,1584.1 L1763.8,1578.7 L1762.0,1573.2 L1760.2,1567.7 L1758.4,1562.1 L1756.6,1556.4 L1754.8,1550.7 L1753.0,1544.9 L1751.2,1539.0 L1749.4,1533.2 L1747.6,1527.2 L1745.8,1521.3 L1744.0,1515.3 L1742.2,1509.3 L1740.4,1503.2 L1738.6,1497.1 L1736.8,1491.0 L1735.0,1484.9 L1733.2,1478.8 L1731.3,1472.7 L1729.5,1466.6 L1727.7,1460.5 L1725.9,1454.4 L1724.1,1448.3 L1722.3,1442.2 L1720.5,1436.1 L1718.7,1430.1 L1716.9,1424.1 L1715.1,1418.1 L1713.3,1412.2 L1711.5,1406.3 L1709.7,1400.4 L1707.9,1394.5 L1706.1,1388.8 L1704.2,1383.0 L1702.4,1377.4 L1700.6,1371.7 L1698.8,1366.2 L1697.0,1360.7 L1695.2,1355.2 L1693.4,1349.9 L1691.6,1344.6 L1689.7,1339.4 L1687.9,1334.2 L1686.1,1329.2 L1684.3,1324.2 L1682.5,1319.3 L1680.7,1314.5 L1678.8,1309.8 L1677.0,1305.2 L1675.2,1300.7 L1673.4,1296.3 L1671.6,1291.9 L1669.8,1287.7 L1667.9,1283.6 L1666.1,1279.6 L1664.3,1275.7 L1662.5,1272.0 L1660.7,1268.3 L1658.8,1264.8 L1657.0,1261.3 L1655.2,1258.0 L1653.4,1254.9 L1651.6,1251.8 L1649.7,1248.9 L1647.9,1246.1 L1646.1,1243.4 L1644.3,1240.8 L1642.5,1238.4 L1640.6,1236.1 L1638.8,1234.0 L1637.0,1232.0 L1635.2,1230.1 L1633.4,1228.3 L1631.5,1226.7 L1629.7,1225.2 L1627.9,1223.9 L1626.1,1222.7 L1624.3,1221.7 L1622.5,1220.7 L1620.6,1220.0 L1618.8,1219.3 L1617.0,1218.8 L1615.2,1218.5 L1613.4,1218.3 L1611.6,1218.2 L1609.1,1218.4 L1606.7,1219.0 L1604.2,1220.1 L1601.8,1221.5 L1599.3,1223.3 L1596.8,1225.5 L1594.4,1228.0 L1591.9,1230.9 L1589.4,1234.1 L1587.0,1237.5 L1584.5,1241.3 L1582.0,1245.3 L1579.5,1249.6 L1577.1,1254.1 L1574.6,1258.9 L1572.1,1263.9 L1569.6,1269.1 L1567.1,1274.4 L1564.7,1280.0 L1562.2,1285.7 L1559.7,1291.6 L1557.2,1297.6 L1554.8,1303.7 L1552.3,1310.0 L1549.8,1316.3 L1547.4,1322.8 L1544.9,1329.3 L1542.4,1335.9 L1540.0,1342.6 L1537.5,1349.3 L1535.1,1356.1 L1532.7,1362.9 L1530.2,1369.7 L1527.8,1376.6 L1525.3,1383.5 L1522.9,1390.3 L1520.5,1397.2 L1518.1,1404.1 L1515.7,1410.9 L1513.2,1417.7 L1510.8,1424.5 L1508.4,1431.3 L1506.0,1438.0 L1503.6,1444.6 L1501.2,1451.3 L1498.8,1457.8 L1496.4,1464.3 L1494.1,1470.7 L1491.7,1477.1 L1489.3,1483.4 L1486.9,1489.6 L1484.5,1495.8 L1482.1,1501.8 L1479.8,1507.8 L1477.4,1513.7 L1475.0,1519.4 L1472.7,1525.1 L1470.3,1530.7 L1467.9,1536.2 L1465.6,1541.6 L1463.2,1546.9 L1460.8,1552.1 L1458.5,1557.2 L1456.1,1562.2 L1453.7,1567.1 L1451.4,1571.9 L1449.0,1576.5 L1446.6,1581.1 L1444.3,1585.5 L1441.9,1589.8 L1439.5,1594.1 L1437.2,1598.2 L1434.8,1602.1 L1432.4,1606.0 L1430.0,1609.8 L1427.7,1613.4 L1425.3,1617.0 L1422.9,1620.4 L1420.6,1623.7 L1418.2,1626.9 L1415.8,1629.9 L1413.4,1632.9 L1411.0,1635.7 L1408.7,1638.5 L1406.3,1641.1 L1403.9,1643.6 L1401.5,1646.0 L1399.1,1648.3 L1396.7,1650.4 L1394.3,1652.5 L1391.9,1654.4 L1389.5,1656.3 L1387.1,1658.0 L1384.7,1659.6 L1382.3,1661.1 L1379.9,1662.5 L1377.5,1663.8 L1377.3,1663.9 L1377.3,1671.4Z" fill="#BEBEBE" fill-opacity="0.3" stroke="none"/>
<path d="M1142.5,1671.4 L1146.3,1671.4 L1150.2,1671.4 L1154.0,1671.4 L1157.8,1671.4 L1161.6,1671.4 L1165.5,1671.4 L1169.3,1671.4 L1173.1,1671.4 L1177.0,1671.4 L1180.8,1671.4 L1184.6,1671.4 L1188.5,1671.4 L1192.3,1671.4 L1196.1,1671.4 L1199.9,1671.4 L1203.8,1671.3 L1207.6,1671.3 L1211.4,1671.3 L1215.3,1671.3 L1219.1,1671.3 L1222.9,1671.3 L1226.8,1671.2 L1230.6,1671.2 L1234.4,1671.2 L1238.3,1671.1 L1242.1,1671.1 L1245.9,1671.0 L1249.8,1670.9 L1253.6,1670.8 L1257.4,1670.7 L1261.3,1670.6 L1265.1,1670.5 L1269.0,1670.4 L1272.8,1670.2 L1276.6,1670.0 L1280.5,1669.8 L1284.3,1669.5 L1288.2,1669.2 L1292.0,1668.9 L1295.9,1668.5 L1299.8,1668.1 L1303.6,1667.6 L1307.5,1667.1 L1311.4,1666.5 L1315.3,1665.8 L1319.2,1665.0 L1323.1,1664.2 L1327.0,1663.2 L1330.9,1662.1 L1334.8,1661.0 L1338.7,1659.7 L1342.7,1658.2 L1346.6,1656.6 L1350.6,1654.9 L1354.5,1652.9 L1358.5,1650.8 L1362.5,1648.5 L1366.5,1646.0 L1370.5,1643.2 L1374.5,1640.2 L1378.6,1637.0 L1382.6,1633.5 L1386.7,1629.7 L1390.7,1625.7 L1394.8,1621.3 L1398.9,1616.6 L1403.0,1611.6 L1407.1,1606.2 L1411.2,1600.5 L1415.3,1594.5 L1419.4,1588.1 L1423.5,1581.3 L1427.6,1574.1 L1431.7,1566.6 L1435.8,1558.6 L1439.8,1550.3 L1443.9,1541.7 L1447.9,1532.6 L1451.9,1523.2 L1455.9,1513.5 L1459.9,1503.4 L1463.8,1493.0 L1467.7,1482.3 L1471.6,1471.2 L1475.5,1459.9 L1479.4,1448.4 L1483.2,1436.7 L1487.0,1424.7 L1490.7,1412.6 L1494.5,1400.4 L1498.2,1388.1 L1502.0,1375.8 L1505.7,1363.4 L1509.4,1351.1 L1513.1,1338.8 L1516.8,1326.6 L1520.5,1314.6 L1524.3,1302.8 L1528.0,1291.2 L1531.8,1279.9 L1535.5,1268.9 L1539.3,1258.2 L1543.1,1248.0 L1546.9,1238.2 L1550.8,1228.9 L1554.6,1220.1 L1558.5,1211.8 L1562.3,1204.0 L1566.2,1196.9 L1570.1,1190.4 L1574.0,1184.5 L1577.9,1179.2 L1581.8,1174.6 L1585.6,1170.7 L1589.5,1167.4 L1593.4,1164.7 L1597.3,1162.8 L1601.1,1161.4 L1605.0,1160.6 L1608.8,1160.4 L1611.7,1160.6 L1614.7,1161.2 L1617.6,1162.2 L1620.6,1163.7 L1623.6,1165.8 L1626.6,1168.3 L1629.5,1171.3 L1632.5,1174.9 L1635.5,1178.9 L1638.5,1183.5 L1641.6,1188.5 L1644.6,1194.1 L1647.5,1200.1 L1650.5,1206.6 L1653.5,1213.5 L1656.5,1220.9 L1659.4,1228.7 L1662.4,1236.8 L1665.3,1245.4 L1668.2,1254.2 L1671.1,1263.4 L1673.9,1272.9 L1676.8,1282.7 L1679.6,1292.7 L1682.4,1302.8 L1685.2,1313.2 L1688.0,1323.7 L1690.8,1334.4 L1693.6,1345.1 L1696.4,1355.9 L1699.2,1366.8 L1702.0,1377.6 L1704.8,1388.5 L1707.7,1399.3 L1710.5,1410.0 L1713.4,1420.7 L1716.2,1431.2 L1719.1,1441.6 L1722.1,1451.8 L1725.0,1461.9 L1728.0,1471.8 L1731.0,1481.4 L1734.1,1490.9 L1737.1,1500.1 L1740.2,1509.1 L1743.3,1517.8 L1746.5,1526.2 L1749.6,1534.4 L1752.8,1542.2 L1756.0,1549.8 L1759.2,1557.2 L1762.4,1564.2 L1765.7,1570.9 L1768.9,1577.3 L1772.1,1583.5 L1775.4,1589.4 L1778.7,1594.9 L1781.9,1600.2 L1785.2,1605.3 L1788.4,1610.0 L1791.7,1614.5 L1794.9,1618.8 L1798.2,1622.8 L1801.4,1626.5 L1804.6,1630.1 L1807.8,1633.4 L1811.0,1636.5 L1814.2,1639.4 L1817.3,1642.0 L1820.5,1644.5 L1823.6,1646.9 L1826.8,1649.0 L1829.9,1651.0 L1833.0,1652.9 L1836.1,1654.6 L1839.2,1656.1 L1842.3,1657.6 L1845.3,1658.9 L1848.4,1660.1 L1851.4,1661.2 L1854.5,1662.3 L1857.5,1663.2 L1860.5,1664.0 L1863.5,1664.8 L1866.5,1665.5 L1869.5,1666.1 L1872.5,1666.7 L1875.5,1667.2 L1878.5,1667.7 L1881.5,1668.1 L1884.4,1668.5 L1887.4,1668.8 L1890.4,1669.1 L1893.3,1669.4 L1896.3,1669.6 L1899.2,1669.8 L1902.2,1670.0 L1905.1,1670.2 L1908.1,1670.3 L1911.0,1670.5 L1914.0,1670.6 L1916.9,1670.7 L1919.9,1670.8 L1922.8,1670.9 L1925.7,1670.9 L1928.7,1671.0 L1931.6,1671.1 L1934.5,1671.1 L1937.5,1671.1 L1940.4,1671.2 L1943.3,1671.2 L1946.3,1671.2 L1949.2,1671.3 L1952.1,1671.3 L1955.1,1671.3 L1958.0,1671.3 L1960.9,1671.3 L1963.9,1671.3 L1966.8,1671.3 L1956.3,1671.4 L1953.3,1671.4 L1950.3,1671.4 L1947.4,1671.4 L1944.4,1671.4 L1941.4,1671.4 L1938.5,1671.4 L1935.5,1671.4 L1932.5,1671.4 L1929.6,1671.4 L1926.6,1671.4 L1923.6,1671.4 L1920.7,1671.3 L1917.7,1671.3 L1914.7,1671.3 L1911.8,1671.3 L1908.8,1671.3 L1905.8,1671.3 L1902.9,1671.2 L1899.9,1671.2 L1896.9,1671.1 L1894.0,1671.1 L1891.0,1671.0 L1888.0,1671.0 L1885.1,1670.9 L1882.1,1670.8 L1879.1,1670.7 L1876.2,1670.6 L1873.2,1670.5 L1870.2,1670.3 L1867.3,1670.2 L1864.3,1670.0 L1861.4,1669.7 L1858.4,1669.5 L1855.4,1669.2 L1852.5,1668.9 L1849.5,1668.5 L1846.5,1668.1 L1843.6,1667.6 L1840.6,1667.1 L1837.7,1666.5 L1834.7,1665.8 L1831.8,1665.1 L1828.8,1664.3 L1825.9,1663.4 L1822.9,1662.4 L1820.0,1661.3 L1817.0,1660.0 L1814.1,1658.7 L1811.1,1657.2 L1808.2,1655.6 L1805.2,1653.9 L1802.3,1652.0 L1799.4,1649.9 L1796.4,1647.7 L1793.5,1645.2 L1790.6,1642.6 L1787.6,1639.8 L1784.7,1636.8 L1781.8,1633.6 L1778.9,1630.1 L1775.9,1626.4 L1773.0,1622.5 L1770.1,1618.4 L1767.2,1614.0 L1764.2,1609.3 L1761.3,1604.4 L1758.4,1599.3 L1755.4,1593.9 L1752.5,1588.2 L1749.6,1582.3 L1746.7,1576.1 L1743.7,1569.8 L1740.8,1563.1 L1737.8,1556.3 L1734.9,1549.2 L1731.9,1541.9 L1729.0,1534.5 L1726.0,1526.8 L1723.1,1519.0 L1720.1,1511.1 L1717.1,1503.0 L1714.2,1494.8 L1711.2,1486.5 L1708.2,1478.1 L1705.2,1469.7 L1702.3,1461.3 L1699.3,1452.9 L1696.3,1444.5 L1693.3,1436.1 L1690.3,1427.8 L1687.4,1419.6 L1684.4,1411.5 L1681.4,1403.6 L1678.4,1395.8 L1675.5,1388.2 L1672.5,1380.9 L1669.5,1373.8 L1666.6,1366.9 L1663.6,1360.3 L1660.6,1354.0 L1657.7,1348.0 L1654.7,1342.3 L1651.8,1337.0 L1648.8,1332.0 L1645.9,1327.4 L1642.9,1323.1 L1640.0,1319.2 L1637.0,1315.6 L1634.1,1312.5 L1631.1,1309.7 L1628.2,1307.2 L1625.2,1305.1 L1622.3,1303.4 L1619.3,1302.0 L1616.3,1300.9 L1613.4,1300.2 L1610.4,1299.7 L1607.5,1299.4 L1604.5,1299.4 L1600.7,1299.5 L1596.9,1300.2 L1593.1,1301.3 L1589.3,1303.0 L1585.5,1305.2 L1581.8,1307.9 L1578.0,1311.3 L1574.2,1315.1 L1570.4,1319.6 L1566.6,1324.6 L1562.8,1330.1 L1559.1,1336.1 L1555.3,1342.6 L1551.5,1349.6 L1547.6,1357.0 L1543.8,1364.8 L1540.0,1373.0 L1536.2,1381.5 L1532.4,1390.3 L1528.5,1399.4 L1524.7,1408.7 L1520.9,1418.2 L1517.0,1427.8 L1513.2,1437.5 L1509.4,1447.3 L1505.5,1457.1 L1501.7,1466.9 L1497.9,1476.6 L1494.1,1486.3 L1490.3,1495.9 L1486.5,1505.3 L1482.8,1514.5 L1479.0,1523.5 L1475.3,1532.3 L1471.5,1540.9 L1467.8,1549.2 L1464.1,1557.2 L1460.4,1564.9 L1456.7,1572.3 L1453.0,1579.4 L1449.3,1586.2 L1445.7,1592.6 L1442.0,1598.7 L1438.4,1604.5 L1434.7,1610.0 L1431.0,1615.1 L1427.4,1620.0 L1423.7,1624.5 L1420.0,1628.7 L1416.4,1632.6 L1412.7,1636.3 L1409.0,1639.6 L1405.3,1642.8 L1401.7,1645.6 L1398.0,1648.3 L1394.3,1650.7 L1390.6,1652.9 L1386.8,1654.9 L1383.1,1656.7 L1379.4,1658.4 L1375.7,1659.9 L1371.9,1661.2 L1368.2,1662.4 L1364.4,1663.5 L1360.7,1664.5 L1356.9,1665.3 L1353.2,1666.1 L1349.4,1666.8 L1345.6,1667.4 L1341.9,1667.9 L1338.1,1668.4 L1334.3,1668.8 L1330.6,1669.2 L1326.8,1669.5 L1323.0,1669.8 L1319.2,1670.0 L1315.4,1670.2 L1311.6,1670.4 L1307.9,1670.5 L1304.1,1670.7 L1300.3,1670.8 L1296.5,1670.9 L1292.7,1671.0 L1288.9,1671.0 L1285.1,1671.1 L1281.3,1671.1 L1277.5,1671.2 L1273.7,1671.2 L1270.0,1671.3 L1266.2,1671.3 L1262.4,1671.3 L1258.6,1671.3 L1254.8,1671.3 L1251.0,1671.3 L1247.2,1671.4 L1243.4,1671.4 L1239.6,1671.4 L1235.8,1671.4 L1232.0,1671.4 L1228.2,1671.4 L1224.4,1671.4 L1220.6,1671.4 L1216.9,1671.4 L1213.1,1671.4 L1209.3,1671.4 L1205.5,1671.4 L1201.7,1671.4 L1197.9,1671.4 L1194.1,1671.4 L1190.3,1671.4 L1186.5,1671.4 L1182.7,1671.4 L1178.9,1671.4 L1175.1,1671.4 L1171.3,1671.4 L1167.5,1671.4 L1163.7,1671.4 L1159.9,1671.4 L1156.2,1671.4 L1152.4,1671.4Z" fill="#5AAE61" fill-opacity="0.3" stroke="none"/>
<path d="M1137.9,1671.4 L1141.7,1671.4 L1145.5,1671.4 L1149.3,1671.4 L1153.0,1671.4 L1156.8,1671.4 L1160.6,1671.4 L1164.4,1671.4 L1168.2,1671.3 L1172.0,1671.3 L1175.8,1671.3 L1179.6,1671.3 L1183.3,1671.3 L1187.1,1671.3 L1190.9,1671.3 L1194.7,1671.2 L1198.5,1671.2 L1202.3,1671.2 L1206.1,1671.2 L1209.9,1671.1 L1213.7,1671.1 L1217.5,1671.0 L1221.3,1671.0 L1225.1,1670.9 L1228.8,1670.8 L1232.6,1670.8 L1236.4,1670.7 L1240.3,1670.6 L1244.1,1670.4 L1247.9,1670.3 L1251.7,1670.2 L1255.5,1670.0 L1259.3,1669.8 L1263.1,1669.6 L1267.0,1669.3 L1270.8,1669.1 L1274.6,1668.8 L1278.5,1668.4 L1282.3,1668.0 L1286.2,1667.6 L1290.0,1667.2 L1293.9,1666.6 L1297.7,1666.1 L1301.6,1665.4 L1305.5,1664.8 L1309.4,1664.0 L1313.3,1663.1 L1317.3,1662.2 L1321.2,1661.2 L1325.1,1660.1 L1329.1,1658.9 L1333.1,1657.6 L1337.1,1656.1 L1341.1,1654.6 L1345.1,1652.9 L1349.1,1651.1 L1353.2,1649.1 L1357.2,1646.9 L1361.3,1644.6 L1365.4,1642.1 L1369.5,1639.5 L1373.7,1636.6 L1377.8,1633.5 L1382.0,1630.3 L1386.1,1626.8 L1390.3,1623.1 L1394.5,1619.1 L1398.7,1614.9 L1402.9,1610.4 L1407.1,1605.7 L1411.3,1600.8 L1415.5,1595.5 L1419.7,1590.0 L1423.9,1584.3 L1428.0,1578.2 L1432.2,1571.9 L1436.3,1565.3 L1440.4,1558.4 L1444.5,1551.2 L1448.5,1543.8 L1452.6,1536.1 L1456.6,1528.2 L1460.5,1520.0 L1464.4,1511.5 L1468.3,1502.9 L1472.2,1494.0 L1476.0,1484.9 L1479.8,1475.7 L1483.5,1466.3 L1487.2,1456.7 L1490.9,1447.0 L1494.6,1437.2 L1498.2,1427.4 L1501.8,1417.5 L1505.4,1407.6 L1509.0,1397.6 L1512.6,1387.8 L1516.3,1378.0 L1519.9,1368.2 L1523.5,1358.7 L1527.2,1349.2 L1530.8,1340.0 L1534.5,1331.0 L1538.2,1322.3 L1542.0,1313.8 L1545.8,1305.7 L1549.6,1297.9 L1553.4,1290.5 L1557.2,1283.6 L1561.1,1277.1 L1565.0,1271.0 L1568.8,1265.4 L1572.7,1260.4 L1576.6,1255.9 L1580.5,1252.0 L1584.4,1248.6 L1588.3,1245.8 L1592.2,1243.6 L1596.0,1242.1 L1599.8,1241.1 L1603.6,1240.8 L1606.6,1241.1 L1609.6,1242.0 L1612.6,1243.4 L1615.6,1245.3 L1618.6,1247.7 L1621.6,1250.6 L1624.7,1253.9 L1627.7,1257.6 L1630.7,1261.8 L1633.7,1266.3 L1636.8,1271.3 L1639.8,1276.6 L1642.8,1282.3 L1645.8,1288.3 L1648.8,1294.6 L1651.8,1301.1 L1654.8,1308.0 L1657.7,1315.1 L1660.7,1322.4 L1663.6,1329.9 L1666.6,1337.6 L1669.5,1345.5 L1672.4,1353.5 L1675.3,1361.6 L1678.2,1369.8 L1681.1,1378.1 L1684.0,1386.5 L1686.9,1394.9 L1689.8,1403.3 L1692.7,1411.7 L1695.6,1420.1 L1698.5,1428.5 L1701.4,1436.8 L1704.3,1445.1 L1707.3,1453.3 L1710.2,1461.4 L1713.2,1469.4 L1716.1,1477.3 L1719.1,1485.0 L1722.1,1492.7 L1725.1,1500.2 L1728.1,1507.5 L1731.1,1514.7 L1734.2,1521.7 L1737.2,1528.5 L1740.3,1535.1 L1743.4,1541.6 L1746.5,1547.9 L1749.6,1553.9 L1752.7,1559.8 L1755.8,1565.5 L1759.0,1571.0 L1762.1,1576.4 L1765.2,1581.5 L1768.4,1586.4 L1771.5,1591.1 L1774.7,1595.6 L1777.9,1600.0 L1781.0,1604.2 L1784.2,1608.1 L1787.3,1611.9 L1790.5,1615.6 L1793.7,1619.0 L1796.8,1622.3 L1800.0,1625.4 L1803.1,1628.4 L1806.2,1631.2 L1809.4,1633.9 L1812.5,1636.4 L1815.6,1638.8 L1818.8,1641.0 L1821.9,1643.1 L1825.0,1645.1 L1828.1,1647.0 L1831.2,1648.8 L1834.3,1650.4 L1837.4,1652.0 L1840.5,1653.4 L1843.5,1654.8 L1846.6,1656.1 L1849.7,1657.3 L1852.7,1658.4 L1855.8,1659.4 L1858.8,1660.4 L1861.9,1661.2 L1864.9,1662.1 L1868.0,1662.8 L1871.0,1663.6 L1874.0,1664.2 L1877.0,1664.8 L1880.1,1665.4 L1883.1,1665.9 L1886.1,1666.4 L1889.1,1666.8 L1892.1,1667.2 L1895.1,1667.6 L1898.1,1668.0 L1901.1,1668.3 L1904.1,1668.6 L1907.1,1668.8 L1910.1,1669.1 L1913.1,1669.3 L1916.1,1669.5 L1919.1,1669.7 L1922.1,1669.8 L1925.1,1670.0 L1928.0,1670.1 L1931.0,1670.3 L1934.0,1670.4 L1937.0,1670.5 L1940.0,1670.6 L1943.0,1670.7 L1945.9,1670.7 L1948.9,1670.8 L1951.9,1670.9 L1954.9,1670.9 L1957.9,1671.0 L1960.8,1671.0 L1963.8,1671.1 L1960.1,1671.3 L1957.2,1671.3 L1954.2,1671.3 L1951.2,1671.3 L1948.3,1671.3 L1945.3,1671.3 L1942.3,1671.2 L1939.4,1671.2 L1936.4,1671.2 L1933.5,1671.2 L1930.5,1671.1 L1927.5,1671.1 L1924.6,1671.1 L1921.6,1671.0 L1918.6,1670.9 L1915.7,1670.9 L1912.7,1670.8 L1909.7,1670.7 L1906.8,1670.7 L1903.8,1670.6 L1900.8,1670.5 L1897.9,1670.4 L1894.9,1670.2 L1891.9,1670.1 L1888.9,1669.9 L1886.0,1669.7 L1883.0,1669.6 L1880.0,1669.3 L1877.0,1669.1 L1874.1,1668.8 L1871.1,1668.6 L1868.1,1668.2 L1865.1,1667.9 L1862.1,1667.5 L1859.2,1667.1 L1856.2,1666.6 L1853.2,1666.1 L1850.2,1665.6 L1847.2,1665.0 L1844.2,1664.4 L1841.2,1663.7 L1838.2,1662.9 L1835.2,1662.1 L1832.2,1661.2 L1829.2,1660.2 L1826.2,1659.2 L1823.1,1658.1 L1820.1,1656.9 L1817.1,1655.6 L1814.1,1654.2 L1811.0,1652.8 L1808.0,1651.2 L1805.0,1649.5 L1801.9,1647.7 L1798.9,1645.7 L1795.8,1643.7 L1792.8,1641.5 L1789.7,1639.2 L1786.7,1636.8 L1783.6,1634.2 L1780.6,1631.5 L1777.5,1628.6 L1774.5,1625.5 L1771.4,1622.3 L1768.3,1619.0 L1765.3,1615.5 L1762.2,1611.8 L1759.2,1607.9 L1756.1,1603.9 L1753.1,1599.7 L1750.1,1595.4 L1747.0,1590.8 L1744.0,1586.2 L1741.0,1581.3 L1738.0,1576.3 L1734.9,1571.1 L1731.9,1565.7 L1729.0,1560.2 L1726.0,1554.6 L1723.0,1548.8 L1720.0,1542.9 L1717.1,1536.9 L1714.1,1530.7 L1711.2,1524.4 L1708.2,1518.1 L1705.3,1511.6 L1702.4,1505.1 L1699.5,1498.5 L1696.5,1491.9 L1693.6,1485.2 L1690.7,1478.6 L1687.8,1471.9 L1684.9,1465.2 L1682.0,1458.6 L1679.1,1452.0 L1676.2,1445.5 L1673.2,1439.0 L1670.3,1432.7 L1667.4,1426.5 L1664.5,1420.4 L1661.5,1414.5 L1658.6,1408.7 L1655.6,1403.1 L1652.6,1397.8 L1649.7,1392.7 L1646.7,1387.8 L1643.7,1383.1 L1640.7,1378.8 L1637.7,1374.7 L1634.8,1371.0 L1631.8,1367.5 L1628.8,1364.4 L1625.8,1361.6 L1622.8,1359.2 L1619.8,1357.1 L1616.8,1355.4 L1613.8,1354.1 L1610.8,1353.1 L1607.9,1352.5 L1604.9,1352.3 L1601.1,1352.5 L1597.3,1353.1 L1593.5,1354.2 L1589.7,1355.8 L1585.9,1357.8 L1582.1,1360.4 L1578.3,1363.4 L1574.5,1366.9 L1570.6,1370.8 L1566.8,1375.2 L1563.0,1380.0 L1559.2,1385.3 L1555.4,1390.9 L1551.6,1396.9 L1547.8,1403.2 L1544.0,1409.9 L1540.3,1416.8 L1536.5,1424.0 L1532.7,1431.4 L1528.9,1439.1 L1525.2,1446.9 L1521.4,1454.8 L1517.7,1462.8 L1513.9,1470.9 L1510.1,1479.1 L1506.4,1487.2 L1502.6,1495.3 L1498.8,1503.4 L1495.1,1511.4 L1491.3,1519.4 L1487.5,1527.1 L1483.7,1534.8 L1479.9,1542.3 L1476.1,1549.6 L1472.3,1556.7 L1468.4,1563.6 L1464.6,1570.3 L1460.8,1576.8 L1456.9,1583.0 L1453.1,1589.0 L1449.2,1594.7 L1445.3,1600.1 L1441.5,1605.3 L1437.6,1610.2 L1433.7,1614.9 L1429.8,1619.3 L1426.0,1623.5 L1422.1,1627.4 L1418.2,1631.1 L1414.3,1634.6 L1410.4,1637.8 L1406.6,1640.8 L1402.7,1643.6 L1398.8,1646.1 L1395.0,1648.5 L1391.1,1650.7 L1387.2,1652.8 L1383.4,1654.6 L1379.5,1656.3 L1375.7,1657.9 L1371.9,1659.3 L1368.0,1660.6 L1364.2,1661.8 L1360.3,1662.8 L1356.5,1663.8 L1352.7,1664.7 L1348.9,1665.5 L1345.0,1666.2 L1341.2,1666.8 L1337.4,1667.3 L1333.6,1667.8 L1329.8,1668.3 L1326.0,1668.7 L1322.2,1669.0 L1318.3,1669.3 L1314.5,1669.6 L1310.7,1669.9 L1306.9,1670.1 L1303.1,1670.2 L1299.3,1670.4 L1295.5,1670.5 L1291.7,1670.7 L1287.9,1670.8 L1284.1,1670.9 L1280.3,1670.9 L1276.5,1671.0 L1272.7,1671.1 L1268.9,1671.1 L1265.1,1671.2 L1261.3,1671.2 L1257.5,1671.2 L1253.7,1671.3 L1249.9,1671.3 L1246.1,1671.3 L1242.3,1671.3 L1238.5,1671.3 L1234.7,1671.3 L1230.9,1671.4 L1227.1,1671.4 L1223.3,1671.4 L1219.5,1671.4 L1215.8,1671.4 L1212.0,1671.4 L1208.2,1671.4 L1204.4,1671.4 L1200.6,1671.4 L1196.8,1671.4 L1193.0,1671.4 L1189.2,1671.4 L1185.4,1671.4 L1181.6,1671.4 L1177.8,1671.4 L1174.0,1671.4 L1170.2,1671.4 L1166.4,1671.4 L1162.6,1671.4 L1158.8,1671.4 L1155.0,1671.4 L1151.2,1671.4 L1147.4,1671.4Z" fill="#9970AB" fill-opacity="0.3" stroke="none"/>
<path d="M1149.2,1671.4 L1337.9,1671.4 L1340.4,1671.4 L1342.9,1671.3 L1345.4,1671.1 L1348.0,1670.8 L1350.5,1670.4 L1353.0,1669.9 L1355.5,1669.3 L1358.0,1668.6 L1360.5,1667.7 L1363.0,1666.6 L1365.5,1665.4 L1368.0,1664.1 L1370.5,1662.6 L1373.0,1661.0 L1375.5,1659.2 L1378.0,1657.3 L1380.5,1655.1 L1383.0,1652.8 L1385.5,1650.4 L1387.9,1647.8 L1390.4,1645.0 L1392.9,1642.0 L1395.4,1638.9 L1397.8,1635.6 L1400.3,1632.1 L1402.8,1628.4 L1405.3,1624.6 L1407.7,1620.6 L1410.2,1616.4 L1412.7,1612.1 L1415.2,1607.5 L1417.6,1602.8 L1420.1,1598.0 L1422.6,1592.9 L1425.0,1587.8 L1427.5,1582.4 L1430.0,1576.9 L1432.5,1571.2 L1434.9,1565.4 L1437.4,1559.4 L1439.9,1553.3 L1442.4,1547.0 L1444.9,1540.6 L1447.4,1534.0 L1449.8,1527.4 L1452.3,1520.6 L1454.8,1513.6 L1457.3,1506.6 L1459.8,1499.4 L1462.3,1492.1 L1464.8,1484.8 L1467.3,1477.3 L1469.8,1469.7 L1472.4,1462.1 L1474.9,1454.4 L1477.4,1446.6 L1479.9,1438.7 L1482.4,1430.8 L1485.0,1422.8 L1487.5,1414.8 L1490.0,1406.8 L1492.5,1398.7 L1495.1,1390.6 L1497.6,1382.5 L1500.1,1374.4 L1502.7,1366.2 L1505.2,1358.1 L1507.7,1350.0 L1510.3,1342.0 L1512.8,1334.0 L1515.3,1326.0 L1517.9,1318.0 L1520.4,1310.2 L1523.0,1302.4 L1525.5,1294.7 L1528.0,1287.0 L1530.6,1279.5 L1533.1,1272.0 L1535.6,1264.7 L1538.2,1257.5 L1540.7,1250.4 L1543.2,1243.5 L1545.8,1236.7 L1548.3,1230.1 L1550.8,1223.6 L1553.3,1217.3 L1555.9,1211.2 L1558.4,1205.3 L1560.9,1199.5 L1563.4,1194.0 L1565.9,1188.7 L1568.4,1183.6 L1571.0,1178.7 L1573.5,1174.0 L1576.0,1169.6 L1578.5,1165.5 L1581.0,1161.6 L1583.5,1157.9 L1586.1,1154.5 L1588.6,1151.4 L1591.1,1148.6 L1593.6,1146.0 L1596.1,1143.8 L1598.6,1141.8 L1601.1,1140.1 L1603.7,1138.7 L1606.2,1137.6 L1608.7,1136.9 L1611.2,1136.4 L1613.7,1136.2 L1615.7,1136.3 L1617.7,1136.6 L1619.7,1137.1 L1621.6,1137.8 L1623.6,1138.7 L1625.6,1139.9 L1627.5,1141.2 L1629.5,1142.7 L1631.5,1144.4 L1633.4,1146.3 L1635.4,1148.4 L1637.4,1150.7 L1639.3,1153.3 L1641.3,1156.0 L1643.3,1158.9 L1645.3,1162.0 L1647.2,1165.3 L1649.2,1168.8 L1651.2,1172.4 L1653.1,1176.3 L1655.1,1180.3 L1657.1,1184.6 L1659.0,1189.0 L1661.0,1193.5 L1663.0,1198.3 L1665.0,1203.2 L1666.9,1208.3 L1668.9,1213.5 L1670.9,1218.9 L1672.9,1224.5 L1674.8,1230.2 L1676.8,1236.1 L1678.8,1242.1 L1680.8,1248.2 L1682.7,1254.5 L1684.7,1260.9 L1686.7,1267.4 L1688.7,1274.1 L1690.7,1280.9 L1692.7,1287.7 L1694.6,1294.7 L1696.6,1301.8 L1698.6,1309.0 L1700.6,1316.2 L1702.6,1323.5 L1704.5,1331.0 L1706.5,1338.4 L1708.5,1346.0 L1710.5,1353.6 L1712.5,1361.2 L1714.4,1368.9 L1716.4,1376.7 L1718.4,1384.4 L1720.4,1392.2 L1722.3,1400.0 L1724.3,1407.8 L1726.3,1415.7 L1728.3,1423.5 L1730.2,1431.3 L1732.2,1439.1 L1734.1,1446.9 L1736.1,1454.6 L1738.1,1462.3 L1740.0,1470.0 L1742.0,1477.6 L1743.9,1485.2 L1745.9,1492.6 L1747.8,1500.1 L1749.8,1507.4 L1751.7,1514.7 L1753.6,1521.8 L1755.6,1528.9 L1757.5,1535.9 L1759.4,1542.7 L1761.4,1549.5 L1763.3,1556.1 L1765.2,1562.5 L1767.2,1568.9 L1769.1,1575.1 L1771.0,1581.1 L1772.9,1587.0 L1774.8,1592.7 L1776.8,1598.3 L1778.7,1603.7 L1780.6,1608.9 L1782.5,1614.0 L1784.4,1618.8 L1786.4,1623.5 L1788.3,1627.9 L1790.2,1632.2 L1792.1,1636.2 L1794.0,1640.1 L1796.0,1643.7 L1797.9,1647.1 L1799.8,1650.3 L1801.8,1653.3 L1803.7,1656.0 L1805.6,1658.6 L1807.6,1660.9 L1808.6,1662.0 L1808.6,1671.4 L1957.5,1671.4" fill="none" stroke="#BEBEBE" stroke-width="3.04" stroke-linejoin="round"/>
<path d="M1149.2,1671.4 L1159.1,1671.4 L1163.0,1671.4 L1166.8,1671.4 L1170.6,1671.4 L1174.4,1671.4 L1178.3,1671.4 L1182.1,1671.4 L1185.9,1671.4 L1189.7,1671.4 L1193.6,1671.4 L1197.4,1671.4 L1201.2,1671.4 L1205.0,1671.4 L1208.9,1671.4 L1212.7,1671.4 L1216.5,1671.4 L1220.3,1671.4 L1224.2,1671.3 L1228.0,1671.3 L1231.8,1671.3 L1235.6,1671.3 L1239.5,1671.3 L1243.3,1671.3 L1247.1,1671.2 L1250.9,1671.2 L1254.7,1671.2 L1258.6,1671.1 L1262.4,1671.1 L1266.2,1671.0 L1270.0,1671.0 L1273.8,1670.9 L1277.6,1670.8 L1281.5,1670.7 L1285.3,1670.6 L1289.1,1670.5 L1292.9,1670.3 L1296.7,1670.2 L1300.5,1670.0 L1304.3,1669.7 L1308.1,1669.5 L1311.8,1669.2 L1315.6,1668.9 L1319.4,1668.5 L1323.2,1668.1 L1326.9,1667.6 L1330.7,1667.1 L1334.4,1666.5 L1338.2,1665.8 L1341.9,1665.1 L1345.6,1664.2 L1349.3,1663.3 L1353.0,1662.3 L1356.7,1661.1 L1360.4,1659.8 L1364.0,1658.5 L1367.7,1656.9 L1371.3,1655.2 L1374.9,1653.4 L1378.5,1651.3 L1382.0,1649.1 L1385.6,1646.7 L1389.1,1644.1 L1392.7,1641.3 L1396.2,1638.2 L1399.6,1634.9 L1403.1,1631.4 L1406.6,1627.5 L1410.0,1623.4 L1413.5,1619.0 L1416.9,1614.4 L1420.3,1609.4 L1423.7,1604.1 L1427.2,1598.5 L1430.6,1592.5 L1434.0,1586.3 L1437.5,1579.7 L1440.9,1572.8 L1444.4,1565.5 L1447.9,1558.0 L1451.4,1550.1 L1455.0,1541.9 L1458.5,1533.4 L1462.1,1524.6 L1465.8,1515.6 L1469.5,1506.2 L1473.2,1496.6 L1477.0,1486.8 L1480.8,1476.8 L1484.6,1466.7 L1488.4,1456.3 L1492.3,1445.8 L1496.3,1435.3 L1500.2,1424.7 L1504.2,1414.0 L1508.1,1403.3 L1512.1,1392.7 L1516.1,1382.2 L1520.1,1371.7 L1524.0,1361.4 L1528.0,1351.3 L1532.0,1341.5 L1535.9,1331.8 L1539.8,1322.5 L1543.7,1313.5 L1547.6,1304.9 L1551.4,1296.7 L1555.3,1288.9 L1559.1,1281.5 L1562.9,1274.7 L1566.7,1268.3 L1570.4,1262.5 L1574.2,1257.2 L1578.0,1252.5 L1581.7,1248.4 L1585.5,1244.9 L1589.3,1241.9 L1593.0,1239.5 L1596.8,1237.7 L1600.6,1236.5 L1604.4,1235.8 L1608.3,1235.6 L1611.2,1235.7 L1614.1,1236.1 L1617.1,1236.8 L1620.0,1238.0 L1622.9,1239.5 L1625.8,1241.4 L1628.7,1243.8 L1631.7,1246.6 L1634.6,1249.8 L1637.5,1253.5 L1640.4,1257.5 L1643.3,1262.1 L1646.2,1267.0 L1649.2,1272.4 L1652.1,1278.1 L1655.0,1284.3 L1657.9,1290.8 L1660.9,1297.7 L1663.8,1304.9 L1666.8,1312.5 L1669.7,1320.3 L1672.7,1328.5 L1675.7,1336.9 L1678.7,1345.5 L1681.6,1354.3 L1684.6,1363.3 L1687.6,1372.5 L1690.6,1381.8 L1693.6,1391.2 L1696.6,1400.6 L1699.6,1410.2 L1702.6,1419.7 L1705.6,1429.3 L1708.5,1438.8 L1711.5,1448.3 L1714.5,1457.7 L1717.4,1467.0 L1720.4,1476.2 L1723.3,1485.2 L1726.2,1494.1 L1729.1,1502.8 L1732.0,1511.4 L1734.9,1519.7 L1737.8,1527.8 L1740.6,1535.7 L1743.5,1543.4 L1746.3,1550.8 L1749.2,1558.0 L1752.0,1564.9 L1754.8,1571.5 L1757.6,1577.9 L1760.4,1584.0 L1763.2,1589.8 L1766.0,1595.4 L1768.8,1600.7 L1771.6,1605.8 L1774.4,1610.5 L1777.2,1615.1 L1780.0,1619.3 L1782.8,1623.3 L1785.6,1627.1 L1788.4,1630.7 L1791.2,1634.0 L1794.0,1637.1 L1796.9,1640.0 L1799.7,1642.8 L1802.5,1645.3 L1805.4,1647.6 L1808.2,1649.8 L1811.1,1651.8 L1813.9,1653.6 L1816.8,1655.3 L1819.6,1656.9 L1822.5,1658.3 L1825.4,1659.6 L1828.3,1660.8 L1831.1,1661.9 L1834.0,1662.9 L1836.9,1663.8 L1839.8,1664.6 L1842.7,1665.4 L1845.6,1666.0 L1848.5,1666.7 L1851.4,1667.2 L1854.3,1667.7 L1857.2,1668.1 L1860.2,1668.5 L1863.1,1668.9 L1866.0,1669.2 L1868.9,1669.4 L1871.8,1669.7 L1874.8,1669.9 L1877.7,1670.1 L1880.6,1670.3 L1883.5,1670.4 L1886.5,1670.5 L1889.4,1670.7 L1892.3,1670.8 L1895.3,1670.8 L1898.2,1670.9 L1901.1,1671.0 L1904.1,1671.1 L1907.0,1671.1 L1909.9,1671.1 L1912.9,1671.2 L1915.8,1671.2 L1918.7,1671.2 L1921.7,1671.3 L1924.6,1671.3 L1927.5,1671.3 L1930.5,1671.3 L1933.4,1671.3 L1936.3,1671.3 L1939.3,1671.4 L1942.2,1671.4 L1945.1,1671.4 L1948.1,1671.4 L1951.0,1671.4 L1953.9,1671.4 L1957.5,1671.4" fill="none" stroke="#5AAE61" stroke-width="3.04" stroke-linejoin="round" stroke-dasharray="12.2,12.2"/>
<path d="M1149.2,1671.4 L1156.3,1671.4 L1160.1,1671.4 L1163.9,1671.4 L1167.7,1671.4 L1171.5,1671.4 L1175.3,1671.4 L1179.1,1671.4 L1182.9,1671.4 L1186.7,1671.4 L1190.5,1671.4 L1194.3,1671.4 L1198.1,1671.4 L1201.8,1671.4 L1205.6,1671.4 L1209.4,1671.3 L1213.2,1671.3 L1217.0,1671.3 L1220.8,1671.3 L1224.6,1671.3 L1228.4,1671.3 L1232.2,1671.3 L1236.0,1671.2 L1239.8,1671.2 L1243.6,1671.2 L1247.4,1671.1 L1251.2,1671.1 L1255.0,1671.0 L1258.8,1671.0 L1262.6,1670.9 L1266.3,1670.8 L1270.1,1670.7 L1273.9,1670.6 L1277.7,1670.5 L1281.5,1670.4 L1285.3,1670.2 L1289.0,1670.1 L1292.8,1669.9 L1296.6,1669.7 L1300.4,1669.4 L1304.1,1669.1 L1307.9,1668.8 L1311.6,1668.5 L1315.4,1668.1 L1319.2,1667.7 L1322.9,1667.2 L1326.6,1666.7 L1330.4,1666.1 L1334.1,1665.4 L1337.8,1664.7 L1341.5,1663.9 L1345.2,1663.0 L1348.9,1662.0 L1352.6,1661.0 L1356.3,1659.8 L1360.0,1658.5 L1363.6,1657.1 L1367.3,1655.6 L1370.9,1653.9 L1374.5,1652.1 L1378.1,1650.2 L1381.7,1648.1 L1385.3,1645.8 L1388.9,1643.3 L1392.5,1640.7 L1396.0,1637.8 L1399.6,1634.8 L1403.1,1631.5 L1406.7,1628.1 L1410.2,1624.4 L1413.7,1620.4 L1417.3,1616.3 L1420.8,1611.9 L1424.3,1607.2 L1427.8,1602.3 L1431.4,1597.1 L1434.9,1591.7 L1438.4,1586.0 L1442.0,1580.0 L1445.6,1573.8 L1449.2,1567.4 L1452.8,1560.7 L1456.4,1553.7 L1460.0,1546.5 L1463.7,1539.1 L1467.4,1531.5 L1471.1,1523.6 L1474.8,1515.6 L1478.6,1507.4 L1482.4,1499.0 L1486.2,1490.5 L1490.0,1481.9 L1493.9,1473.2 L1497.7,1464.4 L1501.6,1455.6 L1505.5,1446.7 L1509.4,1437.8 L1513.3,1429.0 L1517.2,1420.3 L1521.1,1411.6 L1525.0,1403.0 L1528.9,1394.7 L1532.8,1386.4 L1536.7,1378.4 L1540.5,1370.7 L1544.4,1363.2 L1548.2,1356.0 L1552.0,1349.2 L1555.9,1342.7 L1559.7,1336.6 L1563.4,1330.9 L1567.2,1325.6 L1571.0,1320.8 L1574.7,1316.4 L1578.5,1312.6 L1582.3,1309.2 L1586.0,1306.3 L1589.8,1304.0 L1593.6,1302.2 L1597.3,1300.9 L1601.1,1300.2 L1604.9,1299.9 L1607.9,1300.3 L1610.8,1301.2 L1613.8,1302.6 L1616.7,1304.5 L1619.6,1306.8 L1622.6,1309.6 L1625.5,1312.8 L1628.4,1316.4 L1631.3,1320.3 L1634.3,1324.7 L1637.2,1329.3 L1640.2,1334.3 L1643.1,1339.6 L1646.1,1345.2 L1649.1,1351.0 L1652.1,1357.0 L1655.1,1363.3 L1658.1,1369.8 L1661.1,1376.4 L1664.1,1383.3 L1667.1,1390.2 L1670.2,1397.3 L1673.2,1404.5 L1676.3,1411.7 L1679.4,1419.0 L1682.4,1426.4 L1685.5,1433.8 L1688.5,1441.2 L1691.6,1448.6 L1694.6,1456.0 L1697.7,1463.3 L1700.7,1470.6 L1703.7,1477.8 L1706.7,1485.0 L1709.7,1492.1 L1712.7,1499.1 L1715.6,1505.9 L1718.6,1512.7 L1721.5,1519.3 L1724.4,1525.8 L1727.3,1532.1 L1730.2,1538.3 L1733.0,1544.4 L1735.9,1550.2 L1738.7,1556.0 L1741.6,1561.5 L1744.4,1566.9 L1747.2,1572.1 L1750.0,1577.2 L1752.7,1582.1 L1755.5,1586.8 L1758.3,1591.3 L1761.0,1595.7 L1763.8,1599.9 L1766.5,1603.9 L1769.3,1607.7 L1772.0,1611.4 L1774.8,1615.0 L1777.5,1618.3 L1780.3,1621.6 L1783.0,1624.6 L1785.8,1627.5 L1788.5,1630.3 L1791.3,1633.0 L1794.1,1635.4 L1796.8,1637.8 L1799.6,1640.1 L1802.4,1642.2 L1805.2,1644.2 L1808.0,1646.1 L1810.8,1647.8 L1813.6,1649.5 L1816.4,1651.1 L1819.2,1652.5 L1822.1,1653.9 L1824.9,1655.2 L1827.8,1656.4 L1830.6,1657.6 L1833.5,1658.6 L1836.3,1659.6 L1839.2,1660.6 L1842.1,1661.4 L1845.0,1662.2 L1847.8,1663.0 L1850.7,1663.6 L1853.6,1664.3 L1856.5,1664.9 L1859.4,1665.4 L1862.3,1665.9 L1865.2,1666.4 L1868.2,1666.8 L1871.1,1667.2 L1874.0,1667.6 L1876.9,1667.9 L1879.9,1668.3 L1882.8,1668.5 L1885.7,1668.8 L1888.7,1669.0 L1891.6,1669.3 L1894.5,1669.5 L1897.5,1669.6 L1900.4,1669.8 L1903.4,1670.0 L1906.3,1670.1 L1909.3,1670.2 L1912.2,1670.3 L1915.2,1670.4 L1918.1,1670.5 L1921.1,1670.6 L1924.0,1670.7 L1927.0,1670.8 L1929.9,1670.8 L1932.9,1670.9 L1935.9,1671.0 L1938.8,1671.0 L1941.8,1671.0 L1944.7,1671.1 L1947.7,1671.1 L1950.7,1671.1 L1957.5,1671.4" fill="none" stroke="#9970AB" stroke-width="3.04" stroke-linejoin="round" stroke-dasharray="12.2,12.2"/>
<line x1="1108.85" y1="1011.0" x2="1108.85" y2="1704.1" stroke="#000" stroke-width="2.8"/>
<line x1="1107.4499999999998" y1="1702.6999999999998" x2="1998" y2="1702.6999999999998" stroke="#000" stroke-width="2.8"/>
<line x1="1255.6" y1="1702.6999999999998" x2="1255.6" y2="1709.1499999999999" stroke="#333" stroke-width="2.5"/>
<text x="1255.6" y="1730.0" font-size="20.5" fill="#4D4D4D" text-anchor="middle">10</text>
<line x1="1468.3" y1="1702.6999999999998" x2="1468.3" y2="1709.1499999999999" stroke="#333" stroke-width="2.5"/>
<text x="1468.3" y="1730.0" font-size="20.5" fill="#4D4D4D" text-anchor="middle">20</text>
<line x1="1681.0" y1="1702.6999999999998" x2="1681.0" y2="1709.1499999999999" stroke="#333" stroke-width="2.5"/>
<text x="1681.0" y="1730.0" font-size="20.5" fill="#4D4D4D" text-anchor="middle">30</text>
<line x1="1893.7" y1="1702.6999999999998" x2="1893.7" y2="1709.1499999999999" stroke="#333" stroke-width="2.5"/>
<text x="1893.7" y="1730.0" font-size="20.5" fill="#4D4D4D" text-anchor="middle">40</text>
<text transform="translate(1031.1,1356.9) rotate(-90)" font-size="25.9" fill="#000" text-anchor="middle">Suitability for transmission – S(T)</text>
<text x="1149.4" y="1055.8" font-size="32.5" fill="#000" text-anchor="middle">D</text>
<rect x="1146.0" y="1130.5" width="37.7" height="37.5" fill="#BEBEBE" fill-opacity="0.3"/>
<line x1="1148.5" y1="1149.4" x2="1181.5" y2="1149.4" stroke="#BEBEBE" stroke-width="3.04"/>
<text x="1197.7" y="1157.1" font-size="21.42" fill="#000">1: Constant</text>
<rect x="1146.0" y="1171.5" width="37.7" height="37.5" fill="#5AAE61" fill-opacity="0.3"/>
<line x1="1148.5" y1="1190.4" x2="1181.5" y2="1190.4" stroke="#5AAE61" stroke-width="3.04" stroke-dasharray="12.2,12.2"/>
<text x="1197.7" y="1198.1" font-size="21.42" fill="#000">4: RS all traits – DTR 9</text>
<rect x="1146.0" y="1212.5" width="37.7" height="37.5" fill="#9970AB" fill-opacity="0.3"/>
<line x1="1148.5" y1="1231.4" x2="1181.5" y2="1231.4" stroke="#9970AB" stroke-width="3.04" stroke-dasharray="12.2,12.2"/>
<text x="1197.7" y="1239.1" font-size="21.42" fill="#000">4: RS all traits – DTR 12</text>
</g>
<g id="panelE">
<circle cx="602.6" cy="800.1" r="8.6" fill="#BEBEBE"/>
<line x1="566.6" y1="782.1" x2="586.8" y2="782.1" stroke="#1B7837" stroke-width="2.5"/>
<circle cx="576.2" cy="782.1" r="8.6" fill="#1B7837"/>
<line x1="562.4" y1="764.1" x2="583.0" y2="764.1" stroke="#762A83" stroke-width="2.5"/>
<circle cx="572.6" cy="764.1" r="8.6" fill="#762A83"/>
<line x1="335.6" y1="854.0" x2="366.1" y2="854.0" stroke="#BEBEBE" stroke-width="2.5"/>
<circle cx="351.6" cy="854.0" r="8.6" fill="#BEBEBE"/>
<line x1="335.6" y1="836.0" x2="366.1" y2="836.0" stroke="#1B7837" stroke-width="2.5"/>
<circle cx="351.6" cy="836.0" r="8.6" fill="#1B7837"/>
<line x1="335.6" y1="818.0" x2="366.1" y2="818.0" stroke="#762A83" stroke-width="2.5"/>
<circle cx="351.6" cy="818.0" r="8.6" fill="#762A83"/>
<circle cx="797.4" cy="907.8" r="8.6" fill="#BEBEBE"/>
<line x1="742.1" y1="889.9" x2="797.4" y2="889.9" stroke="#1B7837" stroke-width="2.5"/>
<circle cx="777.4" cy="889.9" r="8.6" fill="#1B7837"/>
<line x1="737.7" y1="871.9" x2="797.6" y2="871.9" stroke="#762A83" stroke-width="2.5"/>
<circle cx="771.3" cy="871.9" r="8.6" fill="#762A83"/>
<line x1="97.65" y1="749.5" x2="97.65" y2="923.85" stroke="#000" stroke-width="2.8"/>
<line x1="96.25" y1="922.45" x2="986.85" y2="922.45" stroke="#000" stroke-width="2.8"/>
<line x1="244.4" y1="922.45" x2="244.4" y2="928.9000000000001" stroke="#333" stroke-width="2.5"/>
<text x="244.4" y="948.8" font-size="20.5" fill="#4D4D4D" text-anchor="middle">10</text>
<line x1="457.1" y1="922.45" x2="457.1" y2="928.9000000000001" stroke="#333" stroke-width="2.5"/>
<text x="457.1" y="948.8" font-size="20.5" fill="#4D4D4D" text-anchor="middle">20</text>
<line x1="669.8" y1="922.45" x2="669.8" y2="928.9000000000001" stroke="#333" stroke-width="2.5"/>
<text x="669.8" y="948.8" font-size="20.5" fill="#4D4D4D" text-anchor="middle">30</text>
<line x1="882.5" y1="922.45" x2="882.5" y2="928.9000000000001" stroke="#333" stroke-width="2.5"/>
<text x="882.5" y="948.8" font-size="20.5" fill="#4D4D4D" text-anchor="middle">40</text>
<line x1="91.2" y1="782.1" x2="97.65" y2="782.1" stroke="#333" stroke-width="2.5"/>
<text x="85.2" y="789.9" font-size="20.8" fill="#4D4D4D" text-anchor="end">Topt</text>
<line x1="91.2" y1="836.0" x2="97.65" y2="836.0" stroke="#333" stroke-width="2.5"/>
<text x="85.2" y="843.8" font-size="20.8" fill="#4D4D4D" text-anchor="end">Tmin</text>
<line x1="91.2" y1="889.9" x2="97.65" y2="889.9" stroke="#333" stroke-width="2.5"/>
<text x="85.2" y="897.6" font-size="20.8" fill="#4D4D4D" text-anchor="end">Tmax</text>
<text x="542.0" y="978.8" font-size="26.0" fill="#000" text-anchor="middle">Temperature (°C)</text>
<text x="138.2" y="783.2" font-size="32.5" fill="#000" text-anchor="middle">E</text>
</g>
<g id="panelF">
<line x1="1577.8" y1="802.3" x2="1598.0" y2="802.3" stroke="#1B7837" stroke-width="2.5"/>
<circle cx="1587.4" cy="802.3" r="8.6" fill="#1B7837"/>
<circle cx="1611.2" cy="775.4" r="8.6" fill="#5AAE61"/>
<line x1="1573.6" y1="788.8" x2="1594.2" y2="788.8" stroke="#762A83" stroke-width="2.5"/>
<circle cx="1583.6" cy="788.8" r="8.6" fill="#762A83"/>
<circle cx="1609.3" cy="761.9" r="8.6" fill="#9970AB"/>
<line x1="1346.8" y1="856.2" x2="1377.3" y2="856.2" stroke="#1B7837" stroke-width="2.5"/>
<circle cx="1362.8" cy="856.2" r="8.6" fill="#1B7837"/>
<line x1="1346.8" y1="829.3" x2="1377.3" y2="829.3" stroke="#5AAE61" stroke-width="2.5"/>
<circle cx="1362.8" cy="829.3" r="8.6" fill="#5AAE61"/>
<line x1="1346.8" y1="842.7" x2="1377.3" y2="842.7" stroke="#762A83" stroke-width="2.5"/>
<circle cx="1362.8" cy="842.7" r="8.6" fill="#762A83"/>
<line x1="1346.8" y1="815.8" x2="1377.3" y2="815.8" stroke="#9970AB" stroke-width="2.5"/>
<circle cx="1362.8" cy="815.8" r="8.6" fill="#9970AB"/>
<line x1="1753.3" y1="910.0" x2="1808.6" y2="910.0" stroke="#1B7837" stroke-width="2.5"/>
<circle cx="1788.6" cy="910.0" r="8.6" fill="#1B7837"/>
<circle cx="1808.6" cy="883.1" r="8.6" fill="#5AAE61"/>
<line x1="1748.9" y1="896.6" x2="1808.8" y2="896.6" stroke="#762A83" stroke-width="2.5"/>
<circle cx="1782.5" cy="896.6" r="8.6" fill="#762A83"/>
<circle cx="1808.6" cy="869.7" r="8.6" fill="#9970AB"/>
<line x1="1108.85" y1="749.5" x2="1108.85" y2="923.85" stroke="#000" stroke-width="2.8"/>
<line x1="1107.4499999999998" y1="922.45" x2="1998" y2="922.45" stroke="#000" stroke-width="2.8"/>
<line x1="1255.6" y1="922.45" x2="1255.6" y2="928.9000000000001" stroke="#333" stroke-width="2.5"/>
<text x="1255.6" y="948.8" font-size="20.5" fill="#4D4D4D" text-anchor="middle">10</text>
<line x1="1468.3" y1="922.45" x2="1468.3" y2="928.9000000000001" stroke="#333" stroke-width="2.5"/>
<text x="1468.3" y="948.8" font-size="20.5" fill="#4D4D4D" text-anchor="middle">20</text>
<line x1="1681.0" y1="922.45" x2="1681.0" y2="928.9000000000001" stroke="#333" stroke-width="2.5"/>
<text x="1681.0" y="948.8" font-size="20.5" fill="#4D4D4D" text-anchor="middle">30</text>
<line x1="1893.7" y1="922.45" x2="1893.7" y2="928.9000000000001" stroke="#333" stroke-width="2.5"/>
<text x="1893.7" y="948.8" font-size="20.5" fill="#4D4D4D" text-anchor="middle">40</text>
<line x1="1102.3999999999999" y1="782.1" x2="1108.85" y2="782.1" stroke="#333" stroke-width="2.5"/>
<text x="1096.4" y="789.9" font-size="20.8" fill="#4D4D4D" text-anchor="end">Topt</text>
<line x1="1102.3999999999999" y1="836.0" x2="1108.85" y2="836.0" stroke="#333" stroke-width="2.5"/>
<text x="1096.4" y="843.8" font-size="20.8" fill="#4D4D4D" text-anchor="end">Tmin</text>
<line x1="1102.3999999999999" y1="889.9" x2="1108.85" y2="889.9" stroke="#333" stroke-width="2.5"/>
<text x="1096.4" y="897.6" font-size="20.8" fill="#4D4D4D" text-anchor="end">Tmax</text>
<text x="1553.1" y="978.8" font-size="26.0" fill="#000" text-anchor="middle">Temperature (°C)</text>
<text x="1149.4" y="783.2" font-size="32.5" fill="#000" text-anchor="middle">F</text>
</g>
<g id="panelG">
<circle cx="600.0" cy="1813.6" r="8.6" fill="#A6DBA0"/>
<circle cx="596.8" cy="1786.7" r="8.6" fill="#5AAE61"/>
<line x1="597.5" y1="1800.1" x2="614.9" y2="1800.1" stroke="#C2A5CF" stroke-width="2.5"/>
<circle cx="604.7" cy="1800.1" r="8.6" fill="#C2A5CF"/>
<circle cx="591.7" cy="1773.2" r="8.6" fill="#9970AB"/>
<line x1="229.5" y1="1867.5" x2="259.3" y2="1867.5" stroke="#A6DBA0" stroke-width="2.5"/>
<circle cx="244.8" cy="1867.5" r="8.6" fill="#A6DBA0"/>
<line x1="231.6" y1="1840.6" x2="261.4" y2="1840.6" stroke="#5AAE61" stroke-width="2.5"/>
<circle cx="246.1" cy="1840.6" r="8.6" fill="#5AAE61"/>
<line x1="195.1" y1="1854.0" x2="225.3" y2="1854.0" stroke="#C2A5CF" stroke-width="2.5"/>
<circle cx="210.8" cy="1854.0" r="8.6" fill="#C2A5CF"/>
<line x1="199.7" y1="1827.1" x2="227.4" y2="1827.1" stroke="#9970AB" stroke-width="2.5"/>
<circle cx="212.9" cy="1827.1" r="8.6" fill="#9970AB"/>
<circle cx="882.1" cy="1921.3" r="8.6" fill="#A6DBA0"/>
<circle cx="882.1" cy="1894.4" r="8.6" fill="#5AAE61"/>
<circle cx="909.7" cy="1907.9" r="8.6" fill="#C2A5CF"/>
<circle cx="909.7" cy="1881.0" r="8.6" fill="#9970AB"/>
<line x1="97.65" y1="1760.8" x2="97.65" y2="1935.15" stroke="#000" stroke-width="2.8"/>
<line x1="96.25" y1="1933.75" x2="986.85" y2="1933.75" stroke="#000" stroke-width="2.8"/>
<line x1="244.4" y1="1933.75" x2="244.4" y2="1940.2" stroke="#333" stroke-width="2.5"/>
<text x="244.4" y="1960.0" font-size="20.5" fill="#4D4D4D" text-anchor="middle">10</text>
<line x1="457.1" y1="1933.75" x2="457.1" y2="1940.2" stroke="#333" stroke-width="2.5"/>
<text x="457.1" y="1960.0" font-size="20.5" fill="#4D4D4D" text-anchor="middle">20</text>
<line x1="669.8" y1="1933.75" x2="669.8" y2="1940.2" stroke="#333" stroke-width="2.5"/>
<text x="669.8" y="1960.0" font-size="20.5" fill="#4D4D4D" text-anchor="middle">30</text>
<line x1="882.5" y1="1933.75" x2="882.5" y2="1940.2" stroke="#333" stroke-width="2.5"/>
<text x="882.5" y="1960.0" font-size="20.5" fill="#4D4D4D" text-anchor="middle">40</text>
<line x1="91.2" y1="1793.4" x2="97.65" y2="1793.4" stroke="#333" stroke-width="2.5"/>
<text x="85.2" y="1801.2" font-size="20.8" fill="#4D4D4D" text-anchor="end">Topt</text>
<line x1="91.2" y1="1847.3" x2="97.65" y2="1847.3" stroke="#333" stroke-width="2.5"/>
<text x="85.2" y="1855.0" font-size="20.8" fill="#4D4D4D" text-anchor="end">Tmin</text>
<line x1="91.2" y1="1901.2" x2="97.65" y2="1901.2" stroke="#333" stroke-width="2.5"/>
<text x="85.2" y="1908.9" font-size="20.8" fill="#4D4D4D" text-anchor="end">Tmax</text>
<text x="542.0" y="1990.0" font-size="26.0" fill="#000" text-anchor="middle">Temperature (°C)</text>
<text x="138.2" y="1793.7" font-size="32.5" fill="#000" text-anchor="middle">G</text>
</g>
<g id="panelH">
<circle cx="1613.6" cy="1811.4" r="8.6" fill="#BEBEBE"/>
<circle cx="1608.0" cy="1793.4" r="8.6" fill="#5AAE61"/>
<circle cx="1602.9" cy="1775.5" r="8.6" fill="#9970AB"/>
<line x1="1346.8" y1="1865.2" x2="1376.6" y2="1865.2" stroke="#BEBEBE" stroke-width="2.5"/>
<circle cx="1362.2" cy="1865.2" r="8.6" fill="#BEBEBE"/>
<line x1="1242.8" y1="1847.3" x2="1272.6" y2="1847.3" stroke="#5AAE61" stroke-width="2.5"/>
<circle cx="1257.3" cy="1847.3" r="8.6" fill="#5AAE61"/>
<line x1="1210.9" y1="1829.3" x2="1238.6" y2="1829.3" stroke="#9970AB" stroke-width="2.5"/>
<circle cx="1224.1" cy="1829.3" r="8.6" fill="#9970AB"/>
<circle cx="1808.2" cy="1919.1" r="8.6" fill="#BEBEBE"/>
<circle cx="1893.3" cy="1901.2" r="8.6" fill="#5AAE61"/>
<circle cx="1920.9" cy="1883.2" r="8.6" fill="#9970AB"/>
<line x1="1108.85" y1="1760.8" x2="1108.85" y2="1935.15" stroke="#000" stroke-width="2.8"/>
<line x1="1107.4499999999998" y1="1933.75" x2="1998" y2="1933.75" stroke="#000" stroke-width="2.8"/>
<line x1="1255.6" y1="1933.75" x2="1255.6" y2="1940.2" stroke="#333" stroke-width="2.5"/>
<text x="1255.6" y="1960.0" font-size="20.5" fill="#4D4D4D" text-anchor="middle">10</text>
<line x1="1468.3" y1="1933.75" x2="1468.3" y2="1940.2" stroke="#333" stroke-width="2.5"/>
<text x="1468.3" y="1960.0" font-size="20.5" fill="#4D4D4D" text-anchor="middle">20</text>
<line x1="1681.0" y1="1933.75" x2="1681.0" y2="1940.2" stroke="#333" stroke-width="2.5"/>
<text x="1681.0" y="1960.0" font-size="20.5" fill="#4D4D4D" text-anchor="middle">30</text>
<line x1="1893.7" y1="1933.75" x2="1893.7" y2="1940.2" stroke="#333" stroke-width="2.5"/>
<text x="1893.7" y="1960.0" font-size="20.5" fill="#4D4D4D" text-anchor="middle">40</text>
<line x1="1102.3999999999999" y1="1793.4" x2="1108.85" y2="1793.4" stroke="#333" stroke-width="2.5"/>
<text x="1096.4" y="1801.2" font-size="20.8" fill="#4D4D4D" text-anchor="end">Topt</text>
<line x1="1102.3999999999999" y1="1847.3" x2="1108.85" y2="1847.3" stroke="#333" stroke-width="2.5"/>
<text x="1096.4" y="1855.0" font-size="20.8" fill="#4D4D4D" text-anchor="end">Tmin</text>
<line x1="1102.3999999999999" y1="1901.2" x2="1108.85" y2="1901.2" stroke="#333" stroke-width="2.5"/>
<text x="1096.4" y="1908.9" font-size="20.8" fill="#4D4D4D" text-anchor="end">Tmax</text>
<text x="1553.1" y="1990.0" font-size="26.0" fill="#000" text-anchor="middle">Temperature (°C)</text>
<text x="1149.4" y="1793.7" font-size="32.5" fill="#000" text-anchor="middle">H</text>
</g>
</svg>
</body></html>
